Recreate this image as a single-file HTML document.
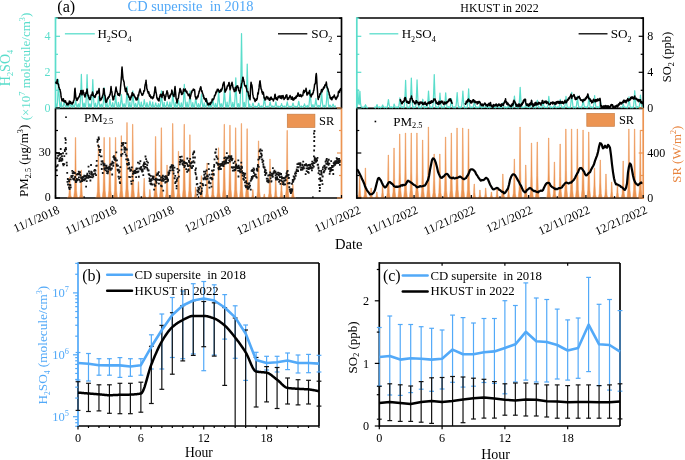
<!DOCTYPE html>
<html><head><meta charset="utf-8"><title>figure</title>
<style>html,body{margin:0;padding:0;background:#fff;width:685px;height:460px;overflow:hidden}
svg{display:block;font-family:"Liberation Serif",serif;will-change:transform}</style></head>
<body>
<svg width="685" height="460" viewBox="0 0 685 460" font-family="Liberation Serif">
<rect width="685" height="460" fill="#fff"/>
<path d="M67.9,198 L68.75,195.48 L69.19,189.6 L69.58,177 L70.02,177 L70.41,189.6 L70.84,195.48 L71.7,198 Z M73.62,198 L74.47,190.74 L74.91,173.8 L75.3,137.5 L75.74,137.5 L76.13,173.8 L76.56,190.74 L77.42,198 Z M79.34,198 L80.19,194.64 L80.63,186.8 L81.02,170 L81.46,170 L81.85,186.8 L82.28,194.64 L83.14,198 Z M96.5,198 L97.36,191.52 L97.79,176.4 L98.18,144 L98.62,144 L99.01,176.4 L99.45,191.52 L100.3,198 Z M102.22,198 L103.08,190.73 L103.51,173.76 L103.9,137.4 L104.34,137.4 L104.73,173.76 L105.17,190.73 L106.02,198 Z M107.94,198 L108.8,190.73 L109.23,173.76 L109.62,137.4 L110.06,137.4 L110.45,173.76 L110.89,190.73 L111.74,198 Z M113.66,198 L114.52,190.73 L114.95,173.76 L115.34,137.4 L115.78,137.4 L116.17,173.76 L116.61,190.73 L117.46,198 Z M119.38,198 L120.23,190.52 L120.67,173.08 L121.06,135.7 L121.5,135.7 L121.89,173.08 L122.33,190.52 L123.18,198 Z M125.1,198 L125.95,188.95 L126.39,167.84 L126.78,122.6 L127.22,122.6 L127.61,167.84 L128.04,188.95 L128.9,198 Z M130.82,198 L131.68,189.16 L132.11,168.52 L132.5,124.3 L132.94,124.3 L133.33,168.52 L133.76,189.16 L134.62,198 Z M136.54,198 L137.4,196.04 L137.83,191.48 L138.22,181.7 L138.66,181.7 L139.05,191.48 L139.48,196.04 L140.34,198 Z M142.26,198 L143.12,195.64 L143.55,190.12 L143.94,178.3 L144.38,178.3 L144.77,190.12 L145.2,195.64 L146.06,198 Z M147.98,198 L148.84,196.99 L149.27,194.64 L149.66,189.6 L150.1,189.6 L150.49,194.64 L150.92,196.99 L151.78,198 Z M153.7,198 L154.56,190.62 L154.99,173.4 L155.38,136.5 L155.82,136.5 L156.21,173.4 L156.64,190.62 L157.5,198 Z M159.42,198 L160.28,189.58 L160.71,169.92 L161.1,127.8 L161.54,127.8 L161.93,169.92 L162.36,189.58 L163.22,198 Z M165.14,198 L166,194.04 L166.43,184.8 L166.82,165 L167.26,165 L167.65,184.8 L168.08,194.04 L168.94,198 Z M170.86,198 L171.72,189.06 L172.15,168.2 L172.54,123.5 L172.98,123.5 L173.37,168.2 L173.8,189.06 L174.66,198 Z M176.58,198 L177.44,192.4 L177.87,179.32 L178.26,151.3 L178.7,151.3 L179.09,179.32 L179.52,192.4 L180.38,198 Z M182.3,198 L183.16,189.16 L183.59,168.52 L183.98,124.3 L184.42,124.3 L184.81,168.52 L185.24,189.16 L186.1,198 Z M188.02,198 L188.88,190.42 L189.31,172.72 L189.7,134.8 L190.14,134.8 L190.53,172.72 L190.96,190.42 L191.82,198 Z M193.74,198 L194.59,196.68 L195.03,193.6 L195.42,187 L195.86,187 L196.25,193.6 L196.68,196.68 L197.54,198 Z M199.46,198 L200.31,195.32 L200.75,189.08 L201.14,175.7 L201.58,175.7 L201.97,189.08 L202.4,195.32 L203.26,198 Z M205.18,198 L206.03,193.8 L206.47,184 L206.86,163 L207.3,163 L207.69,184 L208.12,193.8 L208.98,198 Z M210.9,198 L211.75,194.69 L212.19,186.96 L212.58,170.4 L213.02,170.4 L213.41,186.96 L213.84,194.69 L214.7,198 Z M216.62,198 L217.47,191.98 L217.91,177.92 L218.3,147.8 L218.74,147.8 L219.13,177.92 L219.56,191.98 L220.42,198 Z M222.34,198 L223.19,189.16 L223.63,168.52 L224.02,124.3 L224.46,124.3 L224.85,168.52 L225.28,189.16 L226.14,198 Z M228.06,198 L228.91,189.26 L229.35,168.88 L229.74,125.2 L230.18,125.2 L230.57,168.88 L231,189.26 L231.86,198 Z M233.78,198 L234.63,189.58 L235.07,169.92 L235.46,127.8 L235.9,127.8 L236.29,169.92 L236.72,189.58 L237.58,198 Z M239.5,198 L240.36,189.06 L240.79,168.2 L241.18,123.5 L241.62,123.5 L242.01,168.2 L242.44,189.06 L243.3,198 Z M245.22,198 L246.08,189.68 L246.51,170.28 L246.9,128.7 L247.34,128.7 L247.73,170.28 L248.16,189.68 L249.02,198 Z M250.94,198 L251.8,196.99 L252.23,194.64 L252.62,189.6 L253.06,189.6 L253.45,194.64 L253.88,196.99 L254.74,198 Z M256.66,198 L257.51,191.15 L257.95,175.16 L258.34,140.9 L258.78,140.9 L259.17,175.16 L259.61,191.15 L260.46,198 Z M262.38,198 L263.23,197.52 L263.67,196.4 L264.06,194 L264.5,194 L264.89,196.4 L265.32,197.52 L266.18,198 Z M268.1,198 L268.95,193.32 L269.39,182.4 L269.78,159 L270.22,159 L270.61,182.4 L271.05,193.32 L271.9,198 Z M273.82,198 L274.68,195.53 L275.11,189.76 L275.5,177.4 L275.94,177.4 L276.33,189.76 L276.77,195.53 L277.62,198 Z M279.54,198 L280.39,195.73 L280.83,190.44 L281.22,179.1 L281.66,179.1 L282.05,190.44 L282.49,195.73 L283.34,198 Z M285.26,198 L286.11,189.89 L286.55,170.96 L286.94,130.4 L287.38,130.4 L287.77,170.96 L288.2,189.89 L289.06,198 Z M290.98,198 L291.83,196.37 L292.27,192.56 L292.66,184.4 L293.1,184.4 L293.49,192.56 L293.93,196.37 L294.78,198 Z" fill="#EC9452" stroke="#EC9452" stroke-width="0.5"/>
<path d="M357.76,198 L358.62,195.36 L359.06,189.2 L359.44,176 L359.88,176 L360.27,189.2 L360.71,195.36 L361.56,198 Z M363.49,198 L364.35,194.4 L364.78,186 L365.17,168 L365.61,168 L366,186 L366.44,194.4 L367.29,198 Z M369.22,198 L370.07,196.8 L370.51,194 L370.9,188 L371.34,188 L371.73,194 L372.17,196.8 L373.02,198 Z M374.95,198 L375.8,197.28 L376.24,195.6 L376.63,192 L377.07,192 L377.46,195.6 L377.89,197.28 L378.75,198 Z M380.68,198 L381.53,196.32 L381.97,192.4 L382.36,184 L382.8,184 L383.18,192.4 L383.62,196.32 L384.48,198 Z M386.4,198 L387.26,192.84 L387.7,180.8 L388.08,155 L388.52,155 L388.91,180.8 L389.35,192.84 L390.2,198 Z M392.13,198 L392.99,192 L393.42,178 L393.81,148 L394.25,148 L394.64,178 L395.08,192 L395.93,198 Z M397.86,198 L398.71,190.32 L399.15,172.4 L399.54,134 L399.98,134 L400.37,172.4 L400.81,190.32 L401.66,198 Z M403.59,198 L404.44,190.2 L404.88,172 L405.27,133 L405.71,133 L406.1,172 L406.53,190.2 L407.39,198 Z M409.32,198 L410.17,190.2 L410.61,172 L411,133 L411.44,133 L411.82,172 L412.26,190.2 L413.12,198 Z M415.04,198 L415.9,190.2 L416.34,172 L416.72,133 L417.16,133 L417.55,172 L417.99,190.2 L418.84,198 Z M420.77,198 L421.63,191.04 L422.06,174.8 L422.45,140 L422.89,140 L423.28,174.8 L423.72,191.04 L424.57,198 Z M426.5,198 L427.36,189.48 L427.79,169.6 L428.18,127 L428.62,127 L429.01,169.6 L429.45,189.48 L430.3,198 Z M432.23,198 L433.08,192.72 L433.52,180.4 L433.91,154 L434.35,154 L434.74,180.4 L435.17,192.72 L436.03,198 Z M437.96,198 L438.81,192.72 L439.25,180.4 L439.64,154 L440.08,154 L440.46,180.4 L440.9,192.72 L441.76,198 Z M443.68,198 L444.54,190.68 L444.98,173.6 L445.36,137 L445.8,137 L446.19,173.6 L446.63,190.68 L447.48,198 Z M449.41,198 L450.27,190.2 L450.7,172 L451.09,133 L451.53,133 L451.92,172 L452.36,190.2 L453.21,198 Z M455.14,198 L456,189.6 L456.43,170 L456.82,128 L457.26,128 L457.65,170 L458.09,189.6 L458.94,198 Z M460.87,198 L461.72,189.6 L462.16,170 L462.55,128 L462.99,128 L463.38,170 L463.81,189.6 L464.67,198 Z M466.6,198 L467.45,189.72 L467.89,170.4 L468.28,129 L468.72,129 L469.1,170.4 L469.54,189.72 L470.4,198 Z M472.32,198 L473.18,196.32 L473.62,192.4 L474,184 L474.44,184 L474.83,192.4 L475.27,196.32 L476.12,198 Z M478.05,198 L478.91,197.04 L479.34,194.8 L479.73,190 L480.17,190 L480.56,194.8 L481,197.04 L481.85,198 Z M483.78,198 L484.64,196.8 L485.07,194 L485.46,188 L485.9,188 L486.29,194 L486.73,196.8 L487.58,198 Z M489.51,198 L490.36,197.28 L490.8,195.6 L491.19,192 L491.63,192 L492.02,195.6 L492.45,197.28 L493.31,198 Z M495.24,198 L496.09,196.8 L496.53,194 L496.92,188 L497.36,188 L497.74,194 L498.18,196.8 L499.04,198 Z M500.96,198 L501.82,195.12 L502.26,188.4 L502.64,174 L503.08,174 L503.47,188.4 L503.91,195.12 L504.76,198 Z M506.69,198 L507.55,196.8 L507.98,194 L508.37,188 L508.81,188 L509.2,194 L509.64,196.8 L510.49,198 Z M512.42,198 L513.28,193.32 L513.71,182.4 L514.1,159 L514.54,159 L514.93,182.4 L515.37,193.32 L516.22,198 Z M518.15,198 L519,189.48 L519.44,169.6 L519.83,127 L520.27,127 L520.66,169.6 L521.09,189.48 L521.95,198 Z M523.88,198 L524.73,194.04 L525.17,184.8 L525.56,165 L526,165 L526.38,184.8 L526.82,194.04 L527.68,198 Z M529.6,198 L530.46,191.4 L530.9,176 L531.28,143 L531.72,143 L532.11,176 L532.55,191.4 L533.4,198 Z M535.33,198 L536.19,191.28 L536.62,175.6 L537.01,142 L537.45,142 L537.84,175.6 L538.28,191.28 L539.13,198 Z M546.79,198 L547.64,190.8 L548.08,174 L548.47,138 L548.91,138 L549.3,174 L549.73,190.8 L550.59,198 Z M552.52,198 L553.37,193.68 L553.81,183.6 L554.2,162 L554.64,162 L555.02,183.6 L555.46,193.68 L556.32,198 Z M558.24,198 L559.1,191.52 L559.54,176.4 L559.92,144 L560.36,144 L560.75,176.4 L561.19,191.52 L562.04,198 Z M563.97,198 L564.83,189.72 L565.26,170.4 L565.65,129 L566.09,129 L566.48,170.4 L566.92,189.72 L567.77,198 Z M569.7,198 L570.56,189.72 L570.99,170.4 L571.38,129 L571.82,129 L572.21,170.4 L572.64,189.72 L573.5,198 Z M575.43,198 L576.28,189.72 L576.72,170.4 L577.11,129 L577.55,129 L577.94,170.4 L578.37,189.72 L579.23,198 Z M581.16,198 L582.01,189.84 L582.45,170.8 L582.84,130 L583.28,130 L583.66,170.8 L584.1,189.84 L584.96,198 Z M586.88,198 L587.74,190.08 L588.18,171.6 L588.56,132 L589,132 L589.39,171.6 L589.83,190.08 L590.68,198 Z M592.61,198 L593.47,194.4 L593.9,186 L594.29,168 L594.73,168 L595.12,186 L595.56,194.4 L596.41,198 Z M598.34,198 L599.2,193.44 L599.63,182.8 L600.02,160 L600.46,160 L600.85,182.8 L601.28,193.44 L602.14,198 Z M604.07,198 L604.92,195.12 L605.36,188.4 L605.75,174 L606.19,174 L606.58,188.4 L607.01,195.12 L607.87,198 Z M609.8,198 L610.65,196.08 L611.09,191.6 L611.48,182 L611.92,182 L612.3,191.6 L612.74,196.08 L613.6,198 Z M615.52,198 L616.38,196.32 L616.82,192.4 L617.2,184 L617.64,184 L618.03,192.4 L618.47,196.32 L619.32,198 Z M621.25,198 L622.11,193.56 L622.54,183.2 L622.93,161 L623.37,161 L623.76,183.2 L624.2,193.56 L625.05,198 Z M626.98,198 L627.84,189.72 L628.27,170.4 L628.66,129 L629.1,129 L629.49,170.4 L629.93,189.72 L630.78,198 Z M632.71,198 L633.56,189.72 L634,170.4 L634.39,129 L634.83,129 L635.22,170.4 L635.65,189.72 L636.51,198 Z M638.44,198 L639.29,189.84 L639.73,170.8 L640.12,130 L640.56,130 L640.94,170.8 L641.38,189.84 L642.24,198 Z" fill="#EC9452" stroke="#EC9452" stroke-width="0.5"/>
<path d="M55.36,165.76h1.8v1.8h-1.8z M55.87,169.33h1.8v1.8h-1.8z M55.71,151.91h1.8v1.8h-1.8z M56.36,157.37h1.8v1.8h-1.8z M56.54,164.88h1.8v1.8h-1.8z M56.77,164.25h1.8v1.8h-1.8z M57.19,154.94h1.8v1.8h-1.8z M57.51,152.44h1.8v1.8h-1.8z M58.03,152.26h1.8v1.8h-1.8z M58.36,160.24h1.8v1.8h-1.8z M58.64,153.98h1.8v1.8h-1.8z M58.55,158.13h1.8v1.8h-1.8z M59.07,159.79h1.8v1.8h-1.8z M59.6,156.85h1.8v1.8h-1.8z M59.65,153.09h1.8v1.8h-1.8z M59.82,148.12h1.8v1.8h-1.8z M60.23,159.23h1.8v1.8h-1.8z M60.24,152.88h1.8v1.8h-1.8z M60.6,159.88h1.8v1.8h-1.8z M61.06,155.18h1.8v1.8h-1.8z M61.34,157.76h1.8v1.8h-1.8z M61.49,158.97h1.8v1.8h-1.8z M62.1,152.33h1.8v1.8h-1.8z M62.13,163.09h1.8v1.8h-1.8z M62.58,164.5h1.8v1.8h-1.8z M62.66,163.35h1.8v1.8h-1.8z M63.4,163.15h1.8v1.8h-1.8z M63.43,155.13h1.8v1.8h-1.8z M63.9,148.7h1.8v1.8h-1.8z M63.94,150.22h1.8v1.8h-1.8z M64.39,137.13h1.8v1.8h-1.8z M64.68,141.91h1.8v1.8h-1.8z M64.86,138.97h1.8v1.8h-1.8z M64.88,147.01h1.8v1.8h-1.8z M65.18,148.51h1.8v1.8h-1.8z M65.42,152.64h1.8v1.8h-1.8z M66,164.57h1.8v1.8h-1.8z M65.81,161.68h1.8v1.8h-1.8z M66.55,181.02h1.8v1.8h-1.8z M66.31,171.98h1.8v1.8h-1.8z M66.9,178.11h1.8v1.8h-1.8z M67.08,183.6h1.8v1.8h-1.8z M67.33,183.68h1.8v1.8h-1.8z M67.79,178.82h1.8v1.8h-1.8z M68.29,180.49h1.8v1.8h-1.8z M68.06,186.61h1.8v1.8h-1.8z M68.69,188.24h1.8v1.8h-1.8z M68.8,183.94h1.8v1.8h-1.8z M69.53,184.26h1.8v1.8h-1.8z M69.86,186.51h1.8v1.8h-1.8z M69.69,178.42h1.8v1.8h-1.8z M69.84,178.49h1.8v1.8h-1.8z M70.35,175.25h1.8v1.8h-1.8z M70.5,176.24h1.8v1.8h-1.8z M71.08,176.06h1.8v1.8h-1.8z M71.14,175.04h1.8v1.8h-1.8z M71.37,170.04h1.8v1.8h-1.8z M71.73,172.26h1.8v1.8h-1.8z M71.89,174.65h1.8v1.8h-1.8z M72.32,172.25h1.8v1.8h-1.8z M72.21,178.04h1.8v1.8h-1.8z M72.62,171.1h1.8v1.8h-1.8z M72.93,178.81h1.8v1.8h-1.8z M72.8,178.17h1.8v1.8h-1.8z M73.12,178.48h1.8v1.8h-1.8z M73.31,177.52h1.8v1.8h-1.8z M73.78,171.91h1.8v1.8h-1.8z M73.95,172.12h1.8v1.8h-1.8z M74.24,176.08h1.8v1.8h-1.8z M74.55,179.49h1.8v1.8h-1.8z M74.92,181.21h1.8v1.8h-1.8z M75.35,180.87h1.8v1.8h-1.8z M75.67,173.66h1.8v1.8h-1.8z M75.78,178.01h1.8v1.8h-1.8z M76.35,179.38h1.8v1.8h-1.8z M76.67,172.9h1.8v1.8h-1.8z M77.03,178.47h1.8v1.8h-1.8z M77.45,173.38h1.8v1.8h-1.8z M77.82,170.69h1.8v1.8h-1.8z M78.02,176.56h1.8v1.8h-1.8z M78.37,179.04h1.8v1.8h-1.8z M78.33,172.53h1.8v1.8h-1.8z M78.89,173.49h1.8v1.8h-1.8z M79.14,171.22h1.8v1.8h-1.8z M79.4,180.85h1.8v1.8h-1.8z M79.54,174.48h1.8v1.8h-1.8z M80.14,176.38h1.8v1.8h-1.8z M80.18,176.87h1.8v1.8h-1.8z M80.18,180.39h1.8v1.8h-1.8z M80.77,177.18h1.8v1.8h-1.8z M80.81,179.57h1.8v1.8h-1.8z M81.4,180.17h1.8v1.8h-1.8z M81.35,177.07h1.8v1.8h-1.8z M81.32,178.48h1.8v1.8h-1.8z M81.61,179.2h1.8v1.8h-1.8z M82.07,176.09h1.8v1.8h-1.8z M82.28,179.23h1.8v1.8h-1.8z M82.88,175.98h1.8v1.8h-1.8z M83,178.44h1.8v1.8h-1.8z M83.34,174.81h1.8v1.8h-1.8z M83.39,178.29h1.8v1.8h-1.8z M83.32,175.15h1.8v1.8h-1.8z M83.59,179.47h1.8v1.8h-1.8z M83.97,178.22h1.8v1.8h-1.8z M84.59,178.06h1.8v1.8h-1.8z M84.89,177.25h1.8v1.8h-1.8z M85.21,185.69h1.8v1.8h-1.8z M85.11,175.1h1.8v1.8h-1.8z M85.81,180.14h1.8v1.8h-1.8z M85.97,174.48h1.8v1.8h-1.8z M85.93,176.58h1.8v1.8h-1.8z M86.48,172.64h1.8v1.8h-1.8z M86.47,173.74h1.8v1.8h-1.8z M87.18,177.07h1.8v1.8h-1.8z M87.6,175.36h1.8v1.8h-1.8z M87.62,165.66h1.8v1.8h-1.8z M88.1,176.19h1.8v1.8h-1.8z M88.07,170.58h1.8v1.8h-1.8z M88.13,175.06h1.8v1.8h-1.8z M88.57,176.37h1.8v1.8h-1.8z M88.91,172.72h1.8v1.8h-1.8z M89.5,179.62h1.8v1.8h-1.8z M89.83,176.08h1.8v1.8h-1.8z M90.13,164.09h1.8v1.8h-1.8z M90.29,170.79h1.8v1.8h-1.8z M90.5,173.91h1.8v1.8h-1.8z M90.35,171.26h1.8v1.8h-1.8z M90.91,173.21h1.8v1.8h-1.8z M91.01,171.43h1.8v1.8h-1.8z M91.62,176.44h1.8v1.8h-1.8z M91.72,173.9h1.8v1.8h-1.8z M92.37,175.36h1.8v1.8h-1.8z M92.85,173.3h1.8v1.8h-1.8z M93.3,170.01h1.8v1.8h-1.8z M93.35,169.86h1.8v1.8h-1.8z M93.97,169.07h1.8v1.8h-1.8z M94.34,172.46h1.8v1.8h-1.8z M94.58,169.72h1.8v1.8h-1.8z M95.16,174.2h1.8v1.8h-1.8z M95.4,164.93h1.8v1.8h-1.8z M95.87,164.74h1.8v1.8h-1.8z M95.86,160.05h1.8v1.8h-1.8z M96.53,140.94h1.8v1.8h-1.8z M96.63,138.7h1.8v1.8h-1.8z M96.99,139.25h1.8v1.8h-1.8z M97.31,144.67h1.8v1.8h-1.8z M97.77,136.52h1.8v1.8h-1.8z M98.06,138.31h1.8v1.8h-1.8z M98.09,145.86h1.8v1.8h-1.8z M98.33,149.03h1.8v1.8h-1.8z M98.35,154.29h1.8v1.8h-1.8z M98.9,149.39h1.8v1.8h-1.8z M99.11,151.1h1.8v1.8h-1.8z M99.61,149.07h1.8v1.8h-1.8z M99.85,155.38h1.8v1.8h-1.8z M100.65,155.56h1.8v1.8h-1.8z M100.46,163.54h1.8v1.8h-1.8z M100.66,160.49h1.8v1.8h-1.8z M100.86,168.12h1.8v1.8h-1.8z M101.14,160.78h1.8v1.8h-1.8z M101.69,160.28h1.8v1.8h-1.8z M101.85,172.1h1.8v1.8h-1.8z M102.37,162.34h1.8v1.8h-1.8z M102.7,164.62h1.8v1.8h-1.8z M102.8,164.78h1.8v1.8h-1.8z M103.09,163.86h1.8v1.8h-1.8z M103.63,163.17h1.8v1.8h-1.8z M103.35,167.51h1.8v1.8h-1.8z M103.58,168.43h1.8v1.8h-1.8z M104.2,167.23h1.8v1.8h-1.8z M104.13,164.72h1.8v1.8h-1.8z M104.61,169.37h1.8v1.8h-1.8z M104.88,167.27h1.8v1.8h-1.8z M105.59,164.64h1.8v1.8h-1.8z M105.47,165.83h1.8v1.8h-1.8z M105.99,170.14h1.8v1.8h-1.8z M106.25,172.19h1.8v1.8h-1.8z M106.27,167.61h1.8v1.8h-1.8z M106.88,172.45h1.8v1.8h-1.8z M107.21,166.8h1.8v1.8h-1.8z M107.18,170.64h1.8v1.8h-1.8z M107.84,168.75h1.8v1.8h-1.8z M107.61,167.8h1.8v1.8h-1.8z M108.37,165.73h1.8v1.8h-1.8z M108.61,167.81h1.8v1.8h-1.8z M108.81,166.11h1.8v1.8h-1.8z M109.34,167.79h1.8v1.8h-1.8z M109.44,163.79h1.8v1.8h-1.8z M109.9,168.87h1.8v1.8h-1.8z M110.11,164.05h1.8v1.8h-1.8z M110.27,163.14h1.8v1.8h-1.8z M110.41,162.8h1.8v1.8h-1.8z M111.02,167.58h1.8v1.8h-1.8z M111.27,173.61h1.8v1.8h-1.8z M111.49,162.52h1.8v1.8h-1.8z M111.52,160.64h1.8v1.8h-1.8z M112.29,164.48h1.8v1.8h-1.8z M112.65,161.92h1.8v1.8h-1.8z M112.34,164.88h1.8v1.8h-1.8z M112.58,156.12h1.8v1.8h-1.8z M113.05,155.34h1.8v1.8h-1.8z M113.29,157.88h1.8v1.8h-1.8z M113.41,156.59h1.8v1.8h-1.8z M113.98,159.07h1.8v1.8h-1.8z M114.23,157.54h1.8v1.8h-1.8z M114.47,157.16h1.8v1.8h-1.8z M114.72,158.14h1.8v1.8h-1.8z M115.19,159.67h1.8v1.8h-1.8z M115.42,151.44h1.8v1.8h-1.8z M115.81,163.39h1.8v1.8h-1.8z M115.97,165.07h1.8v1.8h-1.8z M116.06,159.46h1.8v1.8h-1.8z M116.1,165.04h1.8v1.8h-1.8z M116.68,168.81h1.8v1.8h-1.8z M117.02,169.74h1.8v1.8h-1.8z M117.13,164.72h1.8v1.8h-1.8z M117.88,168.83h1.8v1.8h-1.8z M117.56,175.65h1.8v1.8h-1.8z M118.17,177.77h1.8v1.8h-1.8z M118.14,171.75h1.8v1.8h-1.8z M118.82,170.54h1.8v1.8h-1.8z M118.9,181.35h1.8v1.8h-1.8z M119.19,182.22h1.8v1.8h-1.8z M119.51,176.3h1.8v1.8h-1.8z M119.42,166.25h1.8v1.8h-1.8z M120.39,154.9h1.8v1.8h-1.8z M120.24,153.65h1.8v1.8h-1.8z M120.73,148.79h1.8v1.8h-1.8z M121.01,142.3h1.8v1.8h-1.8z M120.83,144.96h1.8v1.8h-1.8z M121.56,143.28h1.8v1.8h-1.8z M121.8,143.27h1.8v1.8h-1.8z M121.56,153h1.8v1.8h-1.8z M121.83,143.74h1.8v1.8h-1.8z M122.29,143.93h1.8v1.8h-1.8z M122.65,142.01h1.8v1.8h-1.8z M123.37,146.28h1.8v1.8h-1.8z M123.59,147.47h1.8v1.8h-1.8z M123.46,148.8h1.8v1.8h-1.8z M123.75,151.3h1.8v1.8h-1.8z M124.28,149.05h1.8v1.8h-1.8z M124.44,146.93h1.8v1.8h-1.8z M124.66,147.97h1.8v1.8h-1.8z M124.77,142.27h1.8v1.8h-1.8z M124.82,153.43h1.8v1.8h-1.8z M125.3,158.41h1.8v1.8h-1.8z M125.86,148.58h1.8v1.8h-1.8z M125.61,154.99h1.8v1.8h-1.8z M126.16,163.05h1.8v1.8h-1.8z M126.81,163.96h1.8v1.8h-1.8z M126.99,158.34h1.8v1.8h-1.8z M127.04,159.24h1.8v1.8h-1.8z M127.47,159.46h1.8v1.8h-1.8z M127.31,167.7h1.8v1.8h-1.8z M128.13,163.49h1.8v1.8h-1.8z M127.89,161.96h1.8v1.8h-1.8z M128.24,176.05h1.8v1.8h-1.8z M128.64,166.81h1.8v1.8h-1.8z M128.56,167.55h1.8v1.8h-1.8z M129.13,176.14h1.8v1.8h-1.8z M129.37,170.01h1.8v1.8h-1.8z M129.39,169.18h1.8v1.8h-1.8z M130.01,168.84h1.8v1.8h-1.8z M130.28,180.39h1.8v1.8h-1.8z M130.14,169.43h1.8v1.8h-1.8z M130.64,182.9h1.8v1.8h-1.8z M131,166.51h1.8v1.8h-1.8z M131.32,175.7h1.8v1.8h-1.8z M132.09,179.79h1.8v1.8h-1.8z M131.99,173.05h1.8v1.8h-1.8z M132.24,170.5h1.8v1.8h-1.8z M132.35,172.97h1.8v1.8h-1.8z M132.69,172.34h1.8v1.8h-1.8z M133.15,171.54h1.8v1.8h-1.8z M133.06,170.74h1.8v1.8h-1.8z M133.5,171.99h1.8v1.8h-1.8z M133.59,171.41h1.8v1.8h-1.8z M133.96,170.03h1.8v1.8h-1.8z M134.27,169.72h1.8v1.8h-1.8z M134.63,172.21h1.8v1.8h-1.8z M135.26,176.14h1.8v1.8h-1.8z M135.15,170.63h1.8v1.8h-1.8z M135.37,168.25h1.8v1.8h-1.8z M135.7,167.46h1.8v1.8h-1.8z M136.62,167.82h1.8v1.8h-1.8z M136.4,171.41h1.8v1.8h-1.8z M136.86,171.19h1.8v1.8h-1.8z M136.89,170.86h1.8v1.8h-1.8z M137.05,161.74h1.8v1.8h-1.8z M137.58,170.46h1.8v1.8h-1.8z M137.95,175.87h1.8v1.8h-1.8z M138.62,167.49h1.8v1.8h-1.8z M138.55,162.58h1.8v1.8h-1.8z M139.27,167.78h1.8v1.8h-1.8z M139.59,168.38h1.8v1.8h-1.8z M139.5,160.24h1.8v1.8h-1.8z M139.89,167.07h1.8v1.8h-1.8z M139.81,166.68h1.8v1.8h-1.8z M140.38,166.05h1.8v1.8h-1.8z M140.88,169.7h1.8v1.8h-1.8z M141.39,168.8h1.8v1.8h-1.8z M141.3,170.58h1.8v1.8h-1.8z M141.71,168.47h1.8v1.8h-1.8z M141.85,170.29h1.8v1.8h-1.8z M142.27,164.52h1.8v1.8h-1.8z M142.39,174.31h1.8v1.8h-1.8z M142.79,165.3h1.8v1.8h-1.8z M143.09,165.77h1.8v1.8h-1.8z M143.02,162.6h1.8v1.8h-1.8z M143.65,167.78h1.8v1.8h-1.8z M143.6,161.47h1.8v1.8h-1.8z M143.89,163.25h1.8v1.8h-1.8z M144.57,155.61h1.8v1.8h-1.8z M144.6,163.16h1.8v1.8h-1.8z M144.58,166.08h1.8v1.8h-1.8z M145.25,158.31h1.8v1.8h-1.8z M145.95,160.4h1.8v1.8h-1.8z M146.32,164.15h1.8v1.8h-1.8z M146.09,166.71h1.8v1.8h-1.8z M146.65,168.14h1.8v1.8h-1.8z M146.72,168.67h1.8v1.8h-1.8z M147.1,161.76h1.8v1.8h-1.8z M147.36,169.66h1.8v1.8h-1.8z M147.77,173.27h1.8v1.8h-1.8z M147.74,169.44h1.8v1.8h-1.8z M148.4,173.54h1.8v1.8h-1.8z M148.6,174.2h1.8v1.8h-1.8z M148.53,177.5h1.8v1.8h-1.8z M148.64,180.23h1.8v1.8h-1.8z M149.08,179.01h1.8v1.8h-1.8z M149.51,182.61h1.8v1.8h-1.8z M149.85,174.92h1.8v1.8h-1.8z M149.94,180.3h1.8v1.8h-1.8z M150.3,182.42h1.8v1.8h-1.8z M150.21,183.5h1.8v1.8h-1.8z M150.69,178.62h1.8v1.8h-1.8z M150.8,178.21h1.8v1.8h-1.8z M150.85,179.11h1.8v1.8h-1.8z M151.5,183.61h1.8v1.8h-1.8z M151.81,175.61h1.8v1.8h-1.8z M151.84,177.52h1.8v1.8h-1.8z M152.23,177.21h1.8v1.8h-1.8z M152.83,175.87h1.8v1.8h-1.8z M152.63,175.97h1.8v1.8h-1.8z M153.21,188.68h1.8v1.8h-1.8z M153.07,178.55h1.8v1.8h-1.8z M153.73,178.5h1.8v1.8h-1.8z M153.56,183.5h1.8v1.8h-1.8z M154.11,185.02h1.8v1.8h-1.8z M154.36,184.64h1.8v1.8h-1.8z M154.5,184.79h1.8v1.8h-1.8z M155,177.72h1.8v1.8h-1.8z M154.88,179.3h1.8v1.8h-1.8z M155.28,180.78h1.8v1.8h-1.8z M155.69,182.03h1.8v1.8h-1.8z M155.79,174.1h1.8v1.8h-1.8z M156.14,178.4h1.8v1.8h-1.8z M156.4,172.46h1.8v1.8h-1.8z M156.9,178.87h1.8v1.8h-1.8z M156.73,173.66h1.8v1.8h-1.8z M157.22,172.98h1.8v1.8h-1.8z M157.84,171.14h1.8v1.8h-1.8z M158,182.67h1.8v1.8h-1.8z M157.91,178.95h1.8v1.8h-1.8z M158.64,174.99h1.8v1.8h-1.8z M158.77,179.25h1.8v1.8h-1.8z M159.64,178.48h1.8v1.8h-1.8z M159.66,179.01h1.8v1.8h-1.8z M160.23,176.57h1.8v1.8h-1.8z M160.1,184.74h1.8v1.8h-1.8z M160.62,185.2h1.8v1.8h-1.8z M160.91,185.51h1.8v1.8h-1.8z M161.03,180.03h1.8v1.8h-1.8z M161.64,176.55h1.8v1.8h-1.8z M161.79,180.03h1.8v1.8h-1.8z M161.67,178.55h1.8v1.8h-1.8z M161.91,174.75h1.8v1.8h-1.8z M162.26,177.93h1.8v1.8h-1.8z M162.32,189.68h1.8v1.8h-1.8z M162.74,179.9h1.8v1.8h-1.8z M163.89,178.45h1.8v1.8h-1.8z M163.75,175.77h1.8v1.8h-1.8z M164.37,181.76h1.8v1.8h-1.8z M164.52,176.25h1.8v1.8h-1.8z M164.59,178.3h1.8v1.8h-1.8z M165.07,180.97h1.8v1.8h-1.8z M164.92,175.13h1.8v1.8h-1.8z M165.21,177.66h1.8v1.8h-1.8z M165.62,175.63h1.8v1.8h-1.8z M166.05,178.05h1.8v1.8h-1.8z M166,180.76h1.8v1.8h-1.8z M166.07,176.74h1.8v1.8h-1.8z M166.35,177.72h1.8v1.8h-1.8z M167.06,179.86h1.8v1.8h-1.8z M167.15,178.84h1.8v1.8h-1.8z M167.38,174.25h1.8v1.8h-1.8z M167.5,171.58h1.8v1.8h-1.8z M167.67,172.57h1.8v1.8h-1.8z M167.94,173.44h1.8v1.8h-1.8z M168.59,170.01h1.8v1.8h-1.8z M168.37,172.1h1.8v1.8h-1.8z M168.88,169.41h1.8v1.8h-1.8z M169.42,166.48h1.8v1.8h-1.8z M169.52,166.94h1.8v1.8h-1.8z M169.74,169.52h1.8v1.8h-1.8z M169.85,165.9h1.8v1.8h-1.8z M170.39,165.75h1.8v1.8h-1.8z M170.76,164.98h1.8v1.8h-1.8z M170.8,164.3h1.8v1.8h-1.8z M171.36,164.29h1.8v1.8h-1.8z M171.64,166.83h1.8v1.8h-1.8z M171.68,165.17h1.8v1.8h-1.8z M171.87,167.67h1.8v1.8h-1.8z M171.83,169.2h1.8v1.8h-1.8z M172.31,164.77h1.8v1.8h-1.8z M172.65,169.67h1.8v1.8h-1.8z M172.75,172.62h1.8v1.8h-1.8z M173.61,166.7h1.8v1.8h-1.8z M173.75,177.35h1.8v1.8h-1.8z M173.62,177.16h1.8v1.8h-1.8z M174.33,174.88h1.8v1.8h-1.8z M174.31,182.24h1.8v1.8h-1.8z M174.77,180.96h1.8v1.8h-1.8z M174.68,181.56h1.8v1.8h-1.8z M175.65,187.47h1.8v1.8h-1.8z M175.81,180.29h1.8v1.8h-1.8z M175.71,185.11h1.8v1.8h-1.8z M175.98,178.91h1.8v1.8h-1.8z M176.54,177.13h1.8v1.8h-1.8z M176.56,168.03h1.8v1.8h-1.8z M177.12,171.33h1.8v1.8h-1.8z M178.05,175.67h1.8v1.8h-1.8z M178.35,169.55h1.8v1.8h-1.8z M178.77,161.06h1.8v1.8h-1.8z M178.86,163.47h1.8v1.8h-1.8z M179.14,156.09h1.8v1.8h-1.8z M179.49,158.63h1.8v1.8h-1.8z M179.52,161.51h1.8v1.8h-1.8z M179.71,160h1.8v1.8h-1.8z M179.89,159.39h1.8v1.8h-1.8z M180.3,160.34h1.8v1.8h-1.8z M180.83,155.67h1.8v1.8h-1.8z M181.15,159.71h1.8v1.8h-1.8z M181.71,159.49h1.8v1.8h-1.8z M181.6,163.1h1.8v1.8h-1.8z M182.36,161.49h1.8v1.8h-1.8z M182.44,164.3h1.8v1.8h-1.8z M182.85,161.97h1.8v1.8h-1.8z M183.18,160.71h1.8v1.8h-1.8z M183.48,166.12h1.8v1.8h-1.8z M184.14,162.46h1.8v1.8h-1.8z M184.07,161.67h1.8v1.8h-1.8z M184.09,165.07h1.8v1.8h-1.8z M185.02,162.04h1.8v1.8h-1.8z M185.3,168.24h1.8v1.8h-1.8z M185.83,162.45h1.8v1.8h-1.8z M186.09,162.72h1.8v1.8h-1.8z M186.24,170.85h1.8v1.8h-1.8z M186.42,157.6h1.8v1.8h-1.8z M186.88,164.9h1.8v1.8h-1.8z M186.81,164.25h1.8v1.8h-1.8z M187.39,165.24h1.8v1.8h-1.8z M187.3,169.23h1.8v1.8h-1.8z M187.72,169.6h1.8v1.8h-1.8z M187.87,168.52h1.8v1.8h-1.8z M188.01,159.91h1.8v1.8h-1.8z M188.31,161.2h1.8v1.8h-1.8z M188.95,164.79h1.8v1.8h-1.8z M189.26,157.92h1.8v1.8h-1.8z M189.35,162.59h1.8v1.8h-1.8z M189.74,162.34h1.8v1.8h-1.8z M189.95,165.3h1.8v1.8h-1.8z M190.27,166.74h1.8v1.8h-1.8z M190.41,162.54h1.8v1.8h-1.8z M190.98,161.15h1.8v1.8h-1.8z M190.87,167.12h1.8v1.8h-1.8z M191.18,166.71h1.8v1.8h-1.8z M191.59,161.5h1.8v1.8h-1.8z M192.14,165.12h1.8v1.8h-1.8z M192.03,153.41h1.8v1.8h-1.8z M192.23,156.62h1.8v1.8h-1.8z M192.6,151.83h1.8v1.8h-1.8z M192.55,160.29h1.8v1.8h-1.8z M193.3,150.55h1.8v1.8h-1.8z M193.28,151.13h1.8v1.8h-1.8z M193.55,161.58h1.8v1.8h-1.8z M194.06,156.61h1.8v1.8h-1.8z M194.44,169.24h1.8v1.8h-1.8z M194.53,171.67h1.8v1.8h-1.8z M195.06,167.52h1.8v1.8h-1.8z M194.91,173.47h1.8v1.8h-1.8z M195.63,178.32h1.8v1.8h-1.8z M195.77,176.58h1.8v1.8h-1.8z M195.82,183.47h1.8v1.8h-1.8z M196.46,183.06h1.8v1.8h-1.8z M196.54,193.66h1.8v1.8h-1.8z M196.56,189.62h1.8v1.8h-1.8z M197.3,186.81h1.8v1.8h-1.8z M197.2,190.95h1.8v1.8h-1.8z M197.9,188.86h1.8v1.8h-1.8z M198.26,187.71h1.8v1.8h-1.8z M198.38,191.85h1.8v1.8h-1.8z M199.21,185.69h1.8v1.8h-1.8z M199.58,182.2h1.8v1.8h-1.8z M199.74,193.11h1.8v1.8h-1.8z M200.36,192.59h1.8v1.8h-1.8z M200.37,192.01h1.8v1.8h-1.8z M200.84,187.62h1.8v1.8h-1.8z M200.93,190.18h1.8v1.8h-1.8z M201.69,182.93h1.8v1.8h-1.8z M201.84,184.01h1.8v1.8h-1.8z M202.31,184.53h1.8v1.8h-1.8z M202.48,177.41h1.8v1.8h-1.8z M202.77,178.41h1.8v1.8h-1.8z M202.86,177.79h1.8v1.8h-1.8z M203.04,170.8h1.8v1.8h-1.8z M203.35,173.84h1.8v1.8h-1.8z M203.87,176.23h1.8v1.8h-1.8z M204.12,177.68h1.8v1.8h-1.8z M204.38,170.76h1.8v1.8h-1.8z M204.64,177.11h1.8v1.8h-1.8z M204.6,172.7h1.8v1.8h-1.8z M204.83,184.26h1.8v1.8h-1.8z M205.16,178.37h1.8v1.8h-1.8z M205.66,169.59h1.8v1.8h-1.8z M205.85,175.41h1.8v1.8h-1.8z M206.5,174.46h1.8v1.8h-1.8z M206.75,177.97h1.8v1.8h-1.8z M207.02,175.72h1.8v1.8h-1.8z M207.62,162.92h1.8v1.8h-1.8z M207.85,181.99h1.8v1.8h-1.8z M207.96,168.26h1.8v1.8h-1.8z M208.13,180.39h1.8v1.8h-1.8z M208.53,186.76h1.8v1.8h-1.8z M208.63,173.64h1.8v1.8h-1.8z M209.38,177.57h1.8v1.8h-1.8z M209.5,182.51h1.8v1.8h-1.8z M209.66,182.2h1.8v1.8h-1.8z M209.63,176.83h1.8v1.8h-1.8z M210.62,185.73h1.8v1.8h-1.8z M210.74,176.89h1.8v1.8h-1.8z M211.01,173.56h1.8v1.8h-1.8z M211.03,169.7h1.8v1.8h-1.8z M211.06,178.45h1.8v1.8h-1.8z M211.51,178.01h1.8v1.8h-1.8z M211.73,170.05h1.8v1.8h-1.8z M212.6,173.03h1.8v1.8h-1.8z M212.78,169.13h1.8v1.8h-1.8z M212.91,173.84h1.8v1.8h-1.8z M213.32,164.32h1.8v1.8h-1.8z M213.17,165.96h1.8v1.8h-1.8z M213.32,163.95h1.8v1.8h-1.8z M213.65,158.5h1.8v1.8h-1.8z M214.61,151.42h1.8v1.8h-1.8z M214.33,151.84h1.8v1.8h-1.8z M215.21,148.47h1.8v1.8h-1.8z M215.44,155.21h1.8v1.8h-1.8z M215.79,156.21h1.8v1.8h-1.8z M215.63,161.86h1.8v1.8h-1.8z M216.38,162.52h1.8v1.8h-1.8z M216.74,157.87h1.8v1.8h-1.8z M217.01,163.04h1.8v1.8h-1.8z M217.17,163.83h1.8v1.8h-1.8z M217.54,167.31h1.8v1.8h-1.8z M217.62,167.39h1.8v1.8h-1.8z M217.92,168.4h1.8v1.8h-1.8z M218.1,166.66h1.8v1.8h-1.8z M218.24,168h1.8v1.8h-1.8z M218.51,163.17h1.8v1.8h-1.8z M218.74,165.85h1.8v1.8h-1.8z M219.22,167.76h1.8v1.8h-1.8z M219.42,164.98h1.8v1.8h-1.8z M219.6,164.05h1.8v1.8h-1.8z M220.02,168.08h1.8v1.8h-1.8z M220.35,163.07h1.8v1.8h-1.8z M220.65,164.04h1.8v1.8h-1.8z M221.05,164.49h1.8v1.8h-1.8z M221.48,162.82h1.8v1.8h-1.8z M221.72,161.16h1.8v1.8h-1.8z M221.7,164.82h1.8v1.8h-1.8z M222.34,164.75h1.8v1.8h-1.8z M222.63,165.29h1.8v1.8h-1.8z M222.57,163.57h1.8v1.8h-1.8z M223.09,163.24h1.8v1.8h-1.8z M222.9,160.75h1.8v1.8h-1.8z M223.42,157.25h1.8v1.8h-1.8z M223.71,162.31h1.8v1.8h-1.8z M224.31,156.5h1.8v1.8h-1.8z M224.45,160.33h1.8v1.8h-1.8z M224.88,161.78h1.8v1.8h-1.8z M224.72,162.7h1.8v1.8h-1.8z M224.86,159.26h1.8v1.8h-1.8z M225.29,160.42h1.8v1.8h-1.8z M225.57,158.59h1.8v1.8h-1.8z M225.73,157.88h1.8v1.8h-1.8z M225.93,152.18h1.8v1.8h-1.8z M226.18,156.8h1.8v1.8h-1.8z M226.4,161.89h1.8v1.8h-1.8z M226.81,157.1h1.8v1.8h-1.8z M227.22,162.06h1.8v1.8h-1.8z M227.08,156.89h1.8v1.8h-1.8z M227.82,155.3h1.8v1.8h-1.8z M228.13,155.59h1.8v1.8h-1.8z M228.24,159.4h1.8v1.8h-1.8z M229,160.6h1.8v1.8h-1.8z M229.14,156.37h1.8v1.8h-1.8z M229.46,155.56h1.8v1.8h-1.8z M229.37,158.33h1.8v1.8h-1.8z M229.73,157.65h1.8v1.8h-1.8z M230.23,157.52h1.8v1.8h-1.8z M230.48,155.26h1.8v1.8h-1.8z M230.54,156.95h1.8v1.8h-1.8z M230.85,166.33h1.8v1.8h-1.8z M231.06,159.47h1.8v1.8h-1.8z M231.61,158.02h1.8v1.8h-1.8z M231.81,166.86h1.8v1.8h-1.8z M231.93,169.79h1.8v1.8h-1.8z M232.59,162.21h1.8v1.8h-1.8z M232.76,166.14h1.8v1.8h-1.8z M233.09,169.74h1.8v1.8h-1.8z M233.53,168.83h1.8v1.8h-1.8z M233.96,160.65h1.8v1.8h-1.8z M234.37,169.11h1.8v1.8h-1.8z M234.51,166.32h1.8v1.8h-1.8z M234.75,167.61h1.8v1.8h-1.8z M235.02,165.02h1.8v1.8h-1.8z M235.21,163.41h1.8v1.8h-1.8z M235.64,164.87h1.8v1.8h-1.8z M235.97,166.34h1.8v1.8h-1.8z M235.88,166.41h1.8v1.8h-1.8z M236.23,167h1.8v1.8h-1.8z M236.9,165.96h1.8v1.8h-1.8z M236.97,167.25h1.8v1.8h-1.8z M237.2,169.7h1.8v1.8h-1.8z M237.41,159.53h1.8v1.8h-1.8z M237.56,175.58h1.8v1.8h-1.8z M237.79,164.67h1.8v1.8h-1.8z M238.43,166.42h1.8v1.8h-1.8z M238.59,170.31h1.8v1.8h-1.8z M238.59,167.28h1.8v1.8h-1.8z M238.94,169.31h1.8v1.8h-1.8z M239.31,171.46h1.8v1.8h-1.8z M239.47,170.63h1.8v1.8h-1.8z M240,168.31h1.8v1.8h-1.8z M240.36,165.5h1.8v1.8h-1.8z M240.35,161.76h1.8v1.8h-1.8z M240.8,167.05h1.8v1.8h-1.8z M241.01,165.93h1.8v1.8h-1.8z M241.12,170.14h1.8v1.8h-1.8z M241.15,166.99h1.8v1.8h-1.8z M241.37,171.93h1.8v1.8h-1.8z M241.66,174.61h1.8v1.8h-1.8z M242.22,172.32h1.8v1.8h-1.8z M242.33,178.02h1.8v1.8h-1.8z M242.5,171.92h1.8v1.8h-1.8z M242.9,172.64h1.8v1.8h-1.8z M243.23,176.06h1.8v1.8h-1.8z M243.08,178.94h1.8v1.8h-1.8z M243.63,174.31h1.8v1.8h-1.8z M244.05,181.41h1.8v1.8h-1.8z M244.35,172.75h1.8v1.8h-1.8z M244.51,177.02h1.8v1.8h-1.8z M244.39,184.73h1.8v1.8h-1.8z M245.02,181.33h1.8v1.8h-1.8z M244.97,185.86h1.8v1.8h-1.8z M245.21,180.34h1.8v1.8h-1.8z M245.79,182.56h1.8v1.8h-1.8z M245.57,186.48h1.8v1.8h-1.8z M246.38,185.37h1.8v1.8h-1.8z M246.29,185.27h1.8v1.8h-1.8z M246.66,186.47h1.8v1.8h-1.8z M246.87,187.91h1.8v1.8h-1.8z M247.3,182.82h1.8v1.8h-1.8z M247.57,187.64h1.8v1.8h-1.8z M247.94,183.36h1.8v1.8h-1.8z M248.3,185.69h1.8v1.8h-1.8z M248.47,186.35h1.8v1.8h-1.8z M248.5,182.16h1.8v1.8h-1.8z M249.22,184.77h1.8v1.8h-1.8z M249.88,188.69h1.8v1.8h-1.8z M249.81,179.92h1.8v1.8h-1.8z M250.39,179.03h1.8v1.8h-1.8z M250.35,178.16h1.8v1.8h-1.8z M250.89,175.99h1.8v1.8h-1.8z M250.69,169.93h1.8v1.8h-1.8z M251.12,177.84h1.8v1.8h-1.8z M251.41,169.07h1.8v1.8h-1.8z M251.6,176.83h1.8v1.8h-1.8z M251.76,170.11h1.8v1.8h-1.8z M252.16,175.37h1.8v1.8h-1.8z M252.76,169.9h1.8v1.8h-1.8z M252.65,167.49h1.8v1.8h-1.8z M252.93,171.92h1.8v1.8h-1.8z M253.38,168.61h1.8v1.8h-1.8z M253.49,174.89h1.8v1.8h-1.8z M254.12,173.8h1.8v1.8h-1.8z M254.07,173.47h1.8v1.8h-1.8z M254.89,173.76h1.8v1.8h-1.8z M254.64,173.9h1.8v1.8h-1.8z M255.31,175.97h1.8v1.8h-1.8z M255.85,176.64h1.8v1.8h-1.8z M255.94,167.77h1.8v1.8h-1.8z M255.93,169.05h1.8v1.8h-1.8z M256.52,168.19h1.8v1.8h-1.8z M256.56,170h1.8v1.8h-1.8z M256.97,163.99h1.8v1.8h-1.8z M256.96,165.6h1.8v1.8h-1.8z M257.14,165.16h1.8v1.8h-1.8z M257.39,158.72h1.8v1.8h-1.8z M257.81,165.88h1.8v1.8h-1.8z M258.59,157.68h1.8v1.8h-1.8z M258.55,155.89h1.8v1.8h-1.8z M258.56,150.52h1.8v1.8h-1.8z M258.96,149.85h1.8v1.8h-1.8z M259.57,148.43h1.8v1.8h-1.8z M259.48,148.63h1.8v1.8h-1.8z M259.95,152.52h1.8v1.8h-1.8z M260.4,155.85h1.8v1.8h-1.8z M260.48,153.07h1.8v1.8h-1.8z M261.06,149.81h1.8v1.8h-1.8z M260.97,154.56h1.8v1.8h-1.8z M261.12,158.62h1.8v1.8h-1.8z M261.46,158.43h1.8v1.8h-1.8z M261.62,161.21h1.8v1.8h-1.8z M262.38,160.04h1.8v1.8h-1.8z M262.42,163.34h1.8v1.8h-1.8z M262.56,165.46h1.8v1.8h-1.8z M262.75,166.11h1.8v1.8h-1.8z M263.33,166.8h1.8v1.8h-1.8z M263.5,167.03h1.8v1.8h-1.8z M263.73,166.43h1.8v1.8h-1.8z M263.9,171.09h1.8v1.8h-1.8z M264.15,169.1h1.8v1.8h-1.8z M264.33,174.09h1.8v1.8h-1.8z M264.87,172.84h1.8v1.8h-1.8z M264.87,169.58h1.8v1.8h-1.8z M265.48,172.09h1.8v1.8h-1.8z M265.84,177.74h1.8v1.8h-1.8z M266.35,179.85h1.8v1.8h-1.8z M266.21,180.2h1.8v1.8h-1.8z M266.53,180.36h1.8v1.8h-1.8z M266.81,177.76h1.8v1.8h-1.8z M267.32,174.61h1.8v1.8h-1.8z M267.39,181.14h1.8v1.8h-1.8z M267.88,179.45h1.8v1.8h-1.8z M267.77,181.48h1.8v1.8h-1.8z M267.97,180.3h1.8v1.8h-1.8z M268.64,174.36h1.8v1.8h-1.8z M268.77,173.67h1.8v1.8h-1.8z M269.32,171.41h1.8v1.8h-1.8z M269.68,177.44h1.8v1.8h-1.8z M270.36,180.82h1.8v1.8h-1.8z M270.3,174.69h1.8v1.8h-1.8z M270.57,172.7h1.8v1.8h-1.8z M270.55,180.27h1.8v1.8h-1.8z M271.3,173.59h1.8v1.8h-1.8z M271.63,176.02h1.8v1.8h-1.8z M271.74,172.98h1.8v1.8h-1.8z M271.98,175.55h1.8v1.8h-1.8z M271.97,167.13h1.8v1.8h-1.8z M272.63,171.55h1.8v1.8h-1.8z M272.63,172.7h1.8v1.8h-1.8z M272.76,171.89h1.8v1.8h-1.8z M273.13,171.36h1.8v1.8h-1.8z M273.47,169.82h1.8v1.8h-1.8z M274.33,171.8h1.8v1.8h-1.8z M274.59,170.7h1.8v1.8h-1.8z M274.75,176.99h1.8v1.8h-1.8z M274.73,174.67h1.8v1.8h-1.8z M275.09,178.75h1.8v1.8h-1.8z M275.37,173.47h1.8v1.8h-1.8z M275.45,172.55h1.8v1.8h-1.8z M275.88,178.74h1.8v1.8h-1.8z M276.15,177.61h1.8v1.8h-1.8z M276.22,176.13h1.8v1.8h-1.8z M276.84,173.67h1.8v1.8h-1.8z M277.18,171.74h1.8v1.8h-1.8z M277.27,171.65h1.8v1.8h-1.8z M277.44,178.56h1.8v1.8h-1.8z M278.04,174.56h1.8v1.8h-1.8z M278.19,181h1.8v1.8h-1.8z M278.52,173.06h1.8v1.8h-1.8z M278.77,172.18h1.8v1.8h-1.8z M278.96,176.25h1.8v1.8h-1.8z M278.83,179.34h1.8v1.8h-1.8z M279.57,182.93h1.8v1.8h-1.8z M280.01,173.35h1.8v1.8h-1.8z M280.22,173h1.8v1.8h-1.8z M280.28,176.2h1.8v1.8h-1.8z M280.6,179.86h1.8v1.8h-1.8z M280.82,175.86h1.8v1.8h-1.8z M281.07,177.33h1.8v1.8h-1.8z M281.82,180.85h1.8v1.8h-1.8z M281.97,183.32h1.8v1.8h-1.8z M282,177.43h1.8v1.8h-1.8z M282.63,177.07h1.8v1.8h-1.8z M282.62,182.03h1.8v1.8h-1.8z M283.03,183.81h1.8v1.8h-1.8z M283.36,179.66h1.8v1.8h-1.8z M283.77,179.91h1.8v1.8h-1.8z M283.86,177.47h1.8v1.8h-1.8z M284.27,183.56h1.8v1.8h-1.8z M284.49,176.5h1.8v1.8h-1.8z M284.85,179.21h1.8v1.8h-1.8z M284.88,176.37h1.8v1.8h-1.8z M285.31,175.23h1.8v1.8h-1.8z M285.61,172.47h1.8v1.8h-1.8z M285.84,174.71h1.8v1.8h-1.8z M286.24,170.69h1.8v1.8h-1.8z M286.37,173.72h1.8v1.8h-1.8z M286.76,170.05h1.8v1.8h-1.8z M286.96,174.98h1.8v1.8h-1.8z M287.14,182.57h1.8v1.8h-1.8z M287.5,177.16h1.8v1.8h-1.8z M287.74,173.96h1.8v1.8h-1.8z M288.04,176.99h1.8v1.8h-1.8z M288.39,186.13h1.8v1.8h-1.8z M288.39,182.06h1.8v1.8h-1.8z M288.79,182.49h1.8v1.8h-1.8z M288.79,188.52h1.8v1.8h-1.8z M289.25,190.24h1.8v1.8h-1.8z M289.29,190.62h1.8v1.8h-1.8z M290,192.23h1.8v1.8h-1.8z M289.95,189.36h1.8v1.8h-1.8z M290.36,188.28h1.8v1.8h-1.8z M290.5,191.57h1.8v1.8h-1.8z M291.08,183.03h1.8v1.8h-1.8z M291.08,189.92h1.8v1.8h-1.8z M291.29,188.52h1.8v1.8h-1.8z M291.71,181.21h1.8v1.8h-1.8z M291.82,179.09h1.8v1.8h-1.8z M292.38,180.57h1.8v1.8h-1.8z M292.19,180h1.8v1.8h-1.8z M292.36,178.88h1.8v1.8h-1.8z M292.76,175.4h1.8v1.8h-1.8z M293.03,178.58h1.8v1.8h-1.8z M293.38,176.2h1.8v1.8h-1.8z M293.87,177.62h1.8v1.8h-1.8z M294.23,172.9h1.8v1.8h-1.8z M294.12,173.03h1.8v1.8h-1.8z M294.61,171.41h1.8v1.8h-1.8z M294.95,172.41h1.8v1.8h-1.8z M294.8,174.97h1.8v1.8h-1.8z M295.29,172.41h1.8v1.8h-1.8z M295.82,168.52h1.8v1.8h-1.8z M295.63,170.31h1.8v1.8h-1.8z M296.35,169.47h1.8v1.8h-1.8z M296.46,163.31h1.8v1.8h-1.8z M296.48,166.31h1.8v1.8h-1.8z M296.91,169.47h1.8v1.8h-1.8z M297.02,169.68h1.8v1.8h-1.8z M297.23,170.27h1.8v1.8h-1.8z M297.67,162.61h1.8v1.8h-1.8z M297.82,166.37h1.8v1.8h-1.8z M297.8,163.12h1.8v1.8h-1.8z M298.54,162.84h1.8v1.8h-1.8z M299.32,163.79h1.8v1.8h-1.8z M299.45,162.26h1.8v1.8h-1.8z M299.33,164.81h1.8v1.8h-1.8z M299.98,168.85h1.8v1.8h-1.8z M299.98,168.76h1.8v1.8h-1.8z M300.23,166.71h1.8v1.8h-1.8z M300.74,166.77h1.8v1.8h-1.8z M300.95,168.98h1.8v1.8h-1.8z M301.32,163.7h1.8v1.8h-1.8z M301.54,164.57h1.8v1.8h-1.8z M301.84,164.35h1.8v1.8h-1.8z M301.78,168.53h1.8v1.8h-1.8z M302.31,160.72h1.8v1.8h-1.8z M302.26,166.64h1.8v1.8h-1.8z M302.33,167.22h1.8v1.8h-1.8z M302.71,166.15h1.8v1.8h-1.8z M303.07,167.57h1.8v1.8h-1.8z M303.95,164.1h1.8v1.8h-1.8z M304.31,164.54h1.8v1.8h-1.8z M304.74,173.13h1.8v1.8h-1.8z M304.86,163.63h1.8v1.8h-1.8z M305.21,163.34h1.8v1.8h-1.8z M305.74,170.22h1.8v1.8h-1.8z M305.59,167.54h1.8v1.8h-1.8z M306.04,164.68h1.8v1.8h-1.8z M306.6,164.99h1.8v1.8h-1.8z M306.74,167.32h1.8v1.8h-1.8z M307.03,171.08h1.8v1.8h-1.8z M307.44,168.25h1.8v1.8h-1.8z M307.45,163.99h1.8v1.8h-1.8z M307.81,171.83h1.8v1.8h-1.8z M307.9,168.18h1.8v1.8h-1.8z M308.49,164.34h1.8v1.8h-1.8z M308.41,166.91h1.8v1.8h-1.8z M308.67,163.93h1.8v1.8h-1.8z M309.38,165.35h1.8v1.8h-1.8z M309.09,167.52h1.8v1.8h-1.8z M309.38,163.83h1.8v1.8h-1.8z M309.66,165.15h1.8v1.8h-1.8z M310.39,166.6h1.8v1.8h-1.8z M310.49,167.48h1.8v1.8h-1.8z M310.58,167.32h1.8v1.8h-1.8z M311.06,163.03h1.8v1.8h-1.8z M311.04,169.49h1.8v1.8h-1.8z M311.31,160.71h1.8v1.8h-1.8z M311.45,166.53h1.8v1.8h-1.8z M311.77,166.96h1.8v1.8h-1.8z M312,164.32h1.8v1.8h-1.8z M312.43,162.09h1.8v1.8h-1.8z M312.5,161.71h1.8v1.8h-1.8z M312.9,165.68h1.8v1.8h-1.8z M312.99,155.47h1.8v1.8h-1.8z M313.62,159.52h1.8v1.8h-1.8z M313.85,158.04h1.8v1.8h-1.8z M313.6,162.22h1.8v1.8h-1.8z M313.91,156.66h1.8v1.8h-1.8z M314.25,160.06h1.8v1.8h-1.8z M314.92,160.99h1.8v1.8h-1.8z M315.37,158.57h1.8v1.8h-1.8z M315.21,160.62h1.8v1.8h-1.8z M315.76,159.91h1.8v1.8h-1.8z M315.62,157.92h1.8v1.8h-1.8z M316.19,159.53h1.8v1.8h-1.8z M316.59,156.98h1.8v1.8h-1.8z M316.75,163.88h1.8v1.8h-1.8z M317.13,163.67h1.8v1.8h-1.8z M316.85,163.71h1.8v1.8h-1.8z M317.56,166.39h1.8v1.8h-1.8z M317.56,167.81h1.8v1.8h-1.8z M317.62,172.27h1.8v1.8h-1.8z M318.24,177.91h1.8v1.8h-1.8z M318.18,170h1.8v1.8h-1.8z M318.81,173.57h1.8v1.8h-1.8z M318.92,184.12h1.8v1.8h-1.8z M319.34,177.16h1.8v1.8h-1.8z M319.4,178.39h1.8v1.8h-1.8z M319.66,180.21h1.8v1.8h-1.8z M320.18,169.99h1.8v1.8h-1.8z M320.64,173.75h1.8v1.8h-1.8z M320.44,171.1h1.8v1.8h-1.8z M320.67,171.94h1.8v1.8h-1.8z M321.15,179.8h1.8v1.8h-1.8z M321.61,183.15h1.8v1.8h-1.8z M321.64,175.58h1.8v1.8h-1.8z M321.86,175.49h1.8v1.8h-1.8z M321.84,168.46h1.8v1.8h-1.8z M322.08,166.48h1.8v1.8h-1.8z M322.89,171.33h1.8v1.8h-1.8z M322.94,170.72h1.8v1.8h-1.8z M323.35,165.08h1.8v1.8h-1.8z M323.07,170.79h1.8v1.8h-1.8z M323.73,169.71h1.8v1.8h-1.8z M323.8,164.87h1.8v1.8h-1.8z M324.1,167.11h1.8v1.8h-1.8z M324.63,160.77h1.8v1.8h-1.8z M324.57,168.32h1.8v1.8h-1.8z M325.35,162.78h1.8v1.8h-1.8z M325.38,159.82h1.8v1.8h-1.8z M325.63,158.73h1.8v1.8h-1.8z M325.64,166.49h1.8v1.8h-1.8z M325.91,157.98h1.8v1.8h-1.8z M326.36,163.23h1.8v1.8h-1.8z M326.9,162.08h1.8v1.8h-1.8z M326.86,160.56h1.8v1.8h-1.8z M327.39,163.31h1.8v1.8h-1.8z M327.56,164.05h1.8v1.8h-1.8z M327.9,158.83h1.8v1.8h-1.8z M327.87,167.87h1.8v1.8h-1.8z M328.47,162.77h1.8v1.8h-1.8z M328.74,172.88h1.8v1.8h-1.8z M329.14,170.79h1.8v1.8h-1.8z M329.54,169h1.8v1.8h-1.8z M329.31,167.11h1.8v1.8h-1.8z M329.94,166.89h1.8v1.8h-1.8z M330.25,169.62h1.8v1.8h-1.8z M330.26,160.14h1.8v1.8h-1.8z M330.39,168.48h1.8v1.8h-1.8z M331,164.97h1.8v1.8h-1.8z M331.72,166.28h1.8v1.8h-1.8z M331.87,169.11h1.8v1.8h-1.8z M332.4,173.11h1.8v1.8h-1.8z M332.55,165.01h1.8v1.8h-1.8z M332.83,164.88h1.8v1.8h-1.8z M332.7,162.16h1.8v1.8h-1.8z M333.32,163.51h1.8v1.8h-1.8z M333.55,161.34h1.8v1.8h-1.8z M334.15,163.87h1.8v1.8h-1.8z M334.05,161.64h1.8v1.8h-1.8z M334.2,161.59h1.8v1.8h-1.8z M334.48,160.37h1.8v1.8h-1.8z M335.17,162.52h1.8v1.8h-1.8z M335.52,160.61h1.8v1.8h-1.8z M335.33,161.52h1.8v1.8h-1.8z M335.79,157.23h1.8v1.8h-1.8z M336.36,161.98h1.8v1.8h-1.8z M336.25,158.84h1.8v1.8h-1.8z M336.58,161.12h1.8v1.8h-1.8z M336.92,158.81h1.8v1.8h-1.8z M337.22,158.06h1.8v1.8h-1.8z M337.38,162.11h1.8v1.8h-1.8z M337.77,159.9h1.8v1.8h-1.8z M338.18,157.96h1.8v1.8h-1.8z M338.17,161.57h1.8v1.8h-1.8z M338.46,160.83h1.8v1.8h-1.8z M339.03,163.97h1.8v1.8h-1.8z M338.94,161.29h1.8v1.8h-1.8z M339.29,159.87h1.8v1.8h-1.8z M313.59,130.1h1.8v1.8h-1.8z M313.02,132.6h1.8v1.8h-1.8z M313.58,136.1h1.8v1.8h-1.8z M313.25,140.1h1.8v1.8h-1.8z M313.53,145.1h1.8v1.8h-1.8z M313.22,149.6h1.8v1.8h-1.8z M318.36,184.1h1.8v1.8h-1.8z M318.99,187.1h1.8v1.8h-1.8z M318.74,190.1h1.8v1.8h-1.8z" fill="#151515"/>
<polyline points="357,169.22 357.78,170.24 358.89,172.21 360,174.46 361,176.43 362,179.06 363,180.85 364,183.21 365,186.2 366,188.33 367,190.33 368,191.6 369,192.91 370,194.43 371,194.28 372,194.17 373.04,193.25 374.07,191.78 375,189.92 376.06,185.85 377,181.96 377.94,178.72 379,177.84 379.93,179.05 380.96,180.63 382,182.98 383,185.07 384,186.38 385,187.45 386.04,186.84 387.07,185.18 388,183.52 389,182.18 390,182.08 390.93,183.01 391.96,183.72 393,184.63 393.96,186.11 394.93,186.63 396,186.97 396.75,186.62 397.58,186.87 398.42,186.62 399.25,186.46 400,186.4 401.11,185.21 402.11,185.59 403,184.82 404,185.1 405,184.84 405.93,184.05 406.96,181.98 408,180.57 409,181.2 410,181.76 411,182.52 412,183.22 413,184.21 414,184.95 415,185.28 416,186.19 417,187.4 417.96,186.9 418.93,186.85 420,186.04 420.74,186.49 421.53,186.41 422.35,186.27 423.18,185.92 424,185.65 424.83,185.54 425.7,184.39 426.54,182.77 427.33,181.22 428,180.14 429.12,175.68 430,169.75 431,164.93 432,160.03 433,158.33 434,158.68 435,160.59 436,163.43 436.94,167.08 438,171.74 438.93,174.16 439.96,176.41 441,177.73 442,177.84 443,176.7 444,176.16 445,174.85 446,173.99 447,173.92 448,174.71 449,176.29 450,177.59 450.96,177.8 451.93,178.32 453,177.55 453.75,178 454.58,178.44 455.42,178.19 456.25,177.87 457,177.9 458.07,177.56 459.04,176.97 460,176.55 461.04,177.17 462.07,178.01 463,178.71 464,179.21 465,178.6 465.96,178.12 467.04,176.26 468,175.01 469.06,172.51 470,170 470.94,169.24 472,169.28 472.93,169.58 473.96,170.42 475,171.54 476.04,173.79 477.07,175.28 478,176.79 479.06,178.4 480,179.68 480.94,180.64 482,179.97 482.96,180.09 484.04,179.71 485,178.75 486,177.79 487,178.39 487.96,179.29 489.04,181.99 490,184.44 491.06,186.28 492,187.92 493,189.27 494,189.36 494.88,188.86 496,188.21 496.69,187.93 497.5,188.13 498.38,188.58 499.23,189.98 500,190.04 501.11,191.09 502.11,191.87 503,191.74 504,193.41 505,192.77 505.96,191.57 507.04,189.88 508,188.5 509.06,184.44 510,179.85 511,177.04 512,175.32 513,174.3 514,174.4 515,175.11 516,176.73 517,178.45 518,180.43 518.94,181.93 520,184.37 520.96,185.7 522.04,188.23 523,190.42 524.06,191.57 525,192.29 525.94,191.56 527,189.94 527.93,189.37 528.96,188.56 530,187.94 531.04,188.43 532.07,189.57 533,190.38 534,191.05 535,190.87 535.96,191.58 537.04,191.87 538,192.35 539,191.37 540,190.97 540.96,190.53 542.04,190.86 543,190.21 544,187.66 545,185.61 545.89,184.14 546.89,183.15 548,182.78 548.74,182.77 549.53,183.42 550.35,185.08 551.18,186.25 552,186.93 552.8,187.38 553.6,187.97 554.4,188.27 555.2,189.14 556,188.88 556.82,189.22 557.65,188.91 558.47,188.35 559.26,188.09 560,188.17 561.07,187.81 562.04,187.2 563,185.65 563.96,184.72 564.93,183.41 566,182.69 566.77,182.71 567.62,183.05 568.5,183.34 569.31,183.11 570,182.65 571.06,182.63 572,181.64 572.93,180.74 573.96,179.67 575,178 576.04,175.75 577.07,173.7 578,172.4 579,169.63 580,168.1 580.96,167.97 582.04,168.76 583,170.26 584.06,171.58 585,174.15 585.94,175.39 587,175.14 587.96,173.88 589.04,172.76 590,172.28 591.06,169.75 592,167.92 593,166.28 594,164.18 595,160.91 596,158.18 597,155.6 598,151.97 599,146.9 600,143.19 601.06,143.62 602,145.19 602.5,147.18 603,148.28 603.94,147.52 605,145.75 606.06,147.24 607,147.71 607.5,146.05 608,144.84 608.94,145.76 610,147.79 611,155.12 612,164.43 613,172.11 614,178.26 614.88,181.6 616,184.32 616.69,184.22 617.5,184.6 618.38,184.96 619.23,185.5 620,185.74 621.11,187.03 622.11,187.28 623,188.35 624.06,189.49 625,189.87 626.06,187.71 627,183.55 627.5,178.14 628,172.45 628.94,166.78 630,163.43 631,164.91 632,169.94 633,175.52 634,179.65 635,182.13 636,183.71 637,184.46 638,185.24 638.94,184.28 640,183.49 641.04,182.4 642.19,183.13 643,183.29" fill="none" stroke="#000" stroke-width="2.2" stroke-linejoin="round" />
<line x1="55.5" y1="18" x2="341.5" y2="18" stroke="#000" stroke-width="1.7" />
<line x1="55.5" y1="108.3" x2="341.5" y2="108.3" stroke="#000" stroke-width="1.7" />
<line x1="55.5" y1="198" x2="341.5" y2="198" stroke="#000" stroke-width="1.7" />
<line x1="356.8" y1="18" x2="643.2" y2="18" stroke="#000" stroke-width="1.7" />
<line x1="356.8" y1="108.3" x2="643.2" y2="108.3" stroke="#000" stroke-width="1.7" />
<line x1="356.8" y1="198" x2="643.2" y2="198" stroke="#000" stroke-width="1.7" />
<line x1="66.94" y1="197.7" x2="84.1" y2="197.7" stroke="#EC9452" stroke-width="1.0" stroke-opacity="0.45"/>
<line x1="95.54" y1="197.7" x2="295.74" y2="197.7" stroke="#EC9452" stroke-width="1.0" stroke-opacity="0.45"/>
<line x1="356.8" y1="197.7" x2="540.1" y2="197.7" stroke="#EC9452" stroke-width="1.0" stroke-opacity="0.45"/>
<line x1="545.82" y1="197.7" x2="643.2" y2="197.7" stroke="#EC9452" stroke-width="1.0" stroke-opacity="0.45"/>
<line x1="55.5" y1="17.15" x2="55.5" y2="108.3" stroke="#5ADDCB" stroke-width="1.7" />
<line x1="55.5" y1="108.3" x2="55.5" y2="198.85" stroke="#000" stroke-width="1.7" />
<line x1="356.8" y1="17.15" x2="356.8" y2="108.3" stroke="#5ADDCB" stroke-width="1.7" />
<line x1="356.8" y1="108.3" x2="356.8" y2="198.85" stroke="#000" stroke-width="1.7" />
<line x1="341.5" y1="17.15" x2="341.5" y2="108.3" stroke="#000" stroke-width="1.7" />
<line x1="341.5" y1="108.3" x2="341.5" y2="198.85" stroke="#EC9452" stroke-width="1.7" />
<line x1="643.2" y1="17.15" x2="643.2" y2="108.3" stroke="#000" stroke-width="1.7" />
<line x1="643.2" y1="108.3" x2="643.2" y2="198.85" stroke="#EC9452" stroke-width="1.7" />
<polyline points="55.5,103.38 55.74,103.88 55.98,105.25 56.22,106.45 56.45,106.97 56.69,106.8 56.93,106.93 57.17,105.14 57.41,102.91 57.65,99.05 57.88,94.36 58.12,89.08 58.36,82.74 58.48,79.66 58.6,82.98 58.84,89.12 59.08,94.37 59.31,98.96 59.55,102.65 59.79,105.32 60.03,106.66 60.27,107.1 60.51,106.41 60.74,105.51 60.98,103.88 61.22,102.05 61.46,104.55 61.7,105.64 61.94,106.54 62.17,107.04 62.41,106.91 62.65,107 62.89,106.6 63.13,106.28 63.37,105.36 63.6,104.39 63.84,103.36 64.08,101.64 64.2,101.08 64.32,101.73 64.56,102.92 64.8,104.43 65.03,105.15 65.27,106.25 65.51,106.6 65.75,107.14 65.99,107.18 66.22,106.32 66.46,105.66 66.7,103.49 66.94,103.71 67.18,104.68 67.42,105.15 67.66,106.43 67.89,107.03 68.13,107.1 68.37,107.02 68.61,106.46 68.85,106.36 69.08,105.71 69.32,104.69 69.56,103.83 69.8,102.41 69.92,101.83 70.04,102.4 70.28,103.59 70.52,104.67 70.75,105.75 70.99,106.04 71.23,106.61 71.47,106.77 71.71,107.25 71.94,106.28 72.18,105.51 72.42,104.41 72.66,102.37 72.9,105.21 73.14,105.14 73.38,106.03 73.61,107.24 73.85,107.1 74.09,106.88 74.33,106.73 74.57,106.12 74.81,104.99 75.04,104.31 75.28,102.94 75.52,101.43 75.64,100.51 75.76,101.08 76,102.68 76.23,104.16 76.47,105.11 76.71,106.23 76.95,106.53 77.19,106.81 77.43,106.85 77.66,106.43 77.9,105.04 78.14,104.24 78.38,104.11 78.62,103.87 78.86,105.12 79.09,106.55 79.33,107.15 79.57,106.95 79.81,106.94 80.05,104.82 80.29,101.76 80.53,97.88 80.76,92.58 81,86.15 81.24,78.76 81.36,74.46 81.48,78.81 81.72,86.29 81.95,92.6 82.19,97.58 82.43,101.83 82.67,105.02 82.91,106.68 83.15,107.21 83.38,106.31 83.62,105.48 83.86,104.63 84.1,103.21 84.34,104.04 84.58,105.24 84.81,106.62 85.05,106.99 85.29,107.03 85.53,106.73 85.77,105.12 86.01,101.97 86.25,97.61 86.48,92.42 86.72,86.2 86.96,78.71 87.08,74.7 87.2,78.83 87.44,86.09 87.67,92.64 87.91,97.91 88.15,101.82 88.39,105.2 88.63,106.54 88.87,106.97 89.1,106.31 89.34,105.8 89.58,104.11 89.82,104 90.06,103.9 90.3,105.25 90.53,106.61 90.77,106.99 91.01,107.17 91.25,106.73 91.49,105.2 91.73,102.6 91.97,98.86 92.2,94.56 92.44,89.1 92.68,82.94 92.8,79.74 92.92,83.17 93.16,89.07 93.39,94.72 93.63,98.92 93.87,102.9 94.11,105.16 94.35,106.97 94.59,107.1 94.82,106.21 95.06,105.14 95.3,105.13 95.54,103.08 95.78,105.08 96.02,105.9 96.25,106.22 96.49,107.21 96.73,106.81 96.97,106.78 97.21,106.2 97.45,105.27 97.69,104 97.92,102.34 98.16,100.3 98.4,97.92 98.52,96.66 98.64,98.19 98.88,100.44 99.11,102.24 99.35,104.07 99.59,105.58 99.83,106.37 100.07,107.15 100.31,107.17 100.54,106.27 100.78,105.35 101.02,104.76 101.26,104.18 101.5,104.49 101.74,105.88 101.97,106.22 102.21,106.87 102.45,106.98 102.69,106.81 102.93,106.04 103.17,104.03 103.41,101.75 103.64,98.31 103.88,94.57 104.12,90.29 104.24,87.9 104.36,90.17 104.6,94.58 104.84,98.14 105.07,101.38 105.31,104.02 105.55,105.89 105.79,107.02 106.03,106.91 106.27,105.92 106.5,105.22 106.74,105.12 106.98,102.48 107.22,104.13 107.46,105.67 107.69,106.45 107.93,107.16 108.17,107.2 108.41,107.03 108.65,106.28 108.89,105.72 109.12,104.96 109.36,103.59 109.6,102.1 109.84,100.01 109.96,99.42 110.08,100.28 110.32,101.79 110.56,103.4 110.79,104.67 111.03,105.65 111.27,106.76 111.51,106.87 111.75,107.09 111.98,106.24 112.22,105.01 112.46,104.69 112.7,102.62 112.94,103.97 113.18,105.61 113.41,106.31 113.65,106.9 113.89,106.98 114.13,106.71 114.37,106.14 114.61,105.45 114.84,103.73 115.08,102.13 115.32,99.56 115.56,97.33 115.68,95.74 115.8,97.12 116.04,99.5 116.28,101.9 116.51,103.86 116.75,105.43 116.99,106.06 117.23,106.9 117.47,106.9 117.7,106.34 117.94,105.68 118.18,105.14 118.42,102.33 118.66,103.81 118.9,104.89 119.13,106.27 119.37,107.04 119.61,106.96 119.85,106.67 120.09,106.39 120.33,105.26 120.56,103.29 120.8,101.2 121.04,99.13 121.28,96.22 121.4,94.71 121.52,96.09 121.76,98.68 121.99,101.33 122.23,103.48 122.47,104.82 122.71,106.03 122.95,106.81 123.19,107.12 123.42,105.98 123.66,105.11 123.9,104.18 124.14,103.7 124.38,104.93 124.62,105.21 124.86,106.37 125.09,106.82 125.33,106.8 125.57,106.62 125.81,105.61 126.05,104.01 126.28,101.13 126.52,97.85 126.76,93.77 127,89.12 127.12,86.51 127.24,89.3 127.48,93.71 127.72,97.71 127.95,101.14 128.19,103.99 128.43,105.49 128.67,106.93 128.91,106.99 129.14,106 129.38,105.65 129.62,104.03 129.86,102.13 130.1,104.69 130.34,105.42 130.57,106.22 130.81,107.13 131.05,107.03 131.29,107 131.53,106.2 131.77,104.38 132,102.25 132.24,99.83 132.48,96.35 132.72,92.95 132.84,90.76 132.96,92.67 133.2,96.55 133.44,99.8 133.67,102.36 133.91,104.35 134.15,106.1 134.39,106.62 134.63,107.09 134.87,106.19 135.1,105.41 135.34,104.46 135.58,103.48 135.82,103.9 136.06,105.21 136.3,106.13 136.53,106.91 136.77,106.87 137.01,107.05 137.25,106.66 137.49,105.43 137.72,104.37 137.96,103.16 138.2,101.12 138.44,99.36 138.56,97.78 138.68,99.07 138.92,101.36 139.16,103.19 139.39,104.33 139.63,105.81 139.87,106.2 140.11,106.86 140.35,106.92 140.58,106.16 140.82,105.46 141.06,103.48 141.3,102.13 141.54,104.67 141.78,105.03 142.01,106.44 142.25,107.21 142.49,106.93 142.73,106.7 142.97,106.69 143.21,105.61 143.44,104.66 143.68,103.54 143.92,102.41 144.16,100.41 144.28,99.66 144.4,100.63 144.64,102.09 144.88,103.79 145.11,104.94 145.35,105.6 145.59,106.53 145.83,107.16 146.07,106.88 146.31,106.3 146.54,104.81 146.78,104 147.02,102.69 147.26,104.07 147.5,105.43 147.74,105.96 147.97,107.13 148.21,106.78 148.45,106.97 148.69,106.87 148.93,106.3 149.16,105.07 149.4,104.29 149.64,103.09 149.88,101.71 150,101.09 150.12,101.92 150.36,102.92 150.59,104.19 150.83,105.21 151.07,105.91 151.31,106.5 151.55,107.14 151.79,106.91 152.02,106.57 152.26,105.21 152.5,103.95 152.74,102.02 152.98,104.5 153.22,105.26 153.45,106.35 153.69,106.84 153.93,107.04 154.17,106.9 154.41,106.71 154.65,106.48 154.88,105.6 155.12,105.16 155.36,104.21 155.6,103.18 155.72,102.85 155.84,103.18 156.08,104.19 156.31,104.95 156.55,105.65 156.79,106.37 157.03,106.54 157.27,106.99 157.51,106.8 157.75,106.51 157.98,105.32 158.22,104.81 158.46,103.61 158.7,104.47 158.94,105.28 159.18,106.18 159.41,106.85 159.65,107.2 159.89,107.02 160.13,106.19 160.37,104.31 160.6,102.4 160.84,99.94 161.08,96.63 161.32,92.91 161.44,90.79 161.56,93.12 161.8,96.56 162.03,99.97 162.27,102.19 162.51,104.71 162.75,105.77 162.99,106.8 163.23,107.06 163.46,105.99 163.7,104.96 163.94,104.62 164.18,102.38 164.42,104.66 164.66,105.27 164.89,106.3 165.13,107.2 165.37,107.03 165.61,106.72 165.85,106.48 166.09,106.19 166.32,105.38 166.56,104.65 166.8,103.65 167.04,102.33 167.16,101.76 167.28,102.23 167.52,103.71 167.75,104.45 167.99,105.28 168.23,106.13 168.47,106.64 168.71,106.72 168.95,106.79 169.19,106.33 169.42,105.11 169.66,104.24 169.9,102.12 170.14,104.05 170.38,105.3 170.62,106.64 170.85,107.23 171.09,106.83 171.33,107.09 171.57,105.99 171.81,104.48 172.05,102.58 172.28,100.05 172.52,97.49 172.76,93.75 172.88,91.91 173,93.71 173.24,97.5 173.47,100.43 173.71,102.83 173.95,104.66 174.19,105.99 174.43,106.9 174.67,107.19 174.91,106.68 175.14,105.18 175.38,103.77 175.62,102.26 175.86,104.64 176.1,105.23 176.33,105.96 176.57,106.88 176.81,107.24 177.05,107.03 177.29,106.34 177.53,105.81 177.76,105.1 178,104.26 178.24,102.65 178.48,101.07 178.6,100.43 178.72,101.24 178.96,102.83 179.19,103.92 179.43,105.12 179.67,106.2 179.91,106.42 180.15,107.01 180.39,107.14 180.62,106.2 180.86,105.84 181.1,104.15 181.34,102.88 181.58,103.81 181.82,105.77 182.06,106.47 182.29,106.87 182.53,107.14 182.77,106.83 183.01,105.4 183.25,103.5 183.49,100.55 183.72,96.59 183.96,92.19 184.2,87.33 184.32,84.41 184.44,87.31 184.68,92.28 184.91,96.73 185.15,100.28 185.39,103.21 185.63,105.71 185.87,106.98 186.11,106.88 186.34,106.23 186.58,105.11 186.82,104.71 187.06,102.13 187.3,103.53 187.54,105.42 187.78,106.41 188.01,106.91 188.25,106.91 188.49,107.06 188.73,106.09 188.97,104.72 189.2,102.55 189.44,99.91 189.68,96.68 189.92,92.81 190.04,90.96 190.16,93.12 190.4,96.33 190.63,99.95 190.87,102.2 191.11,104.25 191.35,106.06 191.59,106.98 191.83,107.05 192.06,106.49 192.3,105.26 192.54,105.11 192.78,102.59 193.02,104.72 193.26,105.45 193.5,106.3 193.73,107.16 193.97,106.89 194.21,106.71 194.45,106.23 194.69,105.39 194.92,104.01 195.16,102.59 195.4,100.43 195.64,98.25 195.76,97.06 195.88,98.21 196.12,100.66 196.35,102.59 196.59,103.99 196.83,105.23 197.07,106.21 197.31,106.76 197.55,107.24 197.78,106.46 198.02,105.5 198.26,104.75 198.5,103.67 198.74,104.87 198.98,105.39 199.22,106.2 199.45,107.07 199.69,107.14 199.93,107.03 200.17,106.13 200.41,104.96 200.64,103.15 200.88,101.03 201.12,98.65 201.36,95.89 201.48,94.49 201.6,95.87 201.84,98.9 202.07,101.34 202.31,103.27 202.55,105.18 202.79,106.33 203.03,106.86 203.27,107.04 203.5,106.4 203.74,104.88 203.98,104.65 204.22,102.97 204.46,104.63 204.7,105.48 204.94,106.1 205.17,106.84 205.41,107.11 205.65,107.17 205.89,106.53 206.13,106.11 206.36,105.07 206.6,104.09 206.84,102.58 207.08,100.99 207.2,100.55 207.32,101.22 207.56,102.71 207.79,104.07 208.03,105.23 208.27,105.93 208.51,106.71 208.75,106.81 208.99,107.19 209.22,106.28 209.46,105.13 209.7,104.09 209.94,103.64 210.18,104.84 210.42,105.21 210.66,106.11 210.89,106.98 211.13,106.95 211.37,107.14 211.61,106.56 211.85,105.64 212.08,104.85 212.32,103.27 212.56,101.76 212.8,99.75 212.92,98.74 213.04,99.85 213.28,101.69 213.51,103.26 213.75,104.84 213.99,105.79 214.23,106.61 214.47,107.17 214.71,106.78 214.94,106.32 215.18,105.73 215.42,104.52 215.66,103.38 215.9,104.82 216.14,104.98 216.38,106.54 216.61,106.86 216.85,107.14 217.09,106.93 217.33,106.02 217.57,104.71 217.81,102.45 218.04,99.89 218.28,96.47 218.52,92.72 218.64,90.83 218.76,92.79 219,96.45 219.23,99.57 219.47,102.49 219.71,104.35 219.95,105.98 220.19,106.93 220.43,106.93 220.66,106.29 220.9,105.9 221.14,103.88 221.38,104.08 221.62,103.88 221.86,106 222.09,106.1 222.33,106.82 222.57,107.14 222.81,106.66 223.05,105.98 223.29,104.26 223.53,101.77 223.76,98.75 224,95.05 224.24,90.73 224.36,88.42 224.48,90.83 224.72,94.77 224.95,98.38 225.19,101.41 225.43,103.89 225.67,105.83 225.91,107.02 226.15,107.17 226.38,106.32 226.62,105.37 226.86,104.45 227.1,102.07 227.34,104.18 227.58,105.81 227.81,106.43 228.05,107.24 228.29,106.99 228.53,106.63 228.77,106.06 229.01,104.66 229.25,102.36 229.48,99.87 229.72,96.54 229.96,92.94 230.08,90.8 230.2,92.86 230.44,96.46 230.67,99.97 230.91,102.52 231.15,104.39 231.39,106.04 231.63,107 231.87,107.11 232.1,106.16 232.34,105.64 232.58,104.85 232.82,102.41 233.06,104.23 233.3,105.05 233.53,106.3 233.77,107.05 234.01,106.86 234.25,106.73 234.49,104.98 234.73,102.19 234.97,98.82 235.2,93.75 235.44,88.23 235.68,81.33 235.8,77.76 235.92,81.41 236.16,88.3 236.39,93.85 236.63,98.42 236.87,102.46 237.11,105.15 237.35,106.69 237.59,107.22 237.82,106.09 238.06,105.22 238.3,103.96 238.54,103.65 238.78,105.1 239.02,105.91 239.25,106.62 239.49,106.76 239.73,106.87 239.97,106.21 240.21,102.56 240.45,95.71 240.69,85.77 240.92,74.06 241.16,59.79 241.4,43.17 241.52,33.56 241.64,43.02 241.88,59.37 242.11,74.07 242.35,86.16 242.59,95.31 242.83,102.46 243.07,106.46 243.31,107.15 243.54,106.4 243.78,105.19 244.02,104.61 244.26,102.45 244.5,104.11 244.74,105.97 244.97,106.37 245.21,107.05 245.45,107.17 245.69,106.53 245.93,104.5 246.17,100.34 246.41,94.82 246.64,87.43 246.88,78.96 247.12,69.33 247.24,64.09 247.36,69.45 247.6,79.26 247.83,87.43 248.07,94.78 248.31,100.45 248.55,104.1 248.79,106.78 249.03,107.13 249.26,105.98 249.5,105.34 249.74,104.21 249.98,106.46 250.22,106.36 250.46,106.89 250.69,106.7 250.93,107.2 251.17,107.01 251.41,107.01 251.65,106.6 251.89,106.47 252.12,105.88 252.36,105.2 252.6,104.18 252.84,103.44 252.96,103.07 253.08,103.33 253.32,104.33 253.55,104.95 253.79,106.1 254.03,106.37 254.27,106.63 254.51,106.93 254.75,107.13 254.98,107.06 255.22,106.48 255.46,106.39 255.7,106.18 255.94,106.63 256.18,106.9 256.41,106.61 256.65,106.95 256.89,107.23 257.13,107 257.37,106.98 257.61,106.32 257.85,105.68 258.08,105.44 258.32,104.18 258.56,103.43 258.68,103.2 258.8,103.27 259.04,104.51 259.27,105.44 259.51,105.67 259.75,106.59 259.99,106.65 260.23,107.09 260.47,106.91 260.7,106.69 260.94,106.51 261.18,106.36 261.42,105.93 261.66,106.25 261.9,106.96 262.13,107.09 262.37,107.19 262.61,106.97 262.85,107.13 263.09,106.44 263.33,105.35 263.56,104.12 263.8,102.31 264.04,100.3 264.28,98.28 264.4,97.19 264.52,98.2 264.76,100.41 265,102.4 265.23,104.12 265.47,105.63 265.71,106.61 265.95,107.11 266.19,106.86 266.42,106.75 266.66,106.56 266.9,106.75 267.14,106.25 267.38,106.47 267.62,106.38 267.86,106.74 268.09,106.76 268.33,106.92 268.57,106.71 268.81,106.7 269.05,106.18 269.28,105.42 269.52,104.56 269.76,103.9 270,102.47 270.12,101.79 270.24,102.62 270.48,103.61 270.72,104.85 270.95,105.61 271.19,106 271.43,106.64 271.67,106.73 271.91,106.92 272.14,107.01 272.38,106.43 272.62,106.33 272.86,105.97 273.1,106.72 273.34,106.52 273.57,106.91 273.81,107.01 274.05,107.01 274.29,107.06 274.53,106.87 274.77,106.32 275,105.69 275.24,104.93 275.48,103.76 275.72,102.64 275.84,101.76 275.96,102.49 276.2,103.56 276.44,104.9 276.67,105.36 276.91,106.06 277.15,106.74 277.39,106.97 277.63,106.8 277.87,106.94 278.1,106.56 278.34,106.46 278.58,106.14 278.82,106.31 279.06,106.83 279.29,106.92 279.53,106.83 279.77,107.22 280.01,106.93 280.25,106.79 280.49,106.67 280.73,105.91 280.96,105.34 281.2,104.97 281.44,104.14 281.56,103.67 281.68,103.95 281.92,104.95 282.15,105.38 282.39,105.93 282.63,106.24 282.87,106.78 283.11,106.79 283.35,107.14 283.58,106.89 283.82,106.81 284.06,106.12 284.3,106.07 284.54,106.3 284.78,106.87 285.01,106.72 285.25,106.97 285.49,106.89 285.73,107.03 285.97,106.73 286.21,106.22 286.44,105.55 286.68,104.57 286.92,103.58 287.16,102.58 287.28,101.87 287.4,102.65 287.64,103.82 287.88,104.82 288.11,105.67 288.35,106.24 288.59,106.67 288.83,106.83 289.07,107.01 289.3,106.91 289.54,106.68 289.78,106.23 290.02,106.21 290.26,106.77 290.5,106.84 290.74,106.67 290.97,106.97 291.21,106.94 291.45,107.08 291.69,106.61 291.93,106.49 292.16,105.77 292.4,105.28 292.64,104.58 292.88,103.51 293,103.12 293.12,103.49 293.36,104.51 293.6,105.01 293.83,105.6 294.07,106.42 294.31,106.98 294.55,106.92 294.79,107.19 295.02,106.79 295.26,106.66 295.5,106.3 295.74,106.31 295.98,106.41 296.22,106.79 296.45,106.83 296.69,106.9 296.93,107.04 297.17,106.74 297.41,106.56 297.65,106.28 297.88,105.22 298.12,104.63 298.36,103.08 298.6,102.01 298.72,101.44 298.84,102.26 299.08,103.32 299.31,104.37 299.55,105.41 299.79,106.33 300.03,106.66 300.27,106.89 300.51,107.03 300.75,107.04 300.98,106.58 301.22,106.54 301.46,105.96 301.7,106.61 301.94,106.64 302.17,106.98 302.41,106.81 302.65,107.09 302.89,107.22 303.13,106.77 303.37,106.42 303.61,106.14 303.84,105.49 304.08,105.11 304.32,104.62 304.44,103.77 304.56,104.52 304.8,105.15 305.03,105.55 305.27,106.18 305.51,106.38 305.75,106.84 305.99,107.05 306.23,107.25 306.46,106.81 306.7,106.56 306.94,106.19 307.18,105.34 307.42,105.8 307.66,106.28 307.89,106.48 308.13,106.91 308.37,106.93 308.61,106.74 308.85,106.14 309.09,104.26 309.32,102.06 309.56,99.52 309.8,96.22 310.04,92.18 310.16,89.77 310.28,92.3 310.52,96.19 310.75,99.23 310.99,102.35 311.23,104.56 311.47,105.88 311.71,106.71 311.95,107.19 312.19,106.79 312.42,106.12 312.66,105.6 312.9,104.52 313.14,105.42 313.38,106.1 313.62,106.44 313.85,107.16 314.09,106.87 314.33,106.82 314.57,106.25 314.81,105.62 315.05,104.72 315.28,103.14 315.52,101.44 315.76,99.9 315.88,98.53 316,99.85 316.24,101.85 316.47,103.48 316.71,104.48 316.95,105.51 317.19,106.36 317.43,106.97 317.67,106.87 317.9,106.48 318.14,105.82 318.38,105.67 318.62,105.47 318.86,105.81 319.1,106.05 319.33,106.45 319.57,107.18 319.81,107.08 320.05,106.9 320.29,106.04 320.53,104.39 320.76,102.47 321,100.2 321.24,97.04 321.48,93.75 321.6,91.88 321.72,93.5 321.96,97.18 322.19,100.02 322.43,102.69 322.67,104.48 322.91,105.97 323.15,106.71 323.39,107.21 323.62,106.7 323.86,106.14 324.1,105.74 324.34,105.24 324.58,105.89 324.82,105.95 325.06,106.61 325.29,106.88 325.53,107.09 325.77,106.57 326.01,105.86 326.25,103.56 326.49,101.17 326.72,97.62 326.96,93.86 327.2,89.27 327.32,86.29 327.44,89.01 327.68,93.88 327.91,97.54 328.15,101.07 328.39,103.88 328.63,105.88 328.87,106.8 329.11,107.1 329.34,106.66 329.58,105.8 329.82,105.24 330.06,105.05 330.3,105.85 330.54,106.04 330.77,106.51 331.01,106.93 331.25,106.85 331.49,106.79 331.73,106.9 331.97,106.4 332.2,106.11 332.44,105.57 332.68,105.25 332.92,104.41 333.04,104.16 333.16,104.5 333.4,105.14 333.63,105.63 333.87,106.3 334.11,106.42 334.35,106.67 334.59,106.86 334.83,107.1 335.06,106.46 335.3,106.23 335.54,105.59" fill="none" stroke="#5ADDCB" stroke-width="1.25" stroke-linejoin="round" />
<polyline points="356.9,107.5 357.4,99 357.9,89.7 358.5,103 359.2,104.5 359.9,91.4 360.5,103 361.2,106.8 362.2,107.4" fill="none" stroke="#5ADDCB" stroke-width="1.25" stroke-linejoin="round" />
<polyline points="362.53,106.81 362.77,107.02 363.01,107.39 363.24,107.24 363.48,107.41 363.72,107.66 363.96,107.49 364.2,107.27 364.44,106.98 364.68,106.89 364.91,106.01 365.15,105.42 365.39,104.94 365.51,104.67 365.63,105.02 365.87,105.66 366.11,106.11 366.35,106.99 366.59,107.36 366.82,107.66 367.06,107.56 367.3,107.58 367.54,107.59 367.78,107.28 368.02,107.21" fill="none" stroke="#5ADDCB" stroke-width="1.25" stroke-linejoin="round" />
<polyline points="373.98,106.94 374.22,107.15 374.46,107.21 374.7,107.33 374.94,107.63 375.18,107.84 375.42,107.8 375.65,107.52 375.89,106.91 376.13,106.49 376.37,106.36 376.61,105.54 376.85,104.81 376.97,104.85 377.09,104.75 377.33,105.58 377.56,106.4 377.8,106.54 378.04,106.96 378.28,107.4 378.52,107.78 378.76,107.59 379,107.29 379.23,107.43 379.47,107.05 379.71,106.87 379.95,107.21 380.19,107.53 380.43,107.61 380.67,107.76 380.91,107.42 381.14,107.43 381.38,107.38 381.62,107.36 381.86,106.84 382.1,106.62 382.34,105.7 382.58,105.39 382.7,104.99 382.81,105.18 383.05,106.12 383.29,106.23 383.53,106.67 383.77,107.17 384.01,107.51 384.25,107.55 384.49,107.71 384.72,107.5 384.96,107.45 385.2,107.02 385.44,107.08 385.68,107.02 385.92,107.35 386.16,107.39 386.39,107.46 386.63,107.74 386.87,107.6 387.11,106.85 387.35,106.54 387.59,104.99 387.83,103.72 388.07,102.08 388.3,100.55 388.42,99.51 388.54,100.16 388.78,102.35 389.02,104.09 389.26,105.06 389.5,106.13 389.74,106.88 389.97,107.72 390.21,107.35 390.45,107.5 390.69,107.31 390.93,107.22 391.17,106.73 391.41,107.31 391.65,107.33 391.88,107.64 392.12,107.76 392.36,107.58 392.6,107.64 392.84,107.34 393.08,107.27 393.32,106.49 393.55,106.09 393.79,105.44 394.03,104.38 394.15,104.13 394.27,104.5 394.51,105.4 394.75,105.76 394.99,106.66 395.23,107.05 395.46,107.33 395.7,107.64 395.94,107.72 396.18,107.68 396.42,107.42 396.66,107.39 396.9,106.89 397.13,106.96 397.37,107.26 397.61,107.36 397.85,107.52 398.09,107.4 398.33,107.76 398.57,107.22 398.81,106.26 399.04,104.97 399.28,103.14 399.52,101.14 399.76,99.39 399.88,97.91 400,99.34 400.24,101.53 400.48,103.07 400.71,104.75 400.95,106.03 401.19,107.23 401.43,107.53 401.67,107.62 401.91,107.42 402.15,107.39 402.39,106.89 402.62,107.01 402.86,106.87 403.1,107.49 403.34,107.3 403.58,107.69 403.82,107.72 404.06,107.24 404.29,105.68 404.53,103.24 404.77,100.11 405.01,95.5 405.25,90.22 405.49,83.96 405.61,80.48 405.73,83.99 405.97,89.98 406.2,95.69 406.44,99.76 406.68,103.22 406.92,105.82 407.16,107.46 407.4,107.71 407.64,107.73 407.87,107.54 408.11,107.46 408.35,107.29 408.59,107.22 408.83,107.14 409.07,107.71 409.31,107.68 409.55,107.68 409.78,107.17 410.02,106.01 410.26,103.08 410.5,99.05 410.74,94.13 410.98,88.43 411.22,81.89 411.34,78.12 411.45,81.83 411.69,88.63 411.93,94.25 412.17,99.08 412.41,103.14 412.65,105.62 412.89,107.29 413.13,107.67 413.36,107.68 413.6,107.49 413.84,106.99 414.08,107.14 414.32,107.26 414.56,107.12 414.8,107.5 415.03,107.47 415.27,107.41 415.51,107.29 415.75,106.1 415.99,103.08 416.23,99.82 416.47,95.37 416.71,89.96 416.94,83.76 417.06,79.97 417.18,83.72 417.42,89.58 417.66,95.4 417.9,99.82 418.14,103.27 418.38,105.73 418.61,107.29 418.85,107.84 419.09,107.33 419.33,107.49 419.57,106.96 419.81,107.16 420.05,107.06 420.29,107.4 420.52,107.31 420.76,107.82 421,107.78 421.24,107.73 421.48,106.94 421.72,106.5 421.96,105.07 422.19,103.82 422.43,102.07 422.67,100.38 422.79,99.25 422.91,100.09 423.15,102.09 423.39,103.86 423.63,105.21 423.87,106.36 424.1,107.25 424.34,107.78 424.58,107.46 424.82,107.38 425.06,107.29 425.3,106.92 425.54,106.9 425.77,106.88 426.01,107.22 426.25,107.53 426.49,107.42 426.73,107.41 426.97,107.28 427.21,106.57 427.45,105.18 427.68,102.67 427.92,100.1 428.16,96.74 428.4,93.07 428.52,91.13 428.64,93.21 428.88,96.56 429.12,99.86 429.35,102.7 429.59,105.22 429.83,106.52 430.07,107.63 430.31,107.68 430.55,107.3 430.79,107.46 431.03,107.33 431.26,107.14 431.5,107.05 431.74,107.34 431.98,107.61 432.22,107.47 432.46,107.61 432.7,107.1 432.93,105.61 433.17,102.53 433.41,97.91 433.65,92.84 433.89,86.36 434.13,79.04 434.25,74.57 434.37,79.04 434.61,86.24 434.84,92.95 435.08,98.27 435.32,102.53 435.56,105.36 435.8,107.17 436.04,107.37 436.28,107.47 436.51,107.15 436.75,107.4 436.99,106.93 437.23,107.12 437.47,107.39 437.71,107.61 437.95,107.53 438.19,107.73 438.42,107.55 438.66,106.81 438.9,105.21 439.14,103.39 439.38,101.31 439.62,98.51 439.86,95.13 439.98,93.06 440.09,95.2 440.33,98.12 440.57,100.98 440.81,103.25 441.05,105.24 441.29,106.95 441.53,107.28 441.77,107.83 442,107.43 442.24,107.26 442.48,107.2 442.72,106.88 442.96,107.12 443.2,107.47 443.44,107.36 443.67,107.71 443.91,107.6 444.15,107.69 444.39,106.44 444.63,105.36 444.87,103.43 445.11,101.02 445.35,97.74 445.58,94.41 445.7,92.85 445.82,94.43 446.06,98.03 446.3,100.69 446.54,103.36 446.78,105.33 447.02,106.55 447.25,107.49 447.49,107.37 447.73,107.34 447.97,107.45 448.21,107.21 448.45,106.76 448.69,107.32 448.93,107.21 449.16,107.64 449.4,107.71 449.64,107.75 449.88,107.43 450.12,106.81 450.36,105.97 450.6,104.99 450.83,103.71 451.07,101.69 451.31,99.45 451.43,98.51 451.55,99.74 451.79,101.84 452.03,103.28 452.27,104.98 452.51,106.26 452.74,106.94 452.98,107.63 453.22,107.54 453.46,107.71 453.7,107.35 453.94,107.26 454.18,106.88 454.41,107.54 454.65,107.11 454.89,107.55 455.13,107.38 455.37,107.74 455.61,107.26 455.85,106.47 456.09,105.06 456.32,103.48 456.56,100.72 456.8,97.84 457.04,94.81 457.16,92.64 457.28,94.61 457.52,97.82 457.76,101.15 457.99,103.23 458.23,105.48 458.47,106.66 458.71,107.52 458.95,107.58 459.19,107.6 459.43,107.25 459.67,106.9 459.9,106.86 460.14,107.13 460.38,107.6 460.62,107.69 460.86,107.44 461.1,107.52 461.34,107.42 461.57,106.76 461.81,104.79 462.05,102.94 462.29,100.42 462.53,97.15 462.77,93.13 462.89,91.14 463.01,93.19 463.25,96.84 463.48,100.15 463.72,103.08 463.96,104.9 464.2,106.73 464.44,107.57 464.68,107.76 464.92,107.58 465.15,107.54 465.39,107.29 465.63,107.24 465.87,107.4 466.11,107.5 466.35,107.73 466.59,107.69 466.83,107.37 467.06,107.46 467.3,106.37 467.54,104.86 467.78,102.17 468.02,99.17 468.26,95.59 468.5,91.65 468.62,88.99 468.73,91.62 468.97,95.66 469.21,99.44 469.45,102.22 469.69,104.91 469.93,106.65 470.17,107.35 470.41,107.64 470.64,107.56 470.88,107.32 471.12,107.16 471.36,107 471.6,107.19 471.84,107.6 472.08,107.29 472.31,107.37 472.55,107.57 472.79,107.5 473.03,107.17 473.27,106.63 473.51,105.42 473.75,104.55 473.99,103.19 474.22,101.35 474.34,100.6 474.46,101.24 474.7,102.91 474.94,104.24 475.18,105.56 475.42,106.31 475.66,107.41 475.89,107.69 476.13,107.81 476.37,107.62 476.61,107.23 476.85,106.96 477.09,107.17 477.33,107.31 477.57,107.3 477.8,107.5 478.04,107.67 478.28,107.56 478.52,107.45 478.76,107.34 479,107.02 479.24,106.32 479.47,106.08 479.71,105.14 479.95,104.46 480.07,104.05 480.19,104.3 480.43,105.38 480.67,106.08 480.91,106.45 481.15,107.25 481.38,107.6 481.62,107.36 481.86,107.75 482.1,107.3 482.34,107.43 482.58,107.01 482.82,106.82 483.05,107.09 483.29,107.42 483.53,107.33 483.77,107.39 484.01,107.51 484.25,107.42 484.49,107.41 484.73,107.19 484.96,106.84 485.2,106.47 485.44,105.75 485.68,105.43 485.8,104.95 485.92,105.29 486.16,106.01 486.4,106.25 486.63,106.89 486.87,107.37 487.11,107.36 487.35,107.79 487.59,107.57 487.83,107.53 488.07,107.45 488.31,106.92 488.54,107.25 488.78,107.18 489.02,107.25 489.26,107.49 489.5,107.44 489.74,107.8 489.98,107.34 490.21,107.43 490.45,107.12 490.69,106.78 490.93,106.64 491.17,105.9 491.41,105.27 491.53,105.14 491.65,105.26 491.89,105.85 492.12,106.45 492.36,106.77 492.6,107.02 492.84,107.2 493.08,107.36 493.32,107.42 493.56,107.29 493.79,107.5 494.03,107.35 494.27,106.92 494.51,106.9 494.75,107.26 494.99,107.63 495.23,107.54 495.47,107.79 495.7,107.63 495.94,107.21 496.18,107 496.42,106.96 496.66,106.23 496.9,105.76 497.14,105.41 497.26,104.93 497.37,105.29 497.61,105.79 497.85,106.66 498.09,106.96 498.33,107.03 498.57,107.36 498.81,107.36 499.05,107.69 499.28,107.49 499.52,107.35 499.76,107.4 500,106.92 500.24,107.44 500.48,107.51 500.72,107.31 500.95,107.54 501.19,107.35 501.43,107.7 501.67,107.05 501.91,106.8 502.15,106.26 502.39,105.39 502.63,104.72 502.86,103.46 502.98,102.74 503.1,103.6 503.34,104.63 503.58,105.68 503.82,106.13 504.06,106.73 504.3,107.13 504.53,107.55 504.77,107.81 505.01,107.73 505.25,107.14 505.49,107.18 505.73,106.95 505.97,107.43 506.21,107.54 506.44,107.4 506.68,107.79 506.92,107.71 507.16,107.69 507.4,107.24 507.64,107.3 507.88,106.93 508.11,106.36 508.35,106.14 508.59,105.29 508.71,105.15 508.83,105.3 509.07,105.87 509.31,106.41 509.55,106.98 509.79,107.28 510.02,107.68 510.26,107.7 510.5,107.67 510.74,107.37 510.98,107.08 511.22,106.99 511.46,107.12 511.69,107.28 511.93,107.47 512.17,107.4 512.41,107.44 512.65,107.76 512.89,107.34 513.13,106.79 513.37,106 513.6,104.41 513.84,102.57 514.08,100.29 514.32,97.68 514.44,96.07 514.56,97.63 514.8,99.88 515.04,102.52 515.27,104.39 515.51,105.76 515.75,107.11 515.99,107.33 516.23,107.63 516.47,107.33 516.71,107.38 516.95,107.08 517.18,107.1 517.42,107.19 517.66,107.59 517.9,107.73 518.14,107.42 518.38,107.83 518.62,107.45 518.85,106.09 519.09,104.21 519.33,101.81 519.57,98.61 519.81,94.31 520.05,89.81 520.17,87.38 520.29,89.68 520.53,94.28 520.76,98.26 521,101.52 521.24,104.43 521.48,106.33 521.72,107.59 521.96,107.69 522.2,107.71 522.43,107.44 522.67,107.08 522.91,107.29 523.15,107.27 523.39,107.37 523.63,107.51 523.87,107.36 524.11,107.44 524.34,107.37 524.58,107.26 524.82,107.04 525.06,106.8 525.3,106.07 525.54,105.43 525.78,104.25 525.9,103.89 526.01,104.38 526.25,105.49 526.49,106.22 526.73,106.64 526.97,107.15 527.21,107.3 527.45,107.45 527.69,107.43 527.92,107.56 528.16,107.14 528.4,107.23 528.64,106.97 528.88,106.94 529.12,107.37 529.36,107.64 529.59,107.76 529.83,107.4 530.07,107.49 530.31,107.35 530.55,106.73 530.79,105.82 531.03,105.06 531.27,103.49 531.5,102.05 531.62,101.29 531.74,102.22 531.98,103.65 532.22,104.72 532.46,105.75 532.7,106.85 532.94,107.18 533.17,107.32 533.41,107.77 533.65,107.31 533.89,107.11 534.13,107.11 534.37,107.27 534.61,107.16 534.85,107.48 535.08,107.58 535.32,107.8 535.56,107.46 535.8,107.38 536.04,107.22 536.28,106.33 536.52,105.5 536.75,104.12 536.99,102.64 537.23,100.73 537.35,100.25 537.47,100.75 537.71,102.67 537.95,104.25 538.19,105.57 538.43,106.63 538.66,107.11 538.9,107.53 539.14,107.69 539.38,107.52 539.62,107.06 539.86,107.3 540.1,107.06 540.33,107.33 540.57,107.25 540.81,107.41 541.05,107.49 541.29,107.57 541.53,107.34 541.77,107.4 542.01,106.47 542.24,105.96 542.48,104.79 542.72,103.4 542.96,102.19 543.08,101.75 543.2,102.47 543.44,103.83 543.68,105.08 543.91,106.07 544.15,106.49 544.39,107.21 544.63,107.48 544.87,107.64 545.11,107.4 545.35,107.35 545.59,107.3 545.82,107.14 546.06,107.38 546.3,107.47 546.54,107.37 546.78,107.61 547.02,107.5 547.26,107.61 547.49,106.89 547.73,105.7 547.97,104.31 548.21,102.47 548.45,100.46 548.69,97.67 548.81,96.48 548.93,97.87 549.17,100.23 549.4,102.47 549.64,104.61 549.88,105.93 550.12,107.05 550.36,107.42 550.6,107.75 550.84,107.47 551.07,107.25 551.31,107.31 551.55,107.09 551.79,107.09 552.03,107.27 552.27,107.31 552.51,107.49 552.75,107.78 552.98,107.75 553.22,107.38 553.46,107.27 553.7,106.55 553.94,106.22 554.18,105.7 554.42,104.73 554.54,104.54 554.65,104.91 554.89,105.57 555.13,106.31 555.37,106.5 555.61,107.19 555.85,107.26 556.09,107.78 556.33,107.64 556.56,107.4 556.8,107.33 557.04,107.22 557.28,106.84 557.52,107.16 557.76,107.29 558,107.28 558.23,107.47 558.47,107.47 558.71,107.47 558.95,107.23 559.19,106.18 559.43,105.21 559.67,103.63 559.91,102.09 560.14,100.48 560.26,99.32 560.38,100.49 560.62,102.1 560.86,103.82 561.1,105.01 561.34,106.16 561.58,106.88 561.81,107.46 562.05,107.6 562.29,107.6 562.53,107.59 562.77,107.27 563.01,106.97 563.25,106.97 563.49,107.23 563.72,107.56 563.96,107.49 564.2,107.83 564.44,107.31 564.68,106.91 564.92,105.74 565.16,104.27 565.39,102.73 565.63,100.23 565.87,97.79 565.99,96.27 566.11,97.58 566.35,100.26 566.59,102.44 566.83,104.12 567.07,106.06 567.3,106.98 567.54,107.49 567.78,107.44 568.02,107.58 568.26,107.46 568.5,107.33 568.74,107.13 568.97,107.26 569.21,107.39 569.45,107.3 569.69,107.69 569.93,107.66 570.17,107.5 570.41,106.6 570.65,105.2 570.88,103.08 571.12,100.84 571.36,97.63 571.6,94.09 571.72,92.32 571.84,94.15 572.08,97.73 572.32,100.77 572.55,102.91 572.79,105.14 573.03,106.73 573.27,107.65 573.51,107.8 573.75,107.26 573.99,107.16 574.23,107.35 574.46,106.97 574.7,107.13 574.94,107.5 575.18,107.72 575.42,107.75 575.66,107.81 575.9,107.62 576.13,106.69 576.37,105.86 576.61,104.54 576.85,102.6 577.09,100.42 577.33,97.56 577.45,96.19 577.57,97.88 577.81,100.38 578.04,102.36 578.28,104.58 578.52,105.83 578.76,106.66 579,107.62 579.24,107.53 579.48,107.43 579.71,107.4 579.95,107.23 580.19,107.34 580.43,107.21 580.67,107.16 580.91,107.41 581.15,107.4 581.39,107.67 581.62,107.47 581.86,106.93 582.1,106.03 582.34,105.06 582.58,103.83 582.82,102.22 583.06,100.39 583.18,99.38 583.29,100.34 583.53,102.13 583.77,104.03 584.01,104.99 584.25,106.29 584.49,106.94 584.73,107.47 584.97,107.44 585.2,107.33 585.44,107.37 585.68,107.21 585.92,106.69 586.16,106.95 586.4,107.55 586.64,107.51 586.87,107.74 587.11,107.71 587.35,107.54 587.59,106.82 587.83,105.6 588.07,104.42 588.31,102.48 588.55,100.02 588.78,97.81 588.9,96.07 589.02,97.5 589.26,100.21 589.5,102.35 589.74,104.26 589.98,105.92 590.22,106.75 590.45,107.42 590.69,107.7 590.93,107.72 591.17,107.16 591.41,107.1 591.65,106.85 591.89,107.02 592.13,107.3 592.36,107.46 592.6,107.77 592.84,107.44 593.08,107.69 593.32,106.93 593.56,105.7 593.8,104.03 594.03,102.37 594.27,99.76 594.51,97.34 594.63,95.66 594.75,97.27 594.99,99.64 595.23,102.29 595.47,104.01 595.71,105.8 595.94,106.61 596.18,107.41 596.42,107.52 596.66,107.6 596.9,107.53 597.14,107.26 597.38,106.75 597.61,106.93 597.85,107.06 598.09,107.41 598.33,107.55 598.57,107.56 598.81,107.55 599.05,107.42 599.29,106.53 599.52,105.94 599.76,104.69 600,103.27 600.24,101.71 600.36,100.77 600.48,102.01 600.72,103.29 600.96,104.51 601.19,105.71 601.43,106.78 601.67,107.06 601.91,107.5 602.15,107.57 602.39,107.37 602.63,107.45 602.87,107.5" fill="none" stroke="#5ADDCB" stroke-width="1.25" stroke-linejoin="round" />
<polyline points="620.29,107.05 620.53,106.91 620.77,107.18 621,107.25 621.24,107.46 621.48,107.4 621.72,107.58 621.96,107.54 622.2,106.91 622.44,106.74 622.67,106.1 622.91,105.49 623.15,104.5 623.27,103.8 623.39,104.55 623.63,105.38 623.87,105.97 624.11,106.53 624.35,107.08 624.58,107.26 624.82,107.36 625.06,107.6 625.3,107.31 625.54,107.35 625.78,107.09 626.02,107.25 626.25,107.48 626.49,107.55 626.73,107.35 626.97,107.66 627.21,107.85 627.45,107.66 627.69,106.71 627.93,105.75 628.16,104.56 628.4,102.71 628.64,100.4 628.88,97.95 629,96.87 629.12,97.92 629.36,100.83 629.6,102.69 629.83,104.6 630.07,105.98 630.31,106.96 630.55,107.35 630.79,107.83 631.03,107.72 631.27,107.53 631.51,107.37 631.74,107.18 631.98,107.32 632.22,107.53 632.46,107.4 632.7,107.75 632.94,107.77 633.18,107.29 633.41,106.58 633.65,104.89 633.89,102.6 634.13,99.88 634.37,96.63 634.61,92.8 634.73,90.75 634.85,92.87 635.09,96.47 635.32,99.95 635.56,103.01 635.8,104.84 636.04,106.35 636.28,107.5 636.52,107.47 636.76,107.74 636.99,107.61 637.23,106.93 637.47,106.69 637.71,107.31 637.95,107.35 638.19,107.3 638.43,107.48 638.67,107.45 638.9,107.53 639.14,106.88 639.38,105.84 639.62,104.01 639.86,102.13 640.1,99.24 640.34,96.68 640.46,95.07 640.57,96.79 640.81,99.41 641.05,102.04 641.29,103.79 641.53,105.78 641.77,106.9 642.01,107.3 642.25,107.6 642.48,107.73 642.72,107.26 642.96,107.2" fill="none" stroke="#5ADDCB" stroke-width="1.25" stroke-linejoin="round" />
<polyline points="55.8,81.56 56.05,83.22 56.3,81.93 56.55,83.49 56.8,82.81 57.05,80.39 57.3,79.48 57.55,82.15 57.8,83.72 58.05,83.46 58.3,84.95 58.55,84.49 58.8,87.2 59.05,87.31 59.3,87.99 59.55,89.38 59.8,89.47 60.05,89.45 60.3,90.94 60.55,92.21 60.8,93.46 61.05,96.51 61.3,97.71 61.55,98.31 61.8,99.82 62.05,100.87 62.3,99.34 62.55,100.83 62.8,100.62 63.05,99.84 63.3,98.68 63.55,99.23 63.8,101.5 64.05,100.63 64.3,100.86 64.55,101.39 64.8,101.11 65.05,102.25 65.3,101.08 65.55,100.77 65.8,102.05 66.05,102.38 66.3,103.3 66.55,103.55 66.8,104.49 67.05,104.99 67.3,103.32 67.55,103.7 67.8,104.38 68.05,103.34 68.3,104.74 68.55,103.65 68.8,103.46 69.05,103.52 69.3,101.07 69.55,101.74 69.8,103.37 70.05,102.51 70.3,103.37 70.55,101.47 70.8,103 71.05,102.88 71.3,103.23 71.55,102.94 71.8,103.12 72.05,104.27 72.3,103.51 72.55,102.86 72.8,102.25 73.05,102.88 73.3,102.61 73.55,100.55 73.8,100.4 74.05,99.89 74.3,97.53 74.55,93.37 74.8,89.35 75.05,88.28 75.3,91.74 75.55,94.44 75.8,97.22 76.05,98.52 76.3,99.05 76.55,99.92 76.8,100.52 77.05,100.19 77.3,100.22 77.55,98.18 77.8,99.15 78.05,98.61 78.3,97.54 78.55,97.75 78.8,97.53 79.05,96.34 79.3,95.82 79.55,96.4 79.8,93.9 80.05,93.64 80.3,94.11 80.55,92.99 80.8,90.67 81.05,90.53 81.3,90.57 81.55,92.85 81.8,94.22 82.05,94.86 82.3,93.91 82.55,92.52 82.8,90.87 83.05,90.35 83.3,92.67 83.55,92.68 83.8,92.49 84.05,94.9 84.3,94.32 84.55,95.08 84.8,96.37 85.05,97.05 85.3,95.94 85.55,95.25 85.8,92.79 86.05,93.5 86.3,93.3 86.55,91.48 86.8,90.7 87.05,89.03 87.3,91.16 87.55,93.41 87.8,94.05 88.05,95.6 88.3,96.32 88.55,95.53 88.8,98.08 89.05,98.11 89.3,97.37 89.55,99.6 89.8,99.26 90.05,99.08 90.3,99.4 90.55,97 90.8,97.41 91.05,94.99 91.3,95.2 91.55,95.31 91.8,94.33 92.05,95.36 92.3,93.17 92.55,92 92.8,93.11 93.05,93.57 93.3,95.73 93.55,95.45 93.8,96.32 94.05,95.95 94.3,97.04 94.55,97.25 94.8,96.02 95.05,97.41 95.3,95.9 95.55,96.2 95.8,94.17 96.05,94.1 96.3,94.27 96.55,94.11 96.8,92.99 97.05,91.2 97.3,93.43 97.55,92.57 97.8,93.09 98.05,92.96 98.3,91.04 98.55,92.43 98.8,90.39 99.05,88.56 99.3,91.42 99.55,94.98 99.8,98.84 100.05,100.62 100.3,99.27 100.55,98.76 100.8,98.64 101.05,99.85 101.3,98.18 101.55,98.97 101.8,97.99 102.05,97.01 102.3,97.58 102.55,95.8 102.8,95.1 103.05,94.13 103.3,92.56 103.55,88.62 103.8,88.88 104.05,88.8 104.3,91.67 104.55,94.12 104.8,95.6 105.05,95.56 105.3,97.52 105.55,100.55 105.8,101.88 106.05,102.44 106.3,102.03 106.55,100.73 106.8,101.64 107.05,100.05 107.3,98.75 107.55,98.7 107.8,97.86 108.05,98.84 108.3,98.03 108.55,96.69 108.8,96.83 109.05,97.12 109.3,96.2 109.55,95.08 109.8,94.4 110.05,94.95 110.3,92.93 110.55,91.79 110.8,88.85 111.05,86.56 111.3,89.12 111.55,91.86 111.8,91.38 112.05,93.19 112.3,95.93 112.55,96.64 112.8,98.23 113.05,100.01 113.3,99.24 113.55,99.49 113.8,98.88 114.05,96.09 114.3,96.56 114.55,95.74 114.8,94.47 115.05,93.09 115.3,91.79 115.55,90.8 115.8,88.44 116.05,87.01 116.3,89.1 116.55,90.24 116.8,91.35 117.05,91.74 117.3,91.87 117.55,93.85 117.8,94.76 118.05,95.01 118.3,95.22 118.55,94.53 118.8,93.83 119.05,94.38 119.3,94.29 119.55,95.69 119.8,94.51 120.05,93.73 120.3,90.49 120.55,87.12 120.8,84.45 121.05,82.13 121.3,78.18 121.55,75.59 121.8,70.02 122.05,66.96 122.3,70.63 122.55,73.45 122.8,76.55 123.05,79.11 123.3,79.95 123.55,80.29 123.8,81.54 124.05,81.85 124.3,84.87 124.55,86.27 124.8,87.34 125.05,89.34 125.3,90.45 125.55,91.57 125.8,89.25 126.05,88.87 126.3,88.12 126.55,91.19 126.8,91.53 127.05,93.02 127.3,94.44 127.55,93.58 127.8,94.06 128.05,94.06 128.3,94.91 128.55,95.67 128.8,97.17 129.05,96.64 129.3,97.57 129.55,97.67 129.8,99.1 130.05,99.99 130.3,99.17 130.55,99.14 130.8,97.8 131.05,96.12 131.3,97.19 131.55,96.79 131.8,94.8 132.05,93.17 132.3,92.49 132.55,93.93 132.8,95.34 133.05,95.05 133.3,95.61 133.55,93.98 133.8,94.17 134.05,95.19 134.3,95.65 134.55,95.8 134.8,97.09 135.05,97.03 135.3,97.1 135.55,98.57 135.8,98.45 136.05,99.94 136.3,99.92 136.55,98.92 136.8,99.12 137.05,97.88 137.3,99.64 137.55,98.05 137.8,97.83 138.05,94.88 138.3,95.96 138.55,96.07 138.8,94.3 139.05,92.75 139.3,91.85 139.55,90.78 139.8,91.12 140.05,88.93 140.3,91.19 140.55,90.99 140.8,91.91 141.05,92.68 141.3,93.27 141.55,93.44 141.8,95 142.05,94.42 142.3,95.21 142.55,95.11 142.8,94.93 143.05,93.69 143.3,93.8 143.55,92.82 143.8,90.72 144.05,91.04 144.3,91.13 144.55,90.61 144.8,87.17 145.05,85.24 145.3,84.6 145.55,83.33 145.8,81.93 146.05,80.2 146.3,84.08 146.55,84.9 146.8,88.56 147.05,89.21 147.3,89.71 147.55,91.24 147.8,91.92 148.05,91.66 148.3,93.43 148.55,92.07 148.8,91.91 149.05,93.15 149.3,95.35 149.55,96.11 149.8,94.76 150.05,94.78 150.3,96.74 150.55,95.87 150.8,97.81 151.05,97.02 151.3,97.45 151.55,96.93 151.8,98.06 152.05,97.44 152.3,97.26 152.55,98.66 152.8,97.04 153.05,98.21 153.3,97.09 153.55,97.54 153.8,95.19 154.05,95.42 154.3,92.98 154.55,92 154.8,89.7 155.05,87 155.3,86.96 155.55,88.94 155.8,90.88 156.05,92.77 156.3,93.66 156.55,94.94 156.8,97.5 157.05,98.38 157.3,97.93 157.55,99.77 157.8,98.38 158.05,99.47 158.3,98.87 158.55,100.74 158.8,100.8 159.05,100.94 159.3,98.37 159.55,97.1 159.8,96.07 160.05,95.91 160.3,94.54 160.55,95.92 160.8,95.22 161.05,94.32 161.3,94.9 161.55,96.63 161.8,96.07 162.05,97.5 162.3,95.12 162.55,94.82 162.8,93.78 163.05,91.5 163.3,94 163.55,95.29 163.8,94.75 164.05,95.15 164.3,96.35 164.55,99.11 164.8,98.43 165.05,100.29 165.3,97.75 165.55,96.77 165.8,96.76 166.05,94.32 166.3,93.73 166.55,93.59 166.8,91.49 167.05,90.81 167.3,92.59 167.55,92.07 167.8,93.68 168.05,95.95 168.3,96.78 168.55,96.39 168.8,98.47 169.05,98.54 169.3,98.16 169.55,96.62 169.8,95.6 170.05,97.01 170.3,94.76 170.55,95.23 170.8,94.12 171.05,94.43 171.3,93.54 171.55,93.08 171.8,90.03 172.05,90.87 172.3,92.22 172.55,93.19 172.8,94.06 173.05,94.71 173.3,95.98 173.55,95.06 173.8,95.1 174.05,96.56 174.3,94.05 174.55,91.39 174.8,88.06 175.05,86.55 175.3,89.57 175.55,91.97 175.8,94.74 176.05,98.36 176.3,99.14 176.55,99.56 176.8,102.25 177.05,103 177.3,102.05 177.55,100.38 177.8,99.01 178.05,99.04 178.3,98.35 178.55,97.32 178.8,95.18 179.05,93.56 179.3,92.35 179.55,92.13 179.8,89.4 180.05,88.41 180.3,89.28 180.55,89.5 180.8,92.2 181.05,90.82 181.3,92.96 181.55,94.48 181.8,94.08 182.05,94.33 182.3,93.72 182.55,93.03 182.8,93.7 183.05,91.84 183.3,90.38 183.55,89.08 183.8,91.21 184.05,90.45 184.3,90.86 184.55,90.35 184.8,89.53 185.05,90.8 185.3,88.95 185.55,90.87 185.8,91.4 186.05,90.93 186.3,91.4 186.55,92.57 186.8,91.19 187.05,92.41 187.3,93.27 187.55,93.11 187.8,94.02 188.05,94.82 188.3,95.57 188.55,95.41 188.8,95.54 189.05,94.55 189.3,94.07 189.55,96.54 189.8,97.26 190.05,98.72 190.3,96.88 190.55,96.53 190.8,95.21 191.05,94.22 191.3,92.77 191.55,91.71 191.8,92.55 192.05,90.9 192.3,90.56 192.55,90.25 192.8,90.55 193.05,90.24 193.3,89.12 193.55,89.19 193.8,89.28 194.05,89.5 194.3,90.66 194.55,89.81 194.8,91.91 195.05,95.17 195.3,97 195.55,96.7 195.8,97.92 196.05,98.96 196.3,98.19 196.55,98.29 196.8,98.83 197.05,97.76 197.3,97.16 197.55,95.9 197.8,96.13 198.05,96.92 198.3,95.38 198.55,93.96 198.8,93.77 199.05,91.55 199.3,91.85 199.55,90.28 199.8,89.75 200.05,88.49 200.3,88.21 200.55,87.04 200.8,86.74 201.05,87.72 201.3,89.9 201.55,91.25 201.8,90.46 202.05,91.15 202.3,93.09 202.55,92.88 202.8,93.75 203.05,94.33 203.3,96.4 203.55,95.53 203.8,97.49 204.05,98.68 204.3,97.67 204.55,99.02 204.8,98.92 205.05,98.63 205.3,99.95 205.55,100.22 205.8,101.4 206.05,99.46 206.3,98.62 206.55,99.85 206.8,101.98 207.05,102.39 207.3,102.8 207.55,103.57 207.8,104.66 208.05,103.32 208.3,105.04 208.55,104.47 208.8,103.72 209.05,104.36 209.3,103.62 209.55,103.06 209.8,104.56 210.05,103.68 210.3,104.58 210.55,104.02 210.8,102.16 211.05,103.15 211.3,102.62 211.55,102.37 211.8,102.25 212.05,99.92 212.3,99 212.55,100.48 212.8,100.05 213.05,99.78 213.3,99.3 213.55,99.46 213.8,98.59 214.05,98.2 214.3,96.8 214.55,95.36 214.8,96.12 215.05,95.19 215.3,95.01 215.55,94.36 215.8,92.28 216.05,93.23 216.3,91.33 216.55,90.98 216.8,92.12 217.05,91.25 217.3,89.21 217.55,89.67 217.8,89.8 218.05,89.68 218.3,89.28 218.55,90.89 218.8,90.5 219.05,91.08 219.3,92.2 219.55,92.01 219.8,92.35 220.05,90.85 220.3,90.93 220.55,91 220.8,89.53 221.05,91.36 221.3,89.45 221.55,89.08 221.8,90.06 222.05,88.95 222.3,87.97 222.55,86.9 222.8,85.21 223.05,84.17 223.3,83.73 223.55,82.74 223.8,82.79 224.05,82 224.3,84.52 224.55,86.84 224.8,90.56 225.05,92.19 225.3,91.74 225.55,91.15 225.8,90.7 226.05,89.57 226.3,89.88 226.55,87.91 226.8,88.84 227.05,87.44 227.3,85.9 227.55,86.26 227.8,86.18 228.05,85.23 228.3,84.69 228.55,85.4 228.8,82.74 229.05,82.44 229.3,84.18 229.55,86.1 229.8,87.9 230.05,89.81 230.3,87.98 230.55,88.18 230.8,85.63 231.05,85.7 231.3,85.41 231.55,83.36 231.8,84.4 232.05,82.26 232.3,84.4 232.55,84.47 232.8,87.09 233.05,87.28 233.3,88.52 233.55,89.51 233.8,89.66 234.05,90.24 234.3,91.51 234.55,89.87 234.8,91.46 235.05,88.9 235.3,87.46 235.55,87.19 235.8,89.68 236.05,90.78 236.3,88.52 236.55,87.98 236.8,86.03 237.05,86.68 237.3,86.62 237.55,85.88 237.8,86.08 238.05,88.01 238.3,87.47 238.55,90.12 238.8,90.46 239.05,90.68 239.3,91.61 239.55,91.12 239.8,93.19 240.05,91.68 240.3,90.74 240.55,87.15 240.8,88 241.05,87.87 241.3,85.6 241.55,83.51 241.8,82.98 242.05,82.25 242.3,80.03 242.55,79.44 242.8,77.15 243.05,77.17 243.3,79 243.55,79.6 243.8,81.39 244.05,81.33 244.3,83.77 244.55,85.02 244.8,85.77 245.05,85.73 245.3,86.09 245.55,86.63 245.8,86.81 246.05,85.45 246.3,88.14 246.55,88.33 246.8,90.41 247.05,91.69 247.3,91.56 247.55,91.88 247.8,91.33 248.05,91.98 248.3,93.15 248.55,95.39 248.8,96.16 249.05,95.67 249.3,98.08 249.55,97 249.8,99.12 250.05,99.75 250.3,94.66 250.55,88.93 250.8,85.15 251.05,82.24 251.3,83.54 251.55,85.82 251.8,84.72 252.05,86.19 252.3,88.37 252.55,91.23 252.8,94.73 253.05,95.24 253.3,96.91 253.55,98.09 253.8,98.33 254.05,98.7 254.3,98.42 254.55,100.14 254.8,99.88 255.05,101.56 255.3,100.1 255.55,100.76 255.8,99.94 256.05,99.2 256.3,98.88 256.55,100.26 256.8,98.59 257.05,99.32 257.3,98.3 257.55,95.47 257.8,92.79 258.05,92.87 258.3,93.93 258.55,90.87 258.8,89.75 259.05,87.89 259.3,85.02 259.55,83.84 259.8,81.22 260.05,80.91 260.3,82.99 260.55,84.84 260.8,86.61 261.05,88.92 261.3,89.14 261.55,89.64 261.8,91.12 262.05,92.64 262.3,91.38 262.55,94.08 262.8,93.61 263.05,93.43 263.3,92.18 263.55,93.83 263.8,95.11 264.05,98.05 264.3,97.5 264.55,98.51 264.8,98.76 265.05,100.06 265.3,99.78 265.55,98.73 265.8,99.5 266.05,97.18 266.3,97.71 266.55,96.4 266.8,96.65 267.05,96.73 267.3,97.12 267.55,97.43 267.8,98.82 268.05,97.3 268.3,99.08 268.55,99 268.8,99.03 269.05,98.63 269.3,100.13 269.55,99.6 269.8,100.29 270.05,97.96 270.3,99.68 270.55,98.19 270.8,97.86 271.05,96.96 271.3,97.63 271.55,99.03 271.8,99.23 272.05,98.4 272.3,99.15 272.55,99.02 272.8,99.48 273.05,99.7 273.3,100.98 273.55,100.11 273.8,99 274.05,98.61 274.3,98.8 274.55,97.19 274.8,94.77 275.05,94.27 275.3,95.28 275.55,97.99 275.8,98.8 276.05,99 276.3,97.79 276.55,99.49 276.8,99.01 277.05,98.75 277.3,99.96 277.55,98.77 277.8,98.38 278.05,96.49 278.3,97.46 278.55,97.15 278.8,96.53 279.05,95.95 279.3,95.92 279.55,96.02 279.8,97.32 280.05,97.66 280.3,98.29 280.55,97.41 280.8,97.82 281.05,95.68 281.3,96.72 281.55,96.03 281.8,98.65 282.05,97.91 282.3,96.4 282.55,97.35 282.8,95.68 283.05,95.47 283.3,96.72 283.55,96.91 283.8,98.14 284.05,99.53 284.3,98.7 284.55,98.58 284.8,98.27 285.05,97.68 285.3,97.92 285.55,97.32 285.8,96.06 286.05,95.18 286.3,96.56 286.55,96.45 286.8,94.85 287.05,96.71 287.3,98.65 287.55,99.43 287.8,98.15 288.05,99.49 288.3,98 288.55,97.75 288.8,98.85 289.05,97.53 289.3,97.49 289.55,96.72 289.8,96 290.05,95.48 290.3,96.92 290.55,96.75 290.8,96.85 291.05,97.81 291.3,99.3 291.55,99.07 291.8,98.6 292.05,97.83 292.3,96.88 292.55,99.4 292.8,98.71 293.05,100.22 293.3,98.6 293.55,98.58 293.8,99.88 294.05,98.35 294.3,97.84 294.55,99.09 294.8,98.26 295.05,98.67 295.3,97.36 295.55,97.38 295.8,98.17 296.05,96.29 296.3,97.58 296.55,95.98 296.8,96.66 297.05,95.38 297.3,95.64 297.55,96.31 297.8,93.45 298.05,92.94 298.3,93.28 298.55,95.07 298.8,94.8 299.05,95.7 299.3,96.28 299.55,95.41 299.8,95.01 300.05,96.16 300.3,96.19 300.55,95.79 300.8,94.59 301.05,95.89 301.3,95.6 301.55,96.83 301.8,96.21 302.05,95.64 302.3,95.54 302.55,95.45 302.8,95.54 303.05,93.77 303.3,91.77 303.55,91.41 303.8,90.15 304.05,92.71 304.3,92.46 304.55,91.74 304.8,91.05 305.05,91.26 305.3,91.12 305.55,90.31 305.8,89.91 306.05,88.24 306.3,90.21 306.55,91.12 306.8,94.24 307.05,95.12 307.3,93.26 307.55,92.84 307.8,93.38 308.05,93.95 308.3,93.51 308.55,92.5 308.8,93.35 309.05,91.77 309.3,91.57 309.55,90.55 309.8,93.39 310.05,94.27 310.3,95.48 310.55,95.62 310.8,95.4 311.05,96.94 311.3,96.01 311.55,95.59 311.8,94.31 312.05,93.68 312.3,94.22 312.55,94.39 312.8,93.95 313.05,92.49 313.3,92.78 313.55,90.33 313.8,90.72 314.05,88.6 314.3,87.32 314.55,84.77 314.8,83.9 315.05,83.98 315.3,83.8 315.55,81.35 315.8,77.07 316.05,74.76 316.3,73.58 316.55,76.21 316.8,80.76 317.05,85.3 317.3,88.51 317.55,92.28 317.8,96.02 318.05,98.65 318.3,99.42 318.55,97.39 318.8,96.75 319.05,97.61 319.3,96.49 319.55,96.13 319.8,94.43 320.05,93.45 320.3,94.37 320.55,93.33 320.8,93.01 321.05,91.81 321.3,90.54 321.55,89.53 321.8,90.34 322.05,91.83 322.3,90.52 322.55,89.54 322.8,89.85 323.05,88.58 323.3,89.26 323.55,87.2 323.8,88.48 324.05,87.46 324.3,86.57 324.55,87.43 324.8,85.09 325.05,85.72 325.3,85.75 325.55,85.16 325.8,83.92 326.05,83.79 326.3,82.09 326.55,83.78 326.8,85.94 327.05,87.65 327.3,87.54 327.55,88.3 327.8,89.1 328.05,88.97 328.3,91.17 328.55,91.73 328.8,91.85 329.05,92.96 329.3,94.87 329.55,94.87 329.8,95.51 330.05,97.9 330.3,97.58 330.55,98.82 330.8,97.55 331.05,98.43 331.3,98.26 331.55,99.44 331.8,99.83 332.05,99.51 332.3,97.17 332.55,97.1 332.8,97.36 333.05,97.83 333.3,96.52 333.55,97.13 333.8,96.35 334.05,96.03 334.3,94.96 334.55,96.54 334.8,97.16 335.05,97.04 335.3,98.35 335.55,98.79 335.8,98.88 336.05,99.47 336.3,97.48 336.55,98.41 336.8,98.07 337.05,97.53 337.3,96.45 337.55,95.66 337.8,96.5 338.05,95.45 338.3,92.23 338.55,91.33 338.8,91.87 339.05,91.96 339.3,92.49 339.55,92.39 339.8,91.26 340.05,89.66 340.3,90.22 340.55,88.67 340.8,90.17 341.05,88.87 341.3,87.98" fill="none" stroke="#000" stroke-width="1.5" stroke-linejoin="round" />
<polyline points="400,99.14 400.25,99.67 400.5,101.01 400.75,100.28 401,101.7 401.25,101.85 401.5,103.47 401.75,102.48 402,103.84 402.25,103.42 402.5,102.71 402.75,101.62 403,101.75 403.25,102.1 403.5,101.51 403.75,100.83 404,101.26 404.25,101.27 404.5,98.28 404.75,98.01 405,97.5 405.25,97.96 405.5,97.84 405.75,99.24 406,100.75 406.25,100.93 406.5,102.09 406.75,102.29 407,102.21 407.25,102.38 407.5,101.21 407.75,102.28 408,102.18 408.25,103.23 408.5,102.08 408.75,103.29 409,103.27 409.25,101.86 409.5,102.68 409.75,102.16 410,100.99 410.25,98.72 410.5,98.61 410.75,98.36 411,98.54 411.25,97.89 411.5,96.07 411.75,98.71 412,98.83 412.25,98.54 412.5,100.73 412.75,101.14 413,101.95 413.25,100.64 413.5,101.68 413.75,101.46 414,101.51 414.25,102.88 414.5,102.6 414.75,103.78 415,103.16 415.25,103.8 415.5,102.78 415.75,103.62 416,100.87 416.25,101.16 416.5,100.7 416.75,101.49 417,102.44 417.25,102.11 417.5,102.07 417.75,102.76 418,102.83 418.25,103.55 418.5,104.45 418.75,102.52 419,103.57 419.25,104.72 419.5,102.57 419.75,104.13 420,102.12 420.25,102.43 420.5,102.59 420.75,102.03 421,102.99 421.25,102.76 421.5,103.13 421.75,102.3 422,102.22 422.25,102.39 422.5,103.04 422.75,104.54 423,103.39 423.25,103.91 423.5,103.48 423.75,103.26 424,104.23 424.25,102.59 424.5,103.39 424.75,103.78 425,104.05 425.25,102.03 425.5,102.82 425.75,103.55 426,104.57 426.25,103.69 426.5,104.24 426.75,105.34 427,103.45 427.25,103.9 427.5,103.3 427.75,103.02 428,102.81 428.25,103.14 428.5,102.84 428.75,101.98 429,103.72 429.25,102.89 429.5,101.89 429.75,103.39 430,103.27 430.25,101.7 430.5,103.3 430.75,102.87 431,101.35 431.25,100.68 431.5,102.63 431.75,102.26 432,102.16 432.25,101.7 432.5,102.05 432.75,102.29 433,100.59 433.25,101.46 433.5,101.06 433.75,98.88 434,99.29 434.25,99.34 434.5,99.78 434.75,98.99 435,98.92 435.25,99.5 435.5,100.83 435.75,100.49 436,102.86 436.25,103.18 436.5,101.88 436.75,103.22 437,103.42 437.25,103.89 437.5,103.04 437.75,102.79 438,103.48 438.25,104.39 438.5,102.65 438.75,102.48 439,101.25 439.25,101.88 439.5,102.89 439.75,104.04 440,102.19 440.25,101.79 440.5,103.23 440.75,101.46 441,102.65 441.25,101.06 441.5,101.27 441.75,102.08 442,102.4 442.25,101.59 442.5,102 442.75,101.31 443,103.44 443.25,103.58 443.5,104.06 443.75,103.76 444,104.48 444.25,102.88 444.5,102.89 444.75,102.05 445,102.2 445.25,103.67 445.5,102.56 445.75,102.71 446,102.48 446.25,103.62 446.5,102.83 446.75,102.2 447,101.71 447.25,102.76 447.5,102.55 447.75,101.13 448,101.16 448.25,101.66 448.5,99.99 448.75,100.37 449,100.79 449.25,99.11 449.5,99.56 449.75,100.69 450,98.99 450.25,98.73 450.5,100.04 450.75,100.92 451,100.45 451.25,100.25 451.5,101.85 451.75,102.47 452,103.28 452.25,103.01 452.5,102.54" fill="none" stroke="#000" stroke-width="1.5" stroke-linejoin="round" />
<polyline points="465,104.04 465.25,103.55 465.5,104.24 465.75,103.85 466,103.61 466.25,101.26 466.5,102.76 466.75,101.71 467,101.89 467.25,100.73 467.5,102.05 467.75,99.67 468,101.08 468.25,100.29 468.5,98.98 468.75,100.67 469,99.8 469.25,101.29 469.5,100.8 469.75,100.85 470,100.52 470.25,102.16 470.5,102.18 470.75,100.83 471,103.15 471.25,101.21 471.5,101.45 471.75,102.56 472,102.57 472.25,101.69 472.5,100.93 472.75,100.18 473,99.76 473.25,100.17 473.5,99.67 473.75,100 474,102.1 474.25,101.17 474.5,101.09 474.75,101.33 475,100.81 475.25,102.83 475.5,102.17 475.75,102.23 476,102.12 476.25,101.88 476.5,102.21 476.75,102.81 477,102.87 477.25,104.03 477.5,101.68 477.75,101.81 478,102.13 478.25,103.05 478.5,103.18 478.75,101.49 479,102.36 479.25,101.4 479.5,101.73 479.75,102.5 480,102.1 480.25,102.52 480.5,104.28 480.75,104.64 481,104.21 481.25,105.63 481.5,105.52 481.75,104.4 482,103.96 482.25,105.25 482.5,105.62 482.75,104.71 483,104.41 483.25,105.88 483.5,105.43 483.75,104.41 484,104.62 484.25,103.92 484.5,103.58 484.75,103.04 485,104.04 485.25,103.51 485.5,104.67 485.75,104.2 486,105.49 486.25,105.17 486.5,105.49 486.75,105.06 487,105.65 487.25,104.63 487.5,106.39 487.75,105.54 488,105.08 488.25,105.21 488.5,103.79 488.75,104.23 489,103.33 489.25,104.49 489.5,105.63 489.75,105.55 490,105.13 490.25,103.32 490.5,102.42 490.75,104.61 491,104.69 491.25,106.1 491.5,105.26 491.75,106.31 492,105.93 492.25,106.57 492.5,107.04 492.75,105.65 493,107.17 493.25,104.7 493.5,106.66 493.75,104.5 494,105.61 494.25,105.11 494.5,105.9 494.75,105.81 495,105.12 495.25,105.74 495.5,105.22 495.75,104.21 496,105.63 496.25,103.96 496.5,104.91 496.75,104.37 497,105.42 497.25,106.21 497.5,106.26 497.75,105.76 498,105.11 498.25,105.62 498.5,105.28 498.75,103.98 499,104.58 499.25,104.92 499.5,105.42 499.75,104.34 500,104.8 500.25,105.06 500.5,106.18 500.75,106 501,105.22 501.25,106.29 501.5,104.12 501.75,104.95 502,103.78 502.25,104.11 502.5,104.65 502.75,105.16 503,104.45 503.25,105.41 503.5,105.03 503.75,102.95 504,103.56 504.25,102.92 504.5,102.09 504.75,100.84 505,102 505.25,101.51 505.5,98.73 505.75,100.18 506,101.1 506.25,102.91 506.5,101.49 506.75,104.12 507,103.54 507.25,102.9 507.5,104.76 507.75,102.98 508,103.36 508.25,103.78 508.5,104.81 508.75,104.4 509,104.73 509.25,104.96 509.5,105.81 509.75,105.56 510,105.28 510.25,105.87 510.5,106.53 510.75,106.48 511,105.62 511.25,106.75 511.5,106.2 511.75,104.84 512,104.12 512.25,105.68 512.5,104.76 512.75,103.29 513,105.02 513.25,104.3 513.5,101.09 513.75,101.52 514,100.33 514.25,101.2 514.5,101.8 514.75,101.31 515,102.33 515.25,103.4 515.5,102.93 515.75,104.64 516,104.82 516.25,106.28 516.5,104.5 516.75,105.88 517,104.4 517.25,105.08 517.5,105.82 517.75,105.09 518,106.71 518.25,104.97 518.5,106 518.75,106.08 519,103.85 519.25,104.43 519.5,106.11 519.75,105.49 520,106.54 520.25,104.92 520.5,104.88 520.75,106.04 521,104.38 521.25,105.68 521.5,105.31 521.75,103.47 522,104.11 522.25,104.62 522.5,102.21 522.75,103.53 523,102.92 523.25,100.86 523.5,102.49 523.75,100 524,101.2 524.25,100.62 524.5,99.21 524.75,99.92 525,99.81 525.25,100.77 525.5,99.36 525.75,103.16 526,103.5 526.25,104.92 526.5,104.31 526.75,105.31 527,104.27 527.25,105.05 527.5,103.99 527.75,105.29 528,104.49 528.25,106.24 528.5,105.68 528.75,104.95 529,106.1 529.25,103.87 529.5,105.24 529.75,105.17 530,104.75 530.25,103.01 530.5,104.86 530.75,103.37 531,102.92 531.25,102.11 531.5,100.28 531.75,101.09 532,104.65 532.25,103.76 532.5,103.6 532.75,104.23 533,106.69 533.25,105.89 533.5,104.43 533.75,104.09 534,105.7 534.25,104.96 534.5,104.57 534.75,105.26 535,102.81 535.25,103.87 535.5,103.06 535.75,105.01 536,102.31 536.25,104.06 536.5,104.47 536.75,104.89 537,103.4 537.25,104.78 537.5,104.11 537.75,103.92 538,102.9 538.25,103.59 538.5,104.1 538.75,102.3 539,103.9 539.25,102.93 539.5,102.69 539.75,102.75 540,103.4 540.25,103.98 540.5,103.78 540.75,103.91 541,105.17 541.25,103.13 541.5,102.46 541.75,103.03 542,102.22 542.25,100.61 542.5,100.58 542.75,100.44 543,103.34 543.25,102.38 543.5,103.25 543.75,102.73 544,102.73 544.25,102.72 544.5,101.54 544.75,102.49 545,101.15 545.25,101.91 545.5,101.93 545.75,102.28 546,100.98 546.25,102.72 546.5,103.35 546.75,101.5 547,101.94 547.25,101.91 547.5,102.9 547.75,102.25 548,102.01 548.25,103.31 548.5,103.66 548.75,103.84 549,104.76 549.25,104.17 549.5,104.25 549.75,104.15 550,103.99 550.25,104.43 550.5,103.8 550.75,102.55 551,103.07 551.25,102.87 551.5,102.71 551.75,102.83 552,102.32 552.25,102.38 552.5,104.01 552.75,102.08 553,102.09 553.25,103.51 553.5,102.31 553.75,102.49 554,103.62 554.25,103.55 554.5,103.12 554.75,102.46 555,104.4 555.25,104.43 555.5,102.74 555.75,103.04 556,102.58 556.25,101.82 556.5,103.69 556.75,103.43 557,101.88 557.25,101.79 557.5,102.73 557.75,101.85 558,101.36 558.25,102.84 558.5,103.12 558.75,103.23 559,101.57 559.25,102.85 559.5,103.4 559.75,102.22 560,101.59 560.25,101.37 560.5,101.7 560.75,103.18 561,101.46 561.25,103.12 561.5,102.65 561.75,102.06 562,102.94 562.25,103.23 562.5,102.65 562.75,101.6 563,102.96 563.25,102.75 563.5,103.68 563.75,102.4 564,102.85 564.25,102.93 564.5,102.82 564.75,101.04 565,100.32 565.25,102.03 565.5,101.32 565.75,102.72 566,101.59 566.25,102.82 566.5,102.58 566.75,100.84 567,101.25 567.25,99.82 567.5,100.29 567.75,100.55 568,100.33 568.25,99.25 568.5,98.14 568.75,97.99 569,98.05 569.25,98.43 569.5,98.74 569.75,97.44 570,96.45 570.25,96.87 570.5,95.72 570.75,96.12 571,94.17 571.25,95.12 571.5,96.5 571.75,98.46 572,97.2 572.25,96.82 572.5,96.24 572.75,96 573,95.85 573.25,95.56 573.5,96 573.75,94.71 574,94.44 574.25,95 574.5,96.66 574.75,97.76 575,96.9 575.25,99.4 575.5,99.06 575.75,99.39 576,98.62 576.25,98.3 576.5,97.92 576.75,99.34 577,97.4 577.25,97.55 577.5,97.38 577.75,97.94 578,97.1 578.25,96.8 578.5,96.96 578.75,97.56 579,97 579.25,96.22 579.5,98.43 579.75,98.28 580,97.92 580.25,98.89 580.5,100.1 580.75,100.07 581,100.4 581.25,100.5 581.5,100.47 581.75,99.78 582,99.93 582.25,100 582.5,100.7 582.75,101.92 583,101.37 583.25,99.86 583.5,99.48 583.75,99.56 584,99.57 584.25,100.01 584.5,100.5 584.75,99.72 585,99.13 585.25,98.36 585.5,99.81 585.75,98.93 586,97.62 586.25,97.19 586.5,98.38 586.75,96.41 587,97.47 587.25,95.7 587.5,95.72 587.75,93.9 588,94.24 588.25,95.93 588.5,97.83 588.75,98.7 589,98.34 589.25,98.89 589.5,98.38 589.75,98.8 590,98.81 590.25,101.26 590.5,99.3 590.75,100.97 591,100.64 591.25,100.55 591.5,101.45 591.75,102.93 592,102.51 592.25,102.35 592.5,101.78 592.75,100.76 593,102.2 593.25,99.74 593.5,99.23 593.75,99.2 594,100.07 594.25,100.42 594.5,100.68 594.75,101.17 595,101.65 595.25,100.7 595.5,99.75 595.75,101.72 596,99.84 596.25,100.41 596.5,99.84 596.75,100.8 597,101.08 597.25,99.36 597.5,99.61 597.75,99.01 598,100.25 598.25,100.58 598.5,99.73 598.75,99.2 599,100.48 599.25,99.74 599.5,99.26 599.75,98.59 600,98.41 600.25,99.76 600.5,102.8 600.75,105.32 601,106.93 601.25,106.58 601.5,107.55 601.75,105.85 602,106.44 602.25,107.8 602.5,107.75 602.75,107.8 603,107.54 603.25,107 603.5,106.01 603.75,106.35 604,105.98 604.25,107.8 604.5,106.55 604.75,106.77 605,107.09 605.25,105.61 605.5,106.29 605.75,105.94 606,106.63 606.25,107.53 606.5,106.31 606.75,105.86 607,107.29 607.25,107.09 607.5,106.28 607.75,106.17 608,105.67 608.25,107.36 608.5,106.53 608.75,107.44 609,106.37 609.25,107.4 609.5,107.79 609.75,106.59 610,107.46 610.25,106.47 610.5,106.69 610.75,105.45 611,104.6 611.25,104.53 611.5,104.66 611.75,105.82 612,105.32 612.25,104.73 612.5,104.8 612.75,105.67 613,107.8 613.25,105.89 613.5,107.74 613.75,107.07 614,107.13 614.25,107.09 614.5,106.78 614.75,107.14 615,106.05 615.25,106.13 615.5,107.41 615.75,107.3 616,106.71 616.25,105.45 616.5,106.31 616.75,105.19 617,105.83 617.25,106.02 617.5,106.97 617.75,105.12 618,105.68 618.25,105.9 618.5,104.08 618.75,104.62 619,105.16 619.25,104.44 619.5,103.26 619.75,103.1 620,102.27 620.25,103.93 620.5,103.53 620.75,103.43 621,102.87 621.25,103.64 621.5,102.62 621.75,103.89 622,103.44 622.25,102.47 622.5,101.95 622.75,101.74 623,101.28 623.25,102.6 623.5,100.32 623.75,102.2 624,101.51 624.25,101.04 624.5,101.96 624.75,100.34 625,100.86 625.25,101.83 625.5,102.15 625.75,101.13 626,102.69 626.25,101.72 626.5,100.21 626.75,101.26 627,100.52 627.25,100.07 627.5,99.97 627.75,98.57 628,100.84 628.25,100.9 628.5,100.19 628.75,99.74 629,99.24 629.25,99.77 629.5,98.98 629.75,100.32 630,100.09 630.25,99.34 630.5,99.38 630.75,97.38 631,97.3 631.25,97.63 631.5,96.9 631.75,97.41 632,98.5 632.25,97 632.5,97.27 632.75,97.06 633,97.92 633.25,97.67 633.5,99.07 633.75,98.35 634,99.06 634.25,97.7 634.5,96.7 634.75,96.06 635,97.87 635.25,98.68 635.5,98.96 635.75,98.61 636,98.81 636.25,98.61 636.5,98.25 636.75,99.49 637,100.08 637.25,99.13 637.5,100.84 637.75,100.82 638,100.12 638.25,99.46 638.5,99.78 638.75,100.98 639,101.66 639.25,99.84 639.5,99.87 639.75,100.39 640,99.72 640.25,99.91 640.5,99.79 640.75,102.58 641,101.61 641.25,103.08 641.5,101.79 641.75,101.83 642,101.62 642.25,103.62 642.5,102.81 642.75,103.48 643,101.75" fill="none" stroke="#000" stroke-width="1.5" stroke-linejoin="round" />
<line x1="55.5" y1="108.3" x2="60" y2="108.3" stroke="#5ADDCB" stroke-width="1.2" />
<line x1="55.5" y1="90.3" x2="58" y2="90.3" stroke="#5ADDCB" stroke-width="1.2" />
<line x1="55.5" y1="72.3" x2="60" y2="72.3" stroke="#5ADDCB" stroke-width="1.2" />
<line x1="55.5" y1="54.3" x2="58" y2="54.3" stroke="#5ADDCB" stroke-width="1.2" />
<line x1="55.5" y1="36.3" x2="60" y2="36.3" stroke="#5ADDCB" stroke-width="1.2" />
<line x1="55.5" y1="18.3" x2="58" y2="18.3" stroke="#5ADDCB" stroke-width="1.2" />
<line x1="337" y1="108.3" x2="341.5" y2="108.3" stroke="#000" stroke-width="1.2" />
<line x1="339" y1="90.3" x2="341.5" y2="90.3" stroke="#000" stroke-width="1.2" />
<line x1="337" y1="72.3" x2="341.5" y2="72.3" stroke="#000" stroke-width="1.2" />
<line x1="339" y1="54.3" x2="341.5" y2="54.3" stroke="#000" stroke-width="1.2" />
<line x1="337" y1="36.3" x2="341.5" y2="36.3" stroke="#000" stroke-width="1.2" />
<line x1="339" y1="18.3" x2="341.5" y2="18.3" stroke="#000" stroke-width="1.2" />
<line x1="55.5" y1="198" x2="60" y2="198" stroke="#000" stroke-width="1.2" />
<line x1="55.5" y1="175.5" x2="58" y2="175.5" stroke="#000" stroke-width="1.2" />
<line x1="55.5" y1="153" x2="60" y2="153" stroke="#000" stroke-width="1.2" />
<line x1="55.5" y1="130.5" x2="58" y2="130.5" stroke="#000" stroke-width="1.2" />
<line x1="55.5" y1="108" x2="60" y2="108" stroke="#000" stroke-width="1.2" />
<line x1="337" y1="198" x2="341.5" y2="198" stroke="#EC9452" stroke-width="1.2" />
<line x1="339" y1="175.5" x2="341.5" y2="175.5" stroke="#EC9452" stroke-width="1.2" />
<line x1="337" y1="153" x2="341.5" y2="153" stroke="#EC9452" stroke-width="1.2" />
<line x1="339" y1="130.5" x2="341.5" y2="130.5" stroke="#EC9452" stroke-width="1.2" />
<line x1="337" y1="108" x2="341.5" y2="108" stroke="#EC9452" stroke-width="1.2" />
<line x1="55.5" y1="198" x2="55.5" y2="195" stroke="#000" stroke-width="1.2" />
<line x1="84.1" y1="198" x2="84.1" y2="196.2" stroke="#000" stroke-width="1.2" />
<line x1="112.7" y1="198" x2="112.7" y2="195" stroke="#000" stroke-width="1.2" />
<line x1="141.3" y1="198" x2="141.3" y2="196.2" stroke="#000" stroke-width="1.2" />
<line x1="169.9" y1="198" x2="169.9" y2="195" stroke="#000" stroke-width="1.2" />
<line x1="198.5" y1="198" x2="198.5" y2="196.2" stroke="#000" stroke-width="1.2" />
<line x1="227.1" y1="198" x2="227.1" y2="195" stroke="#000" stroke-width="1.2" />
<line x1="255.7" y1="198" x2="255.7" y2="196.2" stroke="#000" stroke-width="1.2" />
<line x1="284.3" y1="198" x2="284.3" y2="195" stroke="#000" stroke-width="1.2" />
<line x1="312.9" y1="198" x2="312.9" y2="196.2" stroke="#000" stroke-width="1.2" />
<line x1="341.5" y1="198" x2="341.5" y2="195" stroke="#000" stroke-width="1.2" />
<line x1="356.8" y1="108.3" x2="361.3" y2="108.3" stroke="#5ADDCB" stroke-width="1.2" />
<line x1="356.8" y1="90.3" x2="359.3" y2="90.3" stroke="#5ADDCB" stroke-width="1.2" />
<line x1="356.8" y1="72.3" x2="361.3" y2="72.3" stroke="#5ADDCB" stroke-width="1.2" />
<line x1="356.8" y1="54.3" x2="359.3" y2="54.3" stroke="#5ADDCB" stroke-width="1.2" />
<line x1="356.8" y1="36.3" x2="361.3" y2="36.3" stroke="#5ADDCB" stroke-width="1.2" />
<line x1="356.8" y1="18.3" x2="359.3" y2="18.3" stroke="#5ADDCB" stroke-width="1.2" />
<line x1="638.7" y1="108.3" x2="643.2" y2="108.3" stroke="#000" stroke-width="1.2" />
<line x1="640.7" y1="90.3" x2="643.2" y2="90.3" stroke="#000" stroke-width="1.2" />
<line x1="638.7" y1="72.3" x2="643.2" y2="72.3" stroke="#000" stroke-width="1.2" />
<line x1="640.7" y1="54.3" x2="643.2" y2="54.3" stroke="#000" stroke-width="1.2" />
<line x1="638.7" y1="36.3" x2="643.2" y2="36.3" stroke="#000" stroke-width="1.2" />
<line x1="640.7" y1="18.3" x2="643.2" y2="18.3" stroke="#000" stroke-width="1.2" />
<line x1="356.8" y1="198" x2="361.3" y2="198" stroke="#000" stroke-width="1.2" />
<line x1="356.8" y1="175.5" x2="359.3" y2="175.5" stroke="#000" stroke-width="1.2" />
<line x1="356.8" y1="153" x2="361.3" y2="153" stroke="#000" stroke-width="1.2" />
<line x1="356.8" y1="130.5" x2="359.3" y2="130.5" stroke="#000" stroke-width="1.2" />
<line x1="356.8" y1="108" x2="361.3" y2="108" stroke="#000" stroke-width="1.2" />
<line x1="638.7" y1="198" x2="643.2" y2="198" stroke="#EC9452" stroke-width="1.2" />
<line x1="640.7" y1="175.5" x2="643.2" y2="175.5" stroke="#EC9452" stroke-width="1.2" />
<line x1="638.7" y1="153" x2="643.2" y2="153" stroke="#EC9452" stroke-width="1.2" />
<line x1="640.7" y1="130.5" x2="643.2" y2="130.5" stroke="#EC9452" stroke-width="1.2" />
<line x1="638.7" y1="108" x2="643.2" y2="108" stroke="#EC9452" stroke-width="1.2" />
<line x1="356.8" y1="198" x2="356.8" y2="195" stroke="#000" stroke-width="1.2" />
<line x1="385.44" y1="198" x2="385.44" y2="196.2" stroke="#000" stroke-width="1.2" />
<line x1="414.08" y1="198" x2="414.08" y2="195" stroke="#000" stroke-width="1.2" />
<line x1="442.72" y1="198" x2="442.72" y2="196.2" stroke="#000" stroke-width="1.2" />
<line x1="471.36" y1="198" x2="471.36" y2="195" stroke="#000" stroke-width="1.2" />
<line x1="500" y1="198" x2="500" y2="196.2" stroke="#000" stroke-width="1.2" />
<line x1="528.64" y1="198" x2="528.64" y2="195" stroke="#000" stroke-width="1.2" />
<line x1="557.28" y1="198" x2="557.28" y2="196.2" stroke="#000" stroke-width="1.2" />
<line x1="585.92" y1="198" x2="585.92" y2="195" stroke="#000" stroke-width="1.2" />
<line x1="614.56" y1="198" x2="614.56" y2="196.2" stroke="#000" stroke-width="1.2" />
<line x1="643.2" y1="198" x2="643.2" y2="195" stroke="#000" stroke-width="1.2" />
<text x="57.3" y="12.2" font-size="16.2" fill="#000" text-anchor="start" >(a)</text>
<text x="127.5" y="11.2" font-size="14.45" fill="#52A9F8" text-anchor="start" >CD supersite&#160; in 2018</text>
<text x="460.3" y="11.8" font-size="11.9" fill="#000" text-anchor="start" >HKUST in 2022</text>
<line x1="64.9" y1="33.8" x2="94.8" y2="33.8" stroke="#5ADDCB" stroke-width="1.3" />
<text x="97.4" y="37.8" font-size="13" fill="#000" text-anchor="start">H<tspan font-size="8.1" dy="3.8">2</tspan><tspan dy="-3.8">SO</tspan><tspan font-size="8.1" dy="3.8">4</tspan></text>
<line x1="278" y1="33.8" x2="307.3" y2="33.8" stroke="#000" stroke-width="1.3" />
<text x="311.3" y="37.9" font-size="13.2">SO<tspan font-size="8" dy="3.6">2</tspan></text>
<line x1="369.4" y1="33.8" x2="398.3" y2="33.8" stroke="#5ADDCB" stroke-width="1.3" />
<text x="401.7" y="37.8" font-size="13" fill="#000" text-anchor="start">H<tspan font-size="8.1" dy="3.8">2</tspan><tspan dy="-3.8">SO</tspan><tspan font-size="8.1" dy="3.8">4</tspan></text>
<line x1="578.6" y1="33.8" x2="607.5" y2="33.8" stroke="#000" stroke-width="1.3" />
<text x="610.7" y="37.9" font-size="13.2">SO<tspan font-size="8" dy="3.6">2</tspan></text>
<rect x="65.2" y="116.4" width="1.6" height="1.6" fill="#000"/>
<text x="84.1" y="121.8" font-size="13">PM<tspan font-size="8.3" dy="2.5">2.5</tspan></text>
<rect x="287.3" y="114.2" width="27.6" height="13.2" fill="#EC9452" stroke="#C97C42" stroke-width="0.7"/>
<text x="319" y="124.9" font-size="12.4">SR</text>
<rect x="374.6" y="120.7" width="1.6" height="1.6" fill="#000"/>
<text x="393.3" y="125.9" font-size="13">PM<tspan font-size="8.3" dy="2.5">2.5</tspan></text>
<rect x="586.8" y="113.5" width="27.6" height="12.8" fill="#EC9452" stroke="#C97C42" stroke-width="0.7"/>
<text x="618.9" y="123.7" font-size="12.4">SR</text>
<text x="50.6" y="111.8" font-size="12" fill="#5ADDCB" text-anchor="end" >0</text>
<text x="50.6" y="75.8" font-size="12" fill="#5ADDCB" text-anchor="end" >2</text>
<text x="50.6" y="39.8" font-size="12" fill="#5ADDCB" text-anchor="end" >4</text>
<text x="50.8" y="201.3" font-size="12" fill="#000" text-anchor="end" >0</text>
<text x="50.8" y="156.3" font-size="12" fill="#000" text-anchor="end" >30</text>
<text x="647.2" y="111.9" font-size="12" fill="#000" text-anchor="start" >0</text>
<text x="647.2" y="75.9" font-size="12" fill="#000" text-anchor="start" >4</text>
<text x="647.2" y="39.9" font-size="12" fill="#000" text-anchor="start" >8</text>
<text x="647.2" y="201.6" font-size="12" fill="#000" text-anchor="start" >0</text>
<text x="647.2" y="156.6" font-size="12" fill="#000" text-anchor="start" >400</text>
<g transform="translate(10.2,68) rotate(-90)"><text x="0" y="0" font-size="14" fill="#5ADDCB" text-anchor="middle">H<tspan font-size="8.3" dy="2.6">2</tspan><tspan dy="-2.6">SO</tspan><tspan font-size="8.3" dy="2.6">4</tspan></text></g>
<g transform="translate(30.4,66.5) rotate(-90)"><text x="0" y="0" font-size="13" fill="#5ADDCB" text-anchor="middle">(×10<tspan font-size="8.3" dy="-5">7</tspan><tspan dy="5"> molecule/cm</tspan><tspan font-size="8.3" dy="-5">3</tspan><tspan dy="5">)</tspan></text></g>
<g transform="translate(28.2,160.9) rotate(-90)"><text x="0" y="0" font-size="13" text-anchor="middle">PM<tspan font-size="8.2" dy="2.6">2.5</tspan><tspan dy="-2.6"> (μg/m</tspan><tspan font-size="8.2" dy="-5">3</tspan><tspan dy="5">)</tspan></text></g>
<g transform="translate(671.3,57) rotate(-90)"><text x="0" y="0" font-size="12.6" text-anchor="middle">SO<tspan font-size="8.2" dy="2.6">2</tspan><tspan dy="-2.6"> (ppb)</tspan></text></g>
<g transform="translate(681.3,154.2) rotate(-90)"><text x="0" y="0" font-size="12.8" fill="#E8843E" text-anchor="middle">SR (W/m<tspan font-size="8.2" dy="-5">2</tspan><tspan dy="5">)</tspan></text></g>
<g transform="translate(60.3,212.8) rotate(-24)"><text x="0" y="0" font-size="12.2" text-anchor="end">11/1/2018</text></g>
<g transform="translate(117.5,212.8) rotate(-24)"><text x="0" y="0" font-size="12.2" text-anchor="end">11/11/2018</text></g>
<g transform="translate(174.7,212.8) rotate(-24)"><text x="0" y="0" font-size="12.2" text-anchor="end">11/21/2018</text></g>
<g transform="translate(231.9,212.8) rotate(-24)"><text x="0" y="0" font-size="12.2" text-anchor="end">12/1/2018</text></g>
<g transform="translate(289.1,212.8) rotate(-24)"><text x="0" y="0" font-size="12.2" text-anchor="end">12/11/2018</text></g>
<g transform="translate(361.6,212.8) rotate(-24)"><text x="0" y="0" font-size="12.2" text-anchor="end">11/1/2022</text></g>
<g transform="translate(418.88,212.8) rotate(-24)"><text x="0" y="0" font-size="12.2" text-anchor="end">11/11/2022</text></g>
<g transform="translate(476.16,212.8) rotate(-24)"><text x="0" y="0" font-size="12.2" text-anchor="end">11/21/2022</text></g>
<g transform="translate(533.44,212.8) rotate(-24)"><text x="0" y="0" font-size="12.2" text-anchor="end">12/1/2022</text></g>
<g transform="translate(590.72,212.8) rotate(-24)"><text x="0" y="0" font-size="12.2" text-anchor="end">12/11/2022</text></g>
<g transform="translate(648,212.8) rotate(-24)"><text x="0" y="0" font-size="12.2" text-anchor="end">12/21/2022</text></g>
<text x="348.8" y="248.9" font-size="14.6" fill="#000" text-anchor="middle" >Date</text>
<line x1="78" y1="263" x2="319" y2="263" stroke="#000" stroke-width="1.7" />
<line x1="319" y1="263" x2="319" y2="426" stroke="#000" stroke-width="1.7" />
<line x1="78" y1="426" x2="319" y2="426" stroke="#000" stroke-width="1.7" />
<line x1="78" y1="262.15" x2="78" y2="426.85" stroke="#52A9F8" stroke-width="1.7" />
<line x1="78" y1="352.5" x2="78" y2="380" stroke="#52A9F8" stroke-width="1.2" />
<line x1="75.6" y1="352.5" x2="80.4" y2="352.5" stroke="#52A9F8" stroke-width="1.2" />
<line x1="75.6" y1="380" x2="80.4" y2="380" stroke="#52A9F8" stroke-width="1.2" />
<line x1="88.48" y1="353.5" x2="88.48" y2="381" stroke="#52A9F8" stroke-width="1.2" />
<line x1="86.08" y1="353.5" x2="90.88" y2="353.5" stroke="#52A9F8" stroke-width="1.2" />
<line x1="86.08" y1="381" x2="90.88" y2="381" stroke="#52A9F8" stroke-width="1.2" />
<line x1="98.96" y1="358.7" x2="98.96" y2="375.2" stroke="#52A9F8" stroke-width="1.2" />
<line x1="96.56" y1="358.7" x2="101.36" y2="358.7" stroke="#52A9F8" stroke-width="1.2" />
<line x1="96.56" y1="375.2" x2="101.36" y2="375.2" stroke="#52A9F8" stroke-width="1.2" />
<line x1="109.43" y1="358.7" x2="109.43" y2="375.2" stroke="#52A9F8" stroke-width="1.2" />
<line x1="107.03" y1="358.7" x2="111.83" y2="358.7" stroke="#52A9F8" stroke-width="1.2" />
<line x1="107.03" y1="375.2" x2="111.83" y2="375.2" stroke="#52A9F8" stroke-width="1.2" />
<line x1="119.91" y1="357.6" x2="119.91" y2="377.4" stroke="#52A9F8" stroke-width="1.2" />
<line x1="117.51" y1="357.6" x2="122.31" y2="357.6" stroke="#52A9F8" stroke-width="1.2" />
<line x1="117.51" y1="377.4" x2="122.31" y2="377.4" stroke="#52A9F8" stroke-width="1.2" />
<line x1="130.39" y1="358.7" x2="130.39" y2="376.3" stroke="#52A9F8" stroke-width="1.2" />
<line x1="127.99" y1="358.7" x2="132.79" y2="358.7" stroke="#52A9F8" stroke-width="1.2" />
<line x1="127.99" y1="376.3" x2="132.79" y2="376.3" stroke="#52A9F8" stroke-width="1.2" />
<line x1="140.87" y1="358.7" x2="140.87" y2="375.2" stroke="#52A9F8" stroke-width="1.2" />
<line x1="138.47" y1="358.7" x2="143.27" y2="358.7" stroke="#52A9F8" stroke-width="1.2" />
<line x1="138.47" y1="375.2" x2="143.27" y2="375.2" stroke="#52A9F8" stroke-width="1.2" />
<line x1="151.35" y1="334.8" x2="151.35" y2="369" stroke="#52A9F8" stroke-width="1.2" />
<line x1="148.95" y1="334.8" x2="153.75" y2="334.8" stroke="#52A9F8" stroke-width="1.2" />
<line x1="148.95" y1="369" x2="153.75" y2="369" stroke="#52A9F8" stroke-width="1.2" />
<line x1="161.83" y1="314" x2="161.83" y2="369" stroke="#52A9F8" stroke-width="1.2" />
<line x1="159.43" y1="314" x2="164.23" y2="314" stroke="#52A9F8" stroke-width="1.2" />
<line x1="159.43" y1="369" x2="164.23" y2="369" stroke="#52A9F8" stroke-width="1.2" />
<line x1="172.3" y1="297.5" x2="172.3" y2="357.5" stroke="#52A9F8" stroke-width="1.2" />
<line x1="169.9" y1="297.5" x2="174.7" y2="297.5" stroke="#52A9F8" stroke-width="1.2" />
<line x1="169.9" y1="357.5" x2="174.7" y2="357.5" stroke="#52A9F8" stroke-width="1.2" />
<line x1="182.78" y1="291" x2="182.78" y2="358.7" stroke="#52A9F8" stroke-width="1.2" />
<line x1="180.38" y1="291" x2="185.18" y2="291" stroke="#52A9F8" stroke-width="1.2" />
<line x1="180.38" y1="358.7" x2="185.18" y2="358.7" stroke="#52A9F8" stroke-width="1.2" />
<line x1="193.26" y1="283.7" x2="193.26" y2="353.9" stroke="#52A9F8" stroke-width="1.2" />
<line x1="190.86" y1="283.7" x2="195.66" y2="283.7" stroke="#52A9F8" stroke-width="1.2" />
<line x1="190.86" y1="353.9" x2="195.66" y2="353.9" stroke="#52A9F8" stroke-width="1.2" />
<line x1="203.74" y1="281.5" x2="203.74" y2="370.7" stroke="#52A9F8" stroke-width="1.2" />
<line x1="201.34" y1="281.5" x2="206.14" y2="281.5" stroke="#52A9F8" stroke-width="1.2" />
<line x1="201.34" y1="370.7" x2="206.14" y2="370.7" stroke="#52A9F8" stroke-width="1.2" />
<line x1="214.22" y1="284.8" x2="214.22" y2="355" stroke="#52A9F8" stroke-width="1.2" />
<line x1="211.82" y1="284.8" x2="216.62" y2="284.8" stroke="#52A9F8" stroke-width="1.2" />
<line x1="211.82" y1="355" x2="216.62" y2="355" stroke="#52A9F8" stroke-width="1.2" />
<line x1="224.7" y1="294.6" x2="224.7" y2="339.1" stroke="#52A9F8" stroke-width="1.2" />
<line x1="222.3" y1="294.6" x2="227.1" y2="294.6" stroke="#52A9F8" stroke-width="1.2" />
<line x1="222.3" y1="339.1" x2="227.1" y2="339.1" stroke="#52A9F8" stroke-width="1.2" />
<line x1="235.17" y1="305.8" x2="235.17" y2="358.3" stroke="#52A9F8" stroke-width="1.2" />
<line x1="232.77" y1="305.8" x2="237.57" y2="305.8" stroke="#52A9F8" stroke-width="1.2" />
<line x1="232.77" y1="358.3" x2="237.57" y2="358.3" stroke="#52A9F8" stroke-width="1.2" />
<line x1="245.65" y1="325" x2="245.65" y2="380.4" stroke="#52A9F8" stroke-width="1.2" />
<line x1="243.25" y1="325" x2="248.05" y2="325" stroke="#52A9F8" stroke-width="1.2" />
<line x1="243.25" y1="380.4" x2="248.05" y2="380.4" stroke="#52A9F8" stroke-width="1.2" />
<line x1="256.13" y1="352.3" x2="256.13" y2="371" stroke="#52A9F8" stroke-width="1.2" />
<line x1="253.73" y1="352.3" x2="258.53" y2="352.3" stroke="#52A9F8" stroke-width="1.2" />
<line x1="253.73" y1="371" x2="258.53" y2="371" stroke="#52A9F8" stroke-width="1.2" />
<line x1="266.61" y1="356.3" x2="266.61" y2="370" stroke="#52A9F8" stroke-width="1.2" />
<line x1="264.21" y1="356.3" x2="269.01" y2="356.3" stroke="#52A9F8" stroke-width="1.2" />
<line x1="264.21" y1="370" x2="269.01" y2="370" stroke="#52A9F8" stroke-width="1.2" />
<line x1="277.09" y1="356.3" x2="277.09" y2="372" stroke="#52A9F8" stroke-width="1.2" />
<line x1="274.69" y1="356.3" x2="279.49" y2="356.3" stroke="#52A9F8" stroke-width="1.2" />
<line x1="274.69" y1="372" x2="279.49" y2="372" stroke="#52A9F8" stroke-width="1.2" />
<line x1="287.57" y1="353" x2="287.57" y2="369.6" stroke="#52A9F8" stroke-width="1.2" />
<line x1="285.17" y1="353" x2="289.97" y2="353" stroke="#52A9F8" stroke-width="1.2" />
<line x1="285.17" y1="369.6" x2="289.97" y2="369.6" stroke="#52A9F8" stroke-width="1.2" />
<line x1="298.04" y1="355" x2="298.04" y2="373" stroke="#52A9F8" stroke-width="1.2" />
<line x1="295.64" y1="355" x2="300.44" y2="355" stroke="#52A9F8" stroke-width="1.2" />
<line x1="295.64" y1="373" x2="300.44" y2="373" stroke="#52A9F8" stroke-width="1.2" />
<line x1="308.52" y1="354.4" x2="308.52" y2="372.7" stroke="#52A9F8" stroke-width="1.2" />
<line x1="306.12" y1="354.4" x2="310.92" y2="354.4" stroke="#52A9F8" stroke-width="1.2" />
<line x1="306.12" y1="372.7" x2="310.92" y2="372.7" stroke="#52A9F8" stroke-width="1.2" />
<line x1="319" y1="355.3" x2="319" y2="372" stroke="#52A9F8" stroke-width="1.2" />
<line x1="316.6" y1="355.3" x2="321.4" y2="355.3" stroke="#52A9F8" stroke-width="1.2" />
<line x1="316.6" y1="372" x2="321.4" y2="372" stroke="#52A9F8" stroke-width="1.2" />
<line x1="78" y1="381.7" x2="78" y2="410.4" stroke="#111" stroke-width="1.2" />
<line x1="75.6" y1="381.7" x2="80.4" y2="381.7" stroke="#111" stroke-width="1.2" />
<line x1="75.6" y1="410.4" x2="80.4" y2="410.4" stroke="#111" stroke-width="1.2" />
<line x1="88.48" y1="383.3" x2="88.48" y2="411.5" stroke="#111" stroke-width="1.2" />
<line x1="86.08" y1="383.3" x2="90.88" y2="383.3" stroke="#111" stroke-width="1.2" />
<line x1="86.08" y1="411.5" x2="90.88" y2="411.5" stroke="#111" stroke-width="1.2" />
<line x1="98.96" y1="384.8" x2="98.96" y2="410.9" stroke="#111" stroke-width="1.2" />
<line x1="96.56" y1="384.8" x2="101.36" y2="384.8" stroke="#111" stroke-width="1.2" />
<line x1="96.56" y1="410.9" x2="101.36" y2="410.9" stroke="#111" stroke-width="1.2" />
<line x1="109.43" y1="384.8" x2="109.43" y2="413.3" stroke="#111" stroke-width="1.2" />
<line x1="107.03" y1="384.8" x2="111.83" y2="384.8" stroke="#111" stroke-width="1.2" />
<line x1="107.03" y1="413.3" x2="111.83" y2="413.3" stroke="#111" stroke-width="1.2" />
<line x1="119.91" y1="383.3" x2="119.91" y2="413.7" stroke="#111" stroke-width="1.2" />
<line x1="117.51" y1="383.3" x2="122.31" y2="383.3" stroke="#111" stroke-width="1.2" />
<line x1="117.51" y1="413.7" x2="122.31" y2="413.7" stroke="#111" stroke-width="1.2" />
<line x1="130.39" y1="383.3" x2="130.39" y2="413.7" stroke="#111" stroke-width="1.2" />
<line x1="127.99" y1="383.3" x2="132.79" y2="383.3" stroke="#111" stroke-width="1.2" />
<line x1="127.99" y1="413.7" x2="132.79" y2="413.7" stroke="#111" stroke-width="1.2" />
<line x1="140.87" y1="382.2" x2="140.87" y2="412.2" stroke="#111" stroke-width="1.2" />
<line x1="138.47" y1="382.2" x2="143.27" y2="382.2" stroke="#111" stroke-width="1.2" />
<line x1="138.47" y1="412.2" x2="143.27" y2="412.2" stroke="#111" stroke-width="1.2" />
<line x1="151.35" y1="346.3" x2="151.35" y2="403.5" stroke="#111" stroke-width="1.2" />
<line x1="148.95" y1="346.3" x2="153.75" y2="346.3" stroke="#111" stroke-width="1.2" />
<line x1="148.95" y1="403.5" x2="153.75" y2="403.5" stroke="#111" stroke-width="1.2" />
<line x1="161.83" y1="325.4" x2="161.83" y2="389.3" stroke="#111" stroke-width="1.2" />
<line x1="159.43" y1="325.4" x2="164.23" y2="325.4" stroke="#111" stroke-width="1.2" />
<line x1="159.43" y1="389.3" x2="164.23" y2="389.3" stroke="#111" stroke-width="1.2" />
<line x1="172.3" y1="312.7" x2="172.3" y2="374.2" stroke="#111" stroke-width="1.2" />
<line x1="169.9" y1="312.7" x2="174.7" y2="312.7" stroke="#111" stroke-width="1.2" />
<line x1="169.9" y1="374.2" x2="174.7" y2="374.2" stroke="#111" stroke-width="1.2" />
<line x1="182.78" y1="305.6" x2="182.78" y2="360.9" stroke="#111" stroke-width="1.2" />
<line x1="180.38" y1="305.6" x2="185.18" y2="305.6" stroke="#111" stroke-width="1.2" />
<line x1="180.38" y1="360.9" x2="185.18" y2="360.9" stroke="#111" stroke-width="1.2" />
<line x1="193.26" y1="300.7" x2="193.26" y2="355.4" stroke="#111" stroke-width="1.2" />
<line x1="190.86" y1="300.7" x2="195.66" y2="300.7" stroke="#111" stroke-width="1.2" />
<line x1="190.86" y1="355.4" x2="195.66" y2="355.4" stroke="#111" stroke-width="1.2" />
<line x1="203.74" y1="301.5" x2="203.74" y2="346.7" stroke="#111" stroke-width="1.2" />
<line x1="201.34" y1="301.5" x2="206.14" y2="301.5" stroke="#111" stroke-width="1.2" />
<line x1="201.34" y1="346.7" x2="206.14" y2="346.7" stroke="#111" stroke-width="1.2" />
<line x1="214.22" y1="302.8" x2="214.22" y2="356.1" stroke="#111" stroke-width="1.2" />
<line x1="211.82" y1="302.8" x2="216.62" y2="302.8" stroke="#111" stroke-width="1.2" />
<line x1="211.82" y1="356.1" x2="216.62" y2="356.1" stroke="#111" stroke-width="1.2" />
<line x1="224.7" y1="307.6" x2="224.7" y2="385.4" stroke="#111" stroke-width="1.2" />
<line x1="222.3" y1="307.6" x2="227.1" y2="307.6" stroke="#111" stroke-width="1.2" />
<line x1="222.3" y1="385.4" x2="227.1" y2="385.4" stroke="#111" stroke-width="1.2" />
<line x1="235.17" y1="318" x2="235.17" y2="426" stroke="#111" stroke-width="1.2" />
<line x1="232.77" y1="318" x2="237.57" y2="318" stroke="#111" stroke-width="1.2" />
<line x1="245.65" y1="330" x2="245.65" y2="426" stroke="#111" stroke-width="1.2" />
<line x1="243.25" y1="330" x2="248.05" y2="330" stroke="#111" stroke-width="1.2" />
<line x1="256.13" y1="357.5" x2="256.13" y2="407" stroke="#111" stroke-width="1.2" />
<line x1="253.73" y1="357.5" x2="258.53" y2="357.5" stroke="#111" stroke-width="1.2" />
<line x1="253.73" y1="407" x2="258.53" y2="407" stroke="#111" stroke-width="1.2" />
<line x1="266.61" y1="366.6" x2="266.61" y2="401.9" stroke="#111" stroke-width="1.2" />
<line x1="264.21" y1="366.6" x2="269.01" y2="366.6" stroke="#111" stroke-width="1.2" />
<line x1="264.21" y1="401.9" x2="269.01" y2="401.9" stroke="#111" stroke-width="1.2" />
<line x1="277.09" y1="367.5" x2="277.09" y2="408.5" stroke="#111" stroke-width="1.2" />
<line x1="274.69" y1="367.5" x2="279.49" y2="367.5" stroke="#111" stroke-width="1.2" />
<line x1="274.69" y1="408.5" x2="279.49" y2="408.5" stroke="#111" stroke-width="1.2" />
<line x1="287.57" y1="378" x2="287.57" y2="404" stroke="#111" stroke-width="1.2" />
<line x1="285.17" y1="378" x2="289.97" y2="378" stroke="#111" stroke-width="1.2" />
<line x1="285.17" y1="404" x2="289.97" y2="404" stroke="#111" stroke-width="1.2" />
<line x1="298.04" y1="379.7" x2="298.04" y2="404.9" stroke="#111" stroke-width="1.2" />
<line x1="295.64" y1="379.7" x2="300.44" y2="379.7" stroke="#111" stroke-width="1.2" />
<line x1="295.64" y1="404.9" x2="300.44" y2="404.9" stroke="#111" stroke-width="1.2" />
<line x1="308.52" y1="380.3" x2="308.52" y2="404" stroke="#111" stroke-width="1.2" />
<line x1="306.12" y1="380.3" x2="310.92" y2="380.3" stroke="#111" stroke-width="1.2" />
<line x1="306.12" y1="404" x2="310.92" y2="404" stroke="#111" stroke-width="1.2" />
<line x1="319" y1="381.2" x2="319" y2="406.1" stroke="#111" stroke-width="1.2" />
<line x1="316.6" y1="381.2" x2="321.4" y2="381.2" stroke="#111" stroke-width="1.2" />
<line x1="316.6" y1="406.1" x2="321.4" y2="406.1" stroke="#111" stroke-width="1.2" />
<polyline points="78,363 88.48,363.7 98.96,365.2 109.43,365.4 119.91,365.4 130.39,366.5 140.87,365.2 151.35,346.8 161.83,330 172.3,315 182.78,305.5 193.26,300.5 203.74,298.5 214.22,300.5 224.7,307.5 235.17,317.4 245.65,333.5 256.13,360 266.61,363 277.09,362.3 287.57,360.5 298.04,363 308.52,363 319,363.6" fill="none" stroke="#52A9F8" stroke-width="2.6" stroke-linejoin="round" />
<polyline points="78,392.6 78.52,392.65 79.05,392.69 79.57,392.74 80.1,392.78 80.62,392.83 81.14,392.87 81.67,392.92 82.19,392.97 82.72,393.01 83.24,393.06 83.76,393.1 84.29,393.15 84.81,393.19 85.33,393.24 85.86,393.28 86.38,393.33 86.91,393.37 87.43,393.41 87.95,393.46 88.48,393.5 89,393.54 89.53,393.58 90.05,393.62 90.57,393.66 91.1,393.7 91.62,393.74 92.15,393.78 92.67,393.82 93.19,393.86 93.72,393.9 94.24,393.94 94.77,393.98 95.29,394.02 95.81,394.06 96.34,394.1 96.86,394.14 97.38,394.18 97.91,394.22 98.43,394.26 98.96,394.3 99.48,394.34 100,394.39 100.53,394.45 101.05,394.5 101.58,394.56 102.1,394.62 102.62,394.68 103.15,394.74 103.67,394.8 104.2,394.86 104.72,394.91 105.24,394.96 105.77,395.01 106.29,395.06 106.82,395.1 107.34,395.13 107.86,395.16 108.39,395.18 108.91,395.2 109.43,395.2 109.96,395.2 110.48,395.19 111.01,395.18 111.53,395.17 112.05,395.15 112.58,395.13 113.1,395.11 113.63,395.08 114.15,395.06 114.67,395.03 115.2,395.01 115.72,394.98 116.25,394.95 116.77,394.93 117.29,394.9 117.82,394.88 118.34,394.85 118.87,394.83 119.39,394.81 119.91,394.8 120.44,394.79 120.96,394.78 121.48,394.77 122.01,394.76 122.53,394.75 123.06,394.74 123.58,394.73 124.1,394.72 124.63,394.72 125.15,394.71 125.68,394.7 126.2,394.69 126.72,394.69 127.25,394.68 127.77,394.67 128.3,394.66 128.82,394.64 129.34,394.63 129.87,394.62 130.39,394.6 130.92,394.58 131.44,394.56 131.96,394.54 132.49,394.51 133.01,394.48 133.53,394.45 134.06,394.41 134.58,394.37 135.11,394.32 135.63,394.27 136.15,394.22 136.68,394.16 137.2,394.1 137.73,394.03 138.25,393.95 138.77,393.87 139.3,393.79 139.82,393.7 140.35,393.6 140.87,393.5 141.39,393.26 141.92,392.75 142.44,392 142.97,391.04 143.49,389.88 144.01,388.54 144.54,387.06 145.06,385.46 145.58,383.74 146.11,381.95 146.63,380.1 147.16,378.21 147.68,376.3 148.2,374.41 148.73,372.55 149.25,370.74 149.78,369.01 150.3,367.38 150.82,365.87 151.35,364.5 151.87,363.21 152.4,361.93 152.92,360.65 153.44,359.37 153.97,358.1 154.49,356.84 155.02,355.6 155.54,354.36 156.06,353.14 156.59,351.94 157.11,350.76 157.63,349.61 158.16,348.47 158.68,347.37 159.21,346.29 159.73,345.24 160.25,344.23 160.78,343.25 161.3,342.3 161.83,341.4 162.35,340.52 162.87,339.65 163.4,338.8 163.92,337.96 164.45,337.13 164.97,336.31 165.49,335.51 166.02,334.73 166.54,333.97 167.07,333.23 167.59,332.51 168.11,331.8 168.64,331.13 169.16,330.47 169.68,329.84 170.21,329.24 170.73,328.66 171.26,328.11 171.78,327.59 172.3,327.1 172.83,326.63 173.35,326.18 173.88,325.74 174.4,325.31 174.92,324.9 175.45,324.5 175.97,324.11 176.5,323.73 177.02,323.37 177.54,323.01 178.07,322.67 178.59,322.34 179.12,322.01 179.64,321.7 180.16,321.4 180.69,321.1 181.21,320.81 181.73,320.53 182.26,320.26 182.78,320 183.31,319.74 183.83,319.46 184.35,319.19 184.88,318.91 185.4,318.63 185.93,318.35 186.45,318.08 186.97,317.81 187.5,317.55 188.02,317.3 188.55,317.06 189.07,316.84 189.59,316.64 190.12,316.46 190.64,316.3 191.17,316.16 191.69,316.05 192.21,315.97 192.74,315.92 193.26,315.9 193.78,315.9 194.31,315.9 194.83,315.9 195.36,315.9 195.88,315.9 196.4,315.9 196.93,315.9 197.45,315.9 197.98,315.9 198.5,315.9 199.02,315.9 199.55,315.9 200.07,315.9 200.6,315.9 201.12,315.9 201.64,315.9 202.17,315.9 202.69,315.9 203.22,315.9 203.74,315.9 204.26,315.91 204.79,315.94 205.31,315.99 205.83,316.05 206.36,316.13 206.88,316.22 207.41,316.33 207.93,316.45 208.45,316.58 208.98,316.73 209.5,316.88 210.03,317.04 210.55,317.21 211.07,317.38 211.6,317.56 212.12,317.74 212.65,317.93 213.17,318.12 213.69,318.31 214.22,318.5 214.74,318.7 215.27,318.92 215.79,319.17 216.31,319.43 216.84,319.71 217.36,320.01 217.88,320.33 218.41,320.66 218.93,321.01 219.46,321.37 219.98,321.74 220.5,322.13 221.03,322.52 221.55,322.93 222.08,323.34 222.6,323.76 223.12,324.19 223.65,324.62 224.17,325.06 224.7,325.5 225.22,325.95 225.74,326.43 226.27,326.93 226.79,327.46 227.32,328 227.84,328.56 228.36,329.13 228.89,329.72 229.41,330.33 229.93,330.95 230.46,331.58 230.98,332.22 231.51,332.86 232.03,333.52 232.55,334.18 233.08,334.84 233.6,335.5 234.13,336.17 234.65,336.84 235.17,337.5 235.7,338.17 236.22,338.84 236.75,339.52 237.27,340.2 237.79,340.89 238.32,341.59 238.84,342.3 239.37,343.01 239.89,343.74 240.41,344.47 240.94,345.21 241.46,345.96 241.98,346.71 242.51,347.48 243.03,348.26 243.56,349.05 244.08,349.84 244.6,350.65 245.13,351.47 245.65,352.3 246.18,353.19 246.7,354.17 247.22,355.23 247.75,356.36 248.27,357.54 248.8,358.76 249.32,360 249.84,361.25 250.37,362.49 250.89,363.71 251.42,364.89 251.94,366.02 252.46,367.09 252.99,368.07 253.51,368.97 254.03,369.75 254.56,370.41 255.08,370.93 255.61,371.3 256.13,371.5 256.65,371.61 257.18,371.7 257.7,371.78 258.23,371.85 258.75,371.91 259.27,371.96 259.8,372.01 260.32,372.05 260.85,372.09 261.37,372.13 261.89,372.16 262.42,372.2 262.94,372.24 263.47,372.28 263.99,372.33 264.51,372.39 265.04,372.45 265.56,372.52 266.08,372.6 266.61,372.7 267.13,372.83 267.66,372.99 268.18,373.2 268.7,373.45 269.23,373.73 269.75,374.04 270.28,374.37 270.8,374.73 271.32,375.11 271.85,375.51 272.37,375.92 272.9,376.35 273.42,376.77 273.94,377.21 274.47,377.64 274.99,378.07 275.52,378.5 276.04,378.91 276.56,379.31 277.09,379.7 277.61,380.1 278.13,380.53 278.66,380.99 279.18,381.47 279.71,381.97 280.23,382.48 280.75,383 281.28,383.52 281.8,384.03 282.33,384.54 282.85,385.03 283.37,385.51 283.9,385.95 284.42,386.37 284.95,386.74 285.47,387.08 285.99,387.37 286.52,387.61 287.04,387.79 287.57,387.9 288.09,387.98 288.61,388.05 289.14,388.12 289.66,388.18 290.18,388.23 290.71,388.29 291.23,388.34 291.76,388.38 292.28,388.42 292.8,388.46 293.33,388.5 293.85,388.54 294.38,388.57 294.9,388.6 295.42,388.63 295.95,388.67 296.47,388.7 297,388.73 297.52,388.76 298.04,388.8 298.57,388.83 299.09,388.87 299.62,388.9 300.14,388.93 300.66,388.95 301.19,388.98 301.71,389 302.23,389.03 302.76,389.05 303.28,389.08 303.81,389.1 304.33,389.13 304.85,389.16 305.38,389.18 305.9,389.21 306.43,389.25 306.95,389.28 307.47,389.32 308,389.36 308.52,389.4 309.05,389.45 309.57,389.51 310.09,389.57 310.62,389.64 311.14,389.72 311.67,389.81 312.19,389.9 312.71,389.99 313.24,390.09 313.76,390.19 314.28,390.29 314.81,390.39 315.33,390.5 315.86,390.6 316.38,390.71 316.9,390.81 317.43,390.91 317.95,391.01 318.48,391.11 319,391.2" fill="none" stroke="#000" stroke-width="2.5" stroke-linejoin="round" />
<line x1="75.2" y1="426.29" x2="78" y2="426.29" stroke="#52A9F8" stroke-width="1.2" />
<line x1="75.2" y1="422.7" x2="78" y2="422.7" stroke="#52A9F8" stroke-width="1.2" />
<line x1="75.2" y1="419.53" x2="78" y2="419.53" stroke="#52A9F8" stroke-width="1.2" />
<line x1="73" y1="416.7" x2="78" y2="416.7" stroke="#52A9F8" stroke-width="1.2" />
<line x1="75.2" y1="398.07" x2="78" y2="398.07" stroke="#52A9F8" stroke-width="1.2" />
<line x1="75.2" y1="387.17" x2="78" y2="387.17" stroke="#52A9F8" stroke-width="1.2" />
<line x1="75.2" y1="379.43" x2="78" y2="379.43" stroke="#52A9F8" stroke-width="1.2" />
<line x1="75.2" y1="373.43" x2="78" y2="373.43" stroke="#52A9F8" stroke-width="1.2" />
<line x1="75.2" y1="368.53" x2="78" y2="368.53" stroke="#52A9F8" stroke-width="1.2" />
<line x1="75.2" y1="364.39" x2="78" y2="364.39" stroke="#52A9F8" stroke-width="1.2" />
<line x1="75.2" y1="360.8" x2="78" y2="360.8" stroke="#52A9F8" stroke-width="1.2" />
<line x1="75.2" y1="357.63" x2="78" y2="357.63" stroke="#52A9F8" stroke-width="1.2" />
<line x1="73" y1="354.8" x2="78" y2="354.8" stroke="#52A9F8" stroke-width="1.2" />
<line x1="75.2" y1="336.17" x2="78" y2="336.17" stroke="#52A9F8" stroke-width="1.2" />
<line x1="75.2" y1="325.27" x2="78" y2="325.27" stroke="#52A9F8" stroke-width="1.2" />
<line x1="75.2" y1="317.53" x2="78" y2="317.53" stroke="#52A9F8" stroke-width="1.2" />
<line x1="75.2" y1="311.53" x2="78" y2="311.53" stroke="#52A9F8" stroke-width="1.2" />
<line x1="75.2" y1="306.63" x2="78" y2="306.63" stroke="#52A9F8" stroke-width="1.2" />
<line x1="75.2" y1="302.49" x2="78" y2="302.49" stroke="#52A9F8" stroke-width="1.2" />
<line x1="75.2" y1="298.9" x2="78" y2="298.9" stroke="#52A9F8" stroke-width="1.2" />
<line x1="75.2" y1="295.73" x2="78" y2="295.73" stroke="#52A9F8" stroke-width="1.2" />
<line x1="73" y1="292.9" x2="78" y2="292.9" stroke="#52A9F8" stroke-width="1.2" />
<line x1="75.2" y1="274.27" x2="78" y2="274.27" stroke="#52A9F8" stroke-width="1.2" />
<line x1="75.2" y1="263.37" x2="78" y2="263.37" stroke="#52A9F8" stroke-width="1.2" />
<text x="52.2" y="421.1" font-size="12.6" fill="#52A9F8">10<tspan font-size="8.3" dy="-5.5">5</tspan></text>
<text x="52.2" y="359.2" font-size="12.6" fill="#52A9F8">10<tspan font-size="8.3" dy="-5.5">6</tspan></text>
<text x="52.2" y="297.3" font-size="12.6" fill="#52A9F8">10<tspan font-size="8.3" dy="-5.5">7</tspan></text>
<line x1="78" y1="426" x2="78" y2="429.5" stroke="#000" stroke-width="1.2" />
<line x1="88.48" y1="426" x2="88.48" y2="428" stroke="#000" stroke-width="1.2" />
<line x1="98.96" y1="426" x2="98.96" y2="428" stroke="#000" stroke-width="1.2" />
<line x1="109.43" y1="426" x2="109.43" y2="428" stroke="#000" stroke-width="1.2" />
<line x1="119.91" y1="426" x2="119.91" y2="428" stroke="#000" stroke-width="1.2" />
<line x1="130.39" y1="426" x2="130.39" y2="428" stroke="#000" stroke-width="1.2" />
<line x1="140.87" y1="426" x2="140.87" y2="429.5" stroke="#000" stroke-width="1.2" />
<line x1="151.35" y1="426" x2="151.35" y2="428" stroke="#000" stroke-width="1.2" />
<line x1="161.83" y1="426" x2="161.83" y2="428" stroke="#000" stroke-width="1.2" />
<line x1="172.3" y1="426" x2="172.3" y2="428" stroke="#000" stroke-width="1.2" />
<line x1="182.78" y1="426" x2="182.78" y2="428" stroke="#000" stroke-width="1.2" />
<line x1="193.26" y1="426" x2="193.26" y2="428" stroke="#000" stroke-width="1.2" />
<line x1="203.74" y1="426" x2="203.74" y2="429.5" stroke="#000" stroke-width="1.2" />
<line x1="214.22" y1="426" x2="214.22" y2="428" stroke="#000" stroke-width="1.2" />
<line x1="224.7" y1="426" x2="224.7" y2="428" stroke="#000" stroke-width="1.2" />
<line x1="235.17" y1="426" x2="235.17" y2="428" stroke="#000" stroke-width="1.2" />
<line x1="245.65" y1="426" x2="245.65" y2="428" stroke="#000" stroke-width="1.2" />
<line x1="256.13" y1="426" x2="256.13" y2="428" stroke="#000" stroke-width="1.2" />
<line x1="266.61" y1="426" x2="266.61" y2="429.5" stroke="#000" stroke-width="1.2" />
<line x1="277.09" y1="426" x2="277.09" y2="428" stroke="#000" stroke-width="1.2" />
<line x1="287.57" y1="426" x2="287.57" y2="428" stroke="#000" stroke-width="1.2" />
<line x1="298.04" y1="426" x2="298.04" y2="428" stroke="#000" stroke-width="1.2" />
<line x1="308.52" y1="426" x2="308.52" y2="428" stroke="#000" stroke-width="1.2" />
<line x1="319" y1="426" x2="319" y2="428" stroke="#000" stroke-width="1.2" />
<text x="78" y="441.5" font-size="12.2" fill="#000" text-anchor="middle" >0</text>
<text x="140.87" y="441.5" font-size="12.2" fill="#000" text-anchor="middle" >6</text>
<text x="203.74" y="441.5" font-size="12.2" fill="#000" text-anchor="middle" >12</text>
<text x="266.61" y="441.5" font-size="12.2" fill="#000" text-anchor="middle" >18</text>
<text x="198.9" y="457.4" font-size="13.6" fill="#000" text-anchor="middle" >Hour</text>
<g transform="translate(47,345.2) rotate(-90)"><text x="0" y="0" font-size="13.3" fill="#52A9F8" text-anchor="middle">H<tspan font-size="7.4" dy="2.8">2</tspan><tspan dy="-2.8">SO</tspan><tspan font-size="7.4" dy="2.8">4</tspan><tspan dy="-2.8"> (molecule/cm</tspan><tspan font-size="7.4" dy="-5.4">3</tspan><tspan dy="5">)</tspan></text></g>
<text x="82.2" y="280.9" font-size="16" fill="#000" text-anchor="start" >(b)</text>
<line x1="107.2" y1="274.8" x2="132" y2="274.8" stroke="#52A9F8" stroke-width="2.5" stroke-linecap="round"/>
<text x="134.4" y="278.8" font-size="12.8" fill="#000" text-anchor="start" >CD supersite&#160; in 2018</text>
<line x1="107.2" y1="290.8" x2="132" y2="290.8" stroke="#000" stroke-width="2.5" stroke-linecap="round"/>
<text x="134.4" y="294.8" font-size="12.8" fill="#000" text-anchor="start" >HKUST in 2022</text>
<line x1="379.3" y1="263" x2="620" y2="263" stroke="#000" stroke-width="1.7" />
<line x1="620" y1="263" x2="620" y2="426" stroke="#000" stroke-width="1.7" />
<line x1="379.3" y1="426" x2="620" y2="426" stroke="#000" stroke-width="1.7" />
<line x1="379.3" y1="262.15" x2="379.3" y2="426.85" stroke="#000" stroke-width="1.7" />
<line x1="379.3" y1="327.5" x2="379.3" y2="386" stroke="#52A9F8" stroke-width="1.2" />
<line x1="376.9" y1="327.5" x2="381.7" y2="327.5" stroke="#52A9F8" stroke-width="1.2" />
<line x1="376.9" y1="386" x2="381.7" y2="386" stroke="#52A9F8" stroke-width="1.2" />
<line x1="389.77" y1="316" x2="389.77" y2="395" stroke="#52A9F8" stroke-width="1.2" />
<line x1="387.37" y1="316" x2="392.17" y2="316" stroke="#52A9F8" stroke-width="1.2" />
<line x1="387.37" y1="395" x2="392.17" y2="395" stroke="#52A9F8" stroke-width="1.2" />
<line x1="400.23" y1="324.5" x2="400.23" y2="395.4" stroke="#52A9F8" stroke-width="1.2" />
<line x1="397.83" y1="324.5" x2="402.63" y2="324.5" stroke="#52A9F8" stroke-width="1.2" />
<line x1="397.83" y1="395.4" x2="402.63" y2="395.4" stroke="#52A9F8" stroke-width="1.2" />
<line x1="410.7" y1="324.5" x2="410.7" y2="392.6" stroke="#52A9F8" stroke-width="1.2" />
<line x1="408.3" y1="324.5" x2="413.1" y2="324.5" stroke="#52A9F8" stroke-width="1.2" />
<line x1="408.3" y1="392.6" x2="413.1" y2="392.6" stroke="#52A9F8" stroke-width="1.2" />
<line x1="421.16" y1="326.7" x2="421.16" y2="389.2" stroke="#52A9F8" stroke-width="1.2" />
<line x1="418.76" y1="326.7" x2="423.56" y2="326.7" stroke="#52A9F8" stroke-width="1.2" />
<line x1="418.76" y1="389.2" x2="423.56" y2="389.2" stroke="#52A9F8" stroke-width="1.2" />
<line x1="431.63" y1="328.3" x2="431.63" y2="391.3" stroke="#52A9F8" stroke-width="1.2" />
<line x1="429.23" y1="328.3" x2="434.03" y2="328.3" stroke="#52A9F8" stroke-width="1.2" />
<line x1="429.23" y1="391.3" x2="434.03" y2="391.3" stroke="#52A9F8" stroke-width="1.2" />
<line x1="442.09" y1="330" x2="442.09" y2="389" stroke="#52A9F8" stroke-width="1.2" />
<line x1="439.69" y1="330" x2="444.49" y2="330" stroke="#52A9F8" stroke-width="1.2" />
<line x1="439.69" y1="389" x2="444.49" y2="389" stroke="#52A9F8" stroke-width="1.2" />
<line x1="452.56" y1="315.1" x2="452.56" y2="382.3" stroke="#52A9F8" stroke-width="1.2" />
<line x1="450.16" y1="315.1" x2="454.96" y2="315.1" stroke="#52A9F8" stroke-width="1.2" />
<line x1="450.16" y1="382.3" x2="454.96" y2="382.3" stroke="#52A9F8" stroke-width="1.2" />
<line x1="463.02" y1="317.6" x2="463.02" y2="387.1" stroke="#52A9F8" stroke-width="1.2" />
<line x1="460.62" y1="317.6" x2="465.42" y2="317.6" stroke="#52A9F8" stroke-width="1.2" />
<line x1="460.62" y1="387.1" x2="465.42" y2="387.1" stroke="#52A9F8" stroke-width="1.2" />
<line x1="473.49" y1="323" x2="473.49" y2="386.2" stroke="#52A9F8" stroke-width="1.2" />
<line x1="471.09" y1="323" x2="475.89" y2="323" stroke="#52A9F8" stroke-width="1.2" />
<line x1="471.09" y1="386.2" x2="475.89" y2="386.2" stroke="#52A9F8" stroke-width="1.2" />
<line x1="483.95" y1="318.5" x2="483.95" y2="382.5" stroke="#52A9F8" stroke-width="1.2" />
<line x1="481.55" y1="318.5" x2="486.35" y2="318.5" stroke="#52A9F8" stroke-width="1.2" />
<line x1="481.55" y1="382.5" x2="486.35" y2="382.5" stroke="#52A9F8" stroke-width="1.2" />
<line x1="494.42" y1="318.5" x2="494.42" y2="383.4" stroke="#52A9F8" stroke-width="1.2" />
<line x1="492.02" y1="318.5" x2="496.82" y2="318.5" stroke="#52A9F8" stroke-width="1.2" />
<line x1="492.02" y1="383.4" x2="496.82" y2="383.4" stroke="#52A9F8" stroke-width="1.2" />
<line x1="504.88" y1="300.7" x2="504.88" y2="393.8" stroke="#52A9F8" stroke-width="1.2" />
<line x1="502.48" y1="300.7" x2="507.28" y2="300.7" stroke="#52A9F8" stroke-width="1.2" />
<line x1="502.48" y1="393.8" x2="507.28" y2="393.8" stroke="#52A9F8" stroke-width="1.2" />
<line x1="515.35" y1="305.5" x2="515.35" y2="382" stroke="#52A9F8" stroke-width="1.2" />
<line x1="512.95" y1="305.5" x2="517.75" y2="305.5" stroke="#52A9F8" stroke-width="1.2" />
<line x1="512.95" y1="382" x2="517.75" y2="382" stroke="#52A9F8" stroke-width="1.2" />
<line x1="525.81" y1="282.9" x2="525.81" y2="380.1" stroke="#52A9F8" stroke-width="1.2" />
<line x1="523.41" y1="282.9" x2="528.21" y2="282.9" stroke="#52A9F8" stroke-width="1.2" />
<line x1="523.41" y1="380.1" x2="528.21" y2="380.1" stroke="#52A9F8" stroke-width="1.2" />
<line x1="536.28" y1="298" x2="536.28" y2="382" stroke="#52A9F8" stroke-width="1.2" />
<line x1="533.88" y1="298" x2="538.68" y2="298" stroke="#52A9F8" stroke-width="1.2" />
<line x1="533.88" y1="382" x2="538.68" y2="382" stroke="#52A9F8" stroke-width="1.2" />
<line x1="546.74" y1="299.5" x2="546.74" y2="382" stroke="#52A9F8" stroke-width="1.2" />
<line x1="544.34" y1="299.5" x2="549.14" y2="299.5" stroke="#52A9F8" stroke-width="1.2" />
<line x1="544.34" y1="382" x2="549.14" y2="382" stroke="#52A9F8" stroke-width="1.2" />
<line x1="557.21" y1="309.1" x2="557.21" y2="379" stroke="#52A9F8" stroke-width="1.2" />
<line x1="554.81" y1="309.1" x2="559.61" y2="309.1" stroke="#52A9F8" stroke-width="1.2" />
<line x1="554.81" y1="379" x2="559.61" y2="379" stroke="#52A9F8" stroke-width="1.2" />
<line x1="567.67" y1="319.9" x2="567.67" y2="380.1" stroke="#52A9F8" stroke-width="1.2" />
<line x1="565.27" y1="319.9" x2="570.07" y2="319.9" stroke="#52A9F8" stroke-width="1.2" />
<line x1="565.27" y1="380.1" x2="570.07" y2="380.1" stroke="#52A9F8" stroke-width="1.2" />
<line x1="578.14" y1="318" x2="578.14" y2="378.3" stroke="#52A9F8" stroke-width="1.2" />
<line x1="575.74" y1="318" x2="580.54" y2="318" stroke="#52A9F8" stroke-width="1.2" />
<line x1="575.74" y1="378.3" x2="580.54" y2="378.3" stroke="#52A9F8" stroke-width="1.2" />
<line x1="588.6" y1="277.4" x2="588.6" y2="371.6" stroke="#52A9F8" stroke-width="1.2" />
<line x1="586.2" y1="277.4" x2="591" y2="277.4" stroke="#52A9F8" stroke-width="1.2" />
<line x1="586.2" y1="371.6" x2="591" y2="371.6" stroke="#52A9F8" stroke-width="1.2" />
<line x1="599.07" y1="304.3" x2="599.07" y2="385.6" stroke="#52A9F8" stroke-width="1.2" />
<line x1="596.67" y1="304.3" x2="601.47" y2="304.3" stroke="#52A9F8" stroke-width="1.2" />
<line x1="596.67" y1="385.6" x2="601.47" y2="385.6" stroke="#52A9F8" stroke-width="1.2" />
<line x1="609.53" y1="299.5" x2="609.53" y2="390.1" stroke="#52A9F8" stroke-width="1.2" />
<line x1="607.13" y1="299.5" x2="611.93" y2="299.5" stroke="#52A9F8" stroke-width="1.2" />
<line x1="607.13" y1="390.1" x2="611.93" y2="390.1" stroke="#52A9F8" stroke-width="1.2" />
<line x1="620" y1="310.6" x2="620" y2="391.2" stroke="#52A9F8" stroke-width="1.2" />
<line x1="617.6" y1="310.6" x2="622.4" y2="310.6" stroke="#52A9F8" stroke-width="1.2" />
<line x1="617.6" y1="391.2" x2="622.4" y2="391.2" stroke="#52A9F8" stroke-width="1.2" />
<line x1="379.3" y1="386.3" x2="379.3" y2="419.2" stroke="#111" stroke-width="1.2" />
<line x1="376.9" y1="386.3" x2="381.7" y2="386.3" stroke="#111" stroke-width="1.2" />
<line x1="376.9" y1="419.2" x2="381.7" y2="419.2" stroke="#111" stroke-width="1.2" />
<line x1="389.77" y1="383.8" x2="389.77" y2="420.6" stroke="#111" stroke-width="1.2" />
<line x1="387.37" y1="383.8" x2="392.17" y2="383.8" stroke="#111" stroke-width="1.2" />
<line x1="387.37" y1="420.6" x2="392.17" y2="420.6" stroke="#111" stroke-width="1.2" />
<line x1="400.23" y1="384.8" x2="400.23" y2="421.4" stroke="#111" stroke-width="1.2" />
<line x1="397.83" y1="384.8" x2="402.63" y2="384.8" stroke="#111" stroke-width="1.2" />
<line x1="397.83" y1="421.4" x2="402.63" y2="421.4" stroke="#111" stroke-width="1.2" />
<line x1="410.7" y1="386" x2="410.7" y2="421.4" stroke="#111" stroke-width="1.2" />
<line x1="408.3" y1="386" x2="413.1" y2="386" stroke="#111" stroke-width="1.2" />
<line x1="408.3" y1="421.4" x2="413.1" y2="421.4" stroke="#111" stroke-width="1.2" />
<line x1="421.16" y1="381.6" x2="421.16" y2="422.2" stroke="#111" stroke-width="1.2" />
<line x1="418.76" y1="381.6" x2="423.56" y2="381.6" stroke="#111" stroke-width="1.2" />
<line x1="418.76" y1="422.2" x2="423.56" y2="422.2" stroke="#111" stroke-width="1.2" />
<line x1="431.63" y1="377.8" x2="431.63" y2="423.4" stroke="#111" stroke-width="1.2" />
<line x1="429.23" y1="377.8" x2="434.03" y2="377.8" stroke="#111" stroke-width="1.2" />
<line x1="429.23" y1="423.4" x2="434.03" y2="423.4" stroke="#111" stroke-width="1.2" />
<line x1="442.09" y1="377.5" x2="442.09" y2="426" stroke="#111" stroke-width="1.2" />
<line x1="439.69" y1="377.5" x2="444.49" y2="377.5" stroke="#111" stroke-width="1.2" />
<line x1="452.56" y1="376.5" x2="452.56" y2="426" stroke="#111" stroke-width="1.2" />
<line x1="450.16" y1="376.5" x2="454.96" y2="376.5" stroke="#111" stroke-width="1.2" />
<line x1="463.02" y1="377" x2="463.02" y2="422.7" stroke="#111" stroke-width="1.2" />
<line x1="460.62" y1="377" x2="465.42" y2="377" stroke="#111" stroke-width="1.2" />
<line x1="460.62" y1="422.7" x2="465.42" y2="422.7" stroke="#111" stroke-width="1.2" />
<line x1="473.49" y1="378.2" x2="473.49" y2="419" stroke="#111" stroke-width="1.2" />
<line x1="471.09" y1="378.2" x2="475.89" y2="378.2" stroke="#111" stroke-width="1.2" />
<line x1="471.09" y1="419" x2="475.89" y2="419" stroke="#111" stroke-width="1.2" />
<line x1="483.95" y1="379.3" x2="483.95" y2="418.1" stroke="#111" stroke-width="1.2" />
<line x1="481.55" y1="379.3" x2="486.35" y2="379.3" stroke="#111" stroke-width="1.2" />
<line x1="481.55" y1="418.1" x2="486.35" y2="418.1" stroke="#111" stroke-width="1.2" />
<line x1="494.42" y1="381.6" x2="494.42" y2="418.1" stroke="#111" stroke-width="1.2" />
<line x1="492.02" y1="381.6" x2="496.82" y2="381.6" stroke="#111" stroke-width="1.2" />
<line x1="492.02" y1="418.1" x2="496.82" y2="418.1" stroke="#111" stroke-width="1.2" />
<line x1="504.88" y1="383.8" x2="504.88" y2="415.2" stroke="#111" stroke-width="1.2" />
<line x1="502.48" y1="383.8" x2="507.28" y2="383.8" stroke="#111" stroke-width="1.2" />
<line x1="502.48" y1="415.2" x2="507.28" y2="415.2" stroke="#111" stroke-width="1.2" />
<line x1="515.35" y1="383" x2="515.35" y2="415.2" stroke="#111" stroke-width="1.2" />
<line x1="512.95" y1="383" x2="517.75" y2="383" stroke="#111" stroke-width="1.2" />
<line x1="512.95" y1="415.2" x2="517.75" y2="415.2" stroke="#111" stroke-width="1.2" />
<line x1="525.81" y1="383" x2="525.81" y2="416" stroke="#111" stroke-width="1.2" />
<line x1="523.41" y1="383" x2="528.21" y2="383" stroke="#111" stroke-width="1.2" />
<line x1="523.41" y1="416" x2="528.21" y2="416" stroke="#111" stroke-width="1.2" />
<line x1="536.28" y1="383.8" x2="536.28" y2="416" stroke="#111" stroke-width="1.2" />
<line x1="533.88" y1="383.8" x2="538.68" y2="383.8" stroke="#111" stroke-width="1.2" />
<line x1="533.88" y1="416" x2="538.68" y2="416" stroke="#111" stroke-width="1.2" />
<line x1="546.74" y1="384.9" x2="546.74" y2="417" stroke="#111" stroke-width="1.2" />
<line x1="544.34" y1="384.9" x2="549.14" y2="384.9" stroke="#111" stroke-width="1.2" />
<line x1="544.34" y1="417" x2="549.14" y2="417" stroke="#111" stroke-width="1.2" />
<line x1="557.21" y1="384.9" x2="557.21" y2="418.2" stroke="#111" stroke-width="1.2" />
<line x1="554.81" y1="384.9" x2="559.61" y2="384.9" stroke="#111" stroke-width="1.2" />
<line x1="554.81" y1="418.2" x2="559.61" y2="418.2" stroke="#111" stroke-width="1.2" />
<line x1="567.67" y1="385.6" x2="567.67" y2="418.2" stroke="#111" stroke-width="1.2" />
<line x1="565.27" y1="385.6" x2="570.07" y2="385.6" stroke="#111" stroke-width="1.2" />
<line x1="565.27" y1="418.2" x2="570.07" y2="418.2" stroke="#111" stroke-width="1.2" />
<line x1="578.14" y1="384.9" x2="578.14" y2="418.2" stroke="#111" stroke-width="1.2" />
<line x1="575.74" y1="384.9" x2="580.54" y2="384.9" stroke="#111" stroke-width="1.2" />
<line x1="575.74" y1="418.2" x2="580.54" y2="418.2" stroke="#111" stroke-width="1.2" />
<line x1="588.6" y1="384.9" x2="588.6" y2="418.2" stroke="#111" stroke-width="1.2" />
<line x1="586.2" y1="384.9" x2="591" y2="384.9" stroke="#111" stroke-width="1.2" />
<line x1="586.2" y1="418.2" x2="591" y2="418.2" stroke="#111" stroke-width="1.2" />
<line x1="599.07" y1="385.6" x2="599.07" y2="418.2" stroke="#111" stroke-width="1.2" />
<line x1="596.67" y1="385.6" x2="601.47" y2="385.6" stroke="#111" stroke-width="1.2" />
<line x1="596.67" y1="418.2" x2="601.47" y2="418.2" stroke="#111" stroke-width="1.2" />
<line x1="609.53" y1="384.9" x2="609.53" y2="418.2" stroke="#111" stroke-width="1.2" />
<line x1="607.13" y1="384.9" x2="611.93" y2="384.9" stroke="#111" stroke-width="1.2" />
<line x1="607.13" y1="418.2" x2="611.93" y2="418.2" stroke="#111" stroke-width="1.2" />
<line x1="620" y1="383.8" x2="620" y2="418.9" stroke="#111" stroke-width="1.2" />
<line x1="617.6" y1="383.8" x2="622.4" y2="383.8" stroke="#111" stroke-width="1.2" />
<line x1="617.6" y1="418.9" x2="622.4" y2="418.9" stroke="#111" stroke-width="1.2" />
<polyline points="379.3,357 389.77,356 400.23,359.6 410.7,358.3 421.16,358.7 431.63,359.6 442.09,358.7 452.56,349.6 463.02,354.2 473.49,354.2 483.95,352.3 494.42,351.4 504.88,348 515.35,344.3 525.81,331.8 536.28,341.3 546.74,342 557.21,345 567.67,350.5 578.14,348 588.6,324.7 599.07,344.3 609.53,345 620,351.6" fill="none" stroke="#52A9F8" stroke-width="2.6" stroke-linejoin="round" />
<polyline points="379.3,403 389.77,401.9 400.23,403 410.7,404 421.16,402.1 431.63,401 442.09,402.1 452.56,401.1 463.02,399.6 473.49,398.2 483.95,397.5 494.42,398.5 504.88,399.7 515.35,400.4 525.81,399.5 536.28,399.7 546.74,401.2 557.21,401.5 567.67,402.3 578.14,401.9 588.6,401.9 599.07,402.3 609.53,402.3 620,401.5" fill="none" stroke="#000" stroke-width="2.5" stroke-linejoin="round" />
<line x1="374.8" y1="426" x2="379.3" y2="426" stroke="#000" stroke-width="1.2" />
<line x1="376.8" y1="394.7" x2="379.3" y2="394.7" stroke="#000" stroke-width="1.2" />
<line x1="374.8" y1="363.4" x2="379.3" y2="363.4" stroke="#000" stroke-width="1.2" />
<line x1="376.8" y1="332.1" x2="379.3" y2="332.1" stroke="#000" stroke-width="1.2" />
<line x1="374.8" y1="300.8" x2="379.3" y2="300.8" stroke="#000" stroke-width="1.2" />
<line x1="376.8" y1="269.5" x2="379.3" y2="269.5" stroke="#000" stroke-width="1.2" />
<text x="369" y="430.2" font-size="12.2" fill="#000" text-anchor="end" >0</text>
<text x="369" y="367.6" font-size="12.2" fill="#000" text-anchor="end" >1</text>
<text x="369" y="305" font-size="12.2" fill="#000" text-anchor="end" >2</text>
<line x1="379.3" y1="426" x2="379.3" y2="429.2" stroke="#000" stroke-width="1.2" />
<text x="379.3" y="441.5" font-size="12.2" fill="#000" text-anchor="middle" >0</text>
<line x1="442.09" y1="426" x2="442.09" y2="429.2" stroke="#000" stroke-width="1.2" />
<line x1="442.09" y1="263" x2="442.09" y2="265.8" stroke="#000" stroke-width="1.2" />
<text x="442.09" y="441.5" font-size="12.2" fill="#000" text-anchor="middle" >6</text>
<line x1="504.88" y1="426" x2="504.88" y2="429.2" stroke="#000" stroke-width="1.2" />
<line x1="504.88" y1="263" x2="504.88" y2="265.8" stroke="#000" stroke-width="1.2" />
<text x="504.88" y="441.5" font-size="12.2" fill="#000" text-anchor="middle" >12</text>
<line x1="567.67" y1="426" x2="567.67" y2="429.2" stroke="#000" stroke-width="1.2" />
<line x1="567.67" y1="263" x2="567.67" y2="265.8" stroke="#000" stroke-width="1.2" />
<text x="567.67" y="441.5" font-size="12.2" fill="#000" text-anchor="middle" >18</text>
<text x="495.6" y="458.6" font-size="14" fill="#000" text-anchor="middle" >Hour</text>
<g transform="translate(356.5,347.4) rotate(-90)"><text x="0" y="0" font-size="13" text-anchor="middle">SO<tspan font-size="8" dy="2.6">2</tspan><tspan dy="-2.6"> (ppb)</tspan></text></g>
<text x="382.9" y="281.2" font-size="16" fill="#000" text-anchor="start" >(c)</text>
<line x1="402.8" y1="275.4" x2="427.6" y2="275.4" stroke="#52A9F8" stroke-width="2.5" stroke-linecap="round"/>
<text x="430.4" y="279.7" font-size="12.8" fill="#000" text-anchor="start" >CD supersite&#160; in 2018</text>
<line x1="402.8" y1="291.6" x2="427.6" y2="291.6" stroke="#000" stroke-width="2.5" stroke-linecap="round"/>
<text x="430.4" y="295.3" font-size="12.8" fill="#000" text-anchor="start" >HKUST in 2022</text>
</svg>
</body></html>
